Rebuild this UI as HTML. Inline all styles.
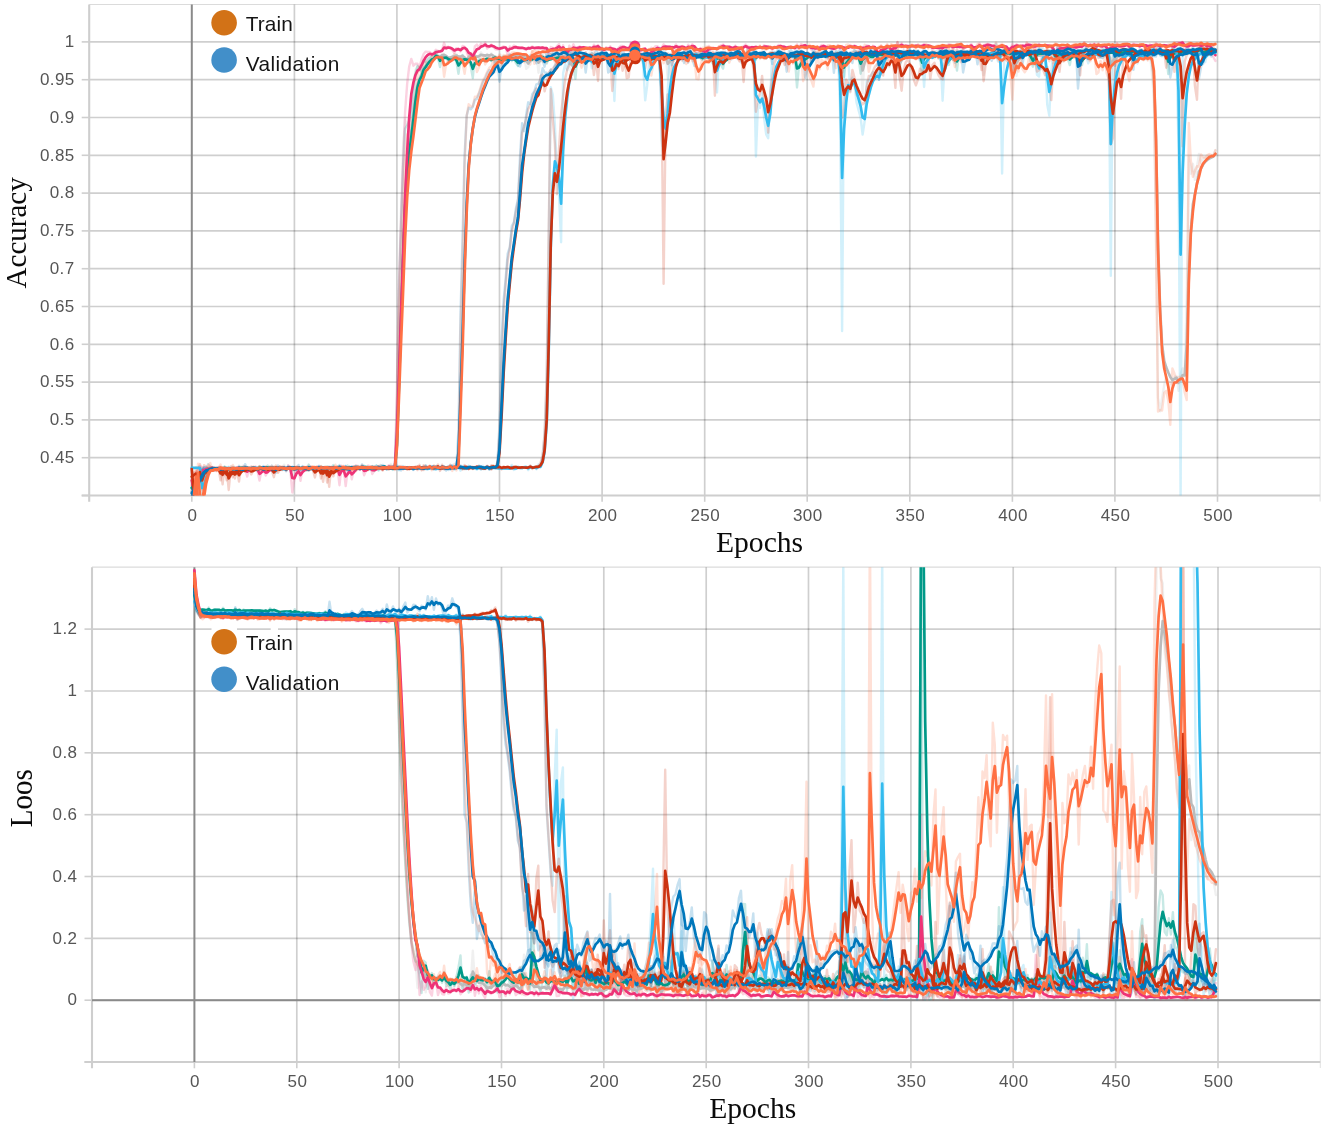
<!DOCTYPE html>
<html lang="en"><head><meta charset="utf-8"><title>Training curves</title>
<style>html,body{margin:0;padding:0;background:#fff}svg{display:block}.tk text{font-family:"Liberation Sans",sans-serif;font-size:17px;letter-spacing:.4px;fill:#555}.lg{font-family:"Liberation Sans","DejaVu Sans",sans-serif;font-size:20.8px;letter-spacing:.1px;fill:#141414}.ti{font-family:"Liberation Serif",serif;font-size:29.6px;fill:#0a0a0a}</style></head><body>
<svg width="1325" height="1130" viewBox="0 0 1325 1130">
<rect width="1325" height="1130" fill="#fff"/>
<defs><clipPath id="ct"><rect x="89.2" y="4.5" width="1230.8" height="491"/></clipPath>
<clipPath id="cb"><rect x="92" y="567.2" width="1228.3" height="494.8"/></clipPath></defs>
<line x1="89.2" x2="1320.1" y1="457.7" y2="457.7" stroke="#000" stroke-opacity="0.19" stroke-width="1.7"/>
<line x1="89.2" x2="1320.1" y1="419.9" y2="419.9" stroke="#000" stroke-opacity="0.19" stroke-width="1.7"/>
<line x1="89.2" x2="1320.1" y1="382.1" y2="382.1" stroke="#000" stroke-opacity="0.19" stroke-width="1.7"/>
<line x1="89.2" x2="1320.1" y1="344.3" y2="344.3" stroke="#000" stroke-opacity="0.19" stroke-width="1.7"/>
<line x1="89.2" x2="1320.1" y1="306.5" y2="306.5" stroke="#000" stroke-opacity="0.19" stroke-width="1.7"/>
<line x1="89.2" x2="1320.1" y1="268.7" y2="268.7" stroke="#000" stroke-opacity="0.19" stroke-width="1.7"/>
<line x1="89.2" x2="1320.1" y1="230.9" y2="230.9" stroke="#000" stroke-opacity="0.19" stroke-width="1.7"/>
<line x1="89.2" x2="1320.1" y1="193.1" y2="193.1" stroke="#000" stroke-opacity="0.19" stroke-width="1.7"/>
<line x1="89.2" x2="1320.1" y1="155.3" y2="155.3" stroke="#000" stroke-opacity="0.19" stroke-width="1.7"/>
<line x1="89.2" x2="1320.1" y1="117.5" y2="117.5" stroke="#000" stroke-opacity="0.19" stroke-width="1.7"/>
<line x1="89.2" x2="1320.1" y1="79.7" y2="79.7" stroke="#000" stroke-opacity="0.19" stroke-width="1.7"/>
<line x1="89.2" x2="1320.1" y1="41.9" y2="41.9" stroke="#000" stroke-opacity="0.19" stroke-width="1.7"/>
<line x1="89.2" x2="1320.1" y1="4.5" y2="4.5" stroke="#000" stroke-opacity="0.14" stroke-width="1.2"/>
<line x1="294.4" x2="294.4" y1="4.5" y2="495.5" stroke="#000" stroke-opacity="0.19" stroke-width="1.7"/>
<line x1="396.9" x2="396.9" y1="4.5" y2="495.5" stroke="#000" stroke-opacity="0.19" stroke-width="1.7"/>
<line x1="499.5" x2="499.5" y1="4.5" y2="495.5" stroke="#000" stroke-opacity="0.19" stroke-width="1.7"/>
<line x1="602.1" x2="602.1" y1="4.5" y2="495.5" stroke="#000" stroke-opacity="0.19" stroke-width="1.7"/>
<line x1="704.7" x2="704.7" y1="4.5" y2="495.5" stroke="#000" stroke-opacity="0.19" stroke-width="1.7"/>
<line x1="807.2" x2="807.2" y1="4.5" y2="495.5" stroke="#000" stroke-opacity="0.19" stroke-width="1.7"/>
<line x1="909.8" x2="909.8" y1="4.5" y2="495.5" stroke="#000" stroke-opacity="0.19" stroke-width="1.7"/>
<line x1="1012.4" x2="1012.4" y1="4.5" y2="495.5" stroke="#000" stroke-opacity="0.19" stroke-width="1.7"/>
<line x1="1114.9" x2="1114.9" y1="4.5" y2="495.5" stroke="#000" stroke-opacity="0.19" stroke-width="1.7"/>
<line x1="1217.5" x2="1217.5" y1="4.5" y2="495.5" stroke="#000" stroke-opacity="0.19" stroke-width="1.7"/>
<line x1="1320.1" x2="1320.1" y1="4.5" y2="501.5" stroke="#000" stroke-opacity="0.12" stroke-width="1"/>
<line x1="89.2" x2="89.2" y1="4.5" y2="501.8" stroke="#cecece" stroke-width="2.1"/>
<line x1="81.7" x2="1320.1" y1="495.5" y2="495.5" stroke="#cecece" stroke-width="2.1"/>
<line x1="81.7" x2="89.2" y1="495.5" y2="495.5" stroke="#cfcfcf" stroke-width="1.6"/>
<line x1="81.7" x2="89.2" y1="457.7" y2="457.7" stroke="#cfcfcf" stroke-width="1.6"/>
<line x1="81.7" x2="89.2" y1="419.9" y2="419.9" stroke="#cfcfcf" stroke-width="1.6"/>
<line x1="81.7" x2="89.2" y1="382.1" y2="382.1" stroke="#cfcfcf" stroke-width="1.6"/>
<line x1="81.7" x2="89.2" y1="344.3" y2="344.3" stroke="#cfcfcf" stroke-width="1.6"/>
<line x1="81.7" x2="89.2" y1="306.5" y2="306.5" stroke="#cfcfcf" stroke-width="1.6"/>
<line x1="81.7" x2="89.2" y1="268.7" y2="268.7" stroke="#cfcfcf" stroke-width="1.6"/>
<line x1="81.7" x2="89.2" y1="230.9" y2="230.9" stroke="#cfcfcf" stroke-width="1.6"/>
<line x1="81.7" x2="89.2" y1="193.1" y2="193.1" stroke="#cfcfcf" stroke-width="1.6"/>
<line x1="81.7" x2="89.2" y1="155.3" y2="155.3" stroke="#cfcfcf" stroke-width="1.6"/>
<line x1="81.7" x2="89.2" y1="117.5" y2="117.5" stroke="#cfcfcf" stroke-width="1.6"/>
<line x1="81.7" x2="89.2" y1="79.7" y2="79.7" stroke="#cfcfcf" stroke-width="1.6"/>
<line x1="81.7" x2="89.2" y1="41.9" y2="41.9" stroke="#cfcfcf" stroke-width="1.6"/>
<line x1="191.8" x2="191.8" y1="495.5" y2="501.8" stroke="#cfcfcf" stroke-width="1.6"/>
<line x1="294.4" x2="294.4" y1="495.5" y2="501.8" stroke="#cfcfcf" stroke-width="1.6"/>
<line x1="396.9" x2="396.9" y1="495.5" y2="501.8" stroke="#cfcfcf" stroke-width="1.6"/>
<line x1="499.5" x2="499.5" y1="495.5" y2="501.8" stroke="#cfcfcf" stroke-width="1.6"/>
<line x1="602.1" x2="602.1" y1="495.5" y2="501.8" stroke="#cfcfcf" stroke-width="1.6"/>
<line x1="704.7" x2="704.7" y1="495.5" y2="501.8" stroke="#cfcfcf" stroke-width="1.6"/>
<line x1="807.2" x2="807.2" y1="495.5" y2="501.8" stroke="#cfcfcf" stroke-width="1.6"/>
<line x1="909.8" x2="909.8" y1="495.5" y2="501.8" stroke="#cfcfcf" stroke-width="1.6"/>
<line x1="1012.4" x2="1012.4" y1="495.5" y2="501.8" stroke="#cfcfcf" stroke-width="1.6"/>
<line x1="1114.9" x2="1114.9" y1="495.5" y2="501.8" stroke="#cfcfcf" stroke-width="1.6"/>
<line x1="1217.5" x2="1217.5" y1="495.5" y2="501.8" stroke="#cfcfcf" stroke-width="1.6"/>
<line x1="191.8" x2="191.8" y1="4.5" y2="495.5" stroke="#8a8a8a" stroke-width="2"/>
<g class="tk" text-anchor="end">
<text x="74.6" y="462.9">0.45</text>
<text x="74.6" y="425.1">0.5</text>
<text x="74.6" y="387.3">0.55</text>
<text x="74.6" y="349.5">0.6</text>
<text x="74.6" y="311.7">0.65</text>
<text x="74.6" y="273.9">0.7</text>
<text x="74.6" y="236.1">0.75</text>
<text x="74.6" y="198.3">0.8</text>
<text x="74.6" y="160.5">0.85</text>
<text x="74.6" y="122.7">0.9</text>
<text x="74.6" y="84.9">0.95</text>
<text x="74.6" y="47.1">1</text>
</g>
<g class="tk" text-anchor="middle">
<text x="192.4" y="520.7">0</text>
<text x="295" y="520.7">50</text>
<text x="397.5" y="520.7">100</text>
<text x="500.1" y="520.7">150</text>
<text x="602.7" y="520.7">200</text>
<text x="705.3" y="520.7">250</text>
<text x="807.8" y="520.7">300</text>
<text x="910.4" y="520.7">350</text>
<text x="1013" y="520.7">400</text>
<text x="1115.5" y="520.7">450</text>
<text x="1218.1" y="520.7">500</text>
</g>
<g clip-path="url(#ct)" fill="none" stroke-linejoin="round" stroke-linecap="round">
<g stroke-width="2.4" stroke-opacity="0.22">
<polyline stroke="#bbbbbb" points="191.8,491.7 193.9,487.9 195.9,486.4 198,476.7 200,471.9 202.1,467.1 204.1,470.9 206.2,469.6 208.2,468.2 210.3,468.2 212.3,467.6 214.4,468 216.4,470.1 218.5,470 220.5,467.9 222.6,468.2 224.6,467.8 226.7,470.9 228.7,469.4 230.8,467 232.8,468.6 234.9,467.2 236.9,468.6 239,469.4 241,468.9 243.1,465.5 245.1,470.7 247.2,469.3 249.2,469.3 251.3,467.6 253.3,468.4 255.4,469 257.4,468.3 259.5,468.1 261.5,467.8 263.6,467.7 265.7,468.9 267.7,470.6 269.8,466.4 271.8,470.4 273.9,467.6 275.9,469.9 278,467.3 280,469.2 282.1,467.5 284.1,464.7 286.2,470.5 288.2,467.2 290.3,470.3 292.3,467.6 294.4,467.2 296.4,468.7 298.5,467.7 300.5,468.3 302.6,469.3 304.6,466.8 306.7,469.4 308.7,465.4 310.8,469.9 312.8,466.9 314.9,468.5 316.9,466.9 319,469.3 321,466.4 323.1,468.8 325.1,466.4 327.2,468.1 329.2,468.2 331.3,468.9 333.3,466.5 335.4,467.8 337.4,466.3 339.5,469.3 341.6,466.9 343.6,467.6 345.7,467.8 347.7,467.7 349.8,467.7 351.8,468.5 353.9,468.4 355.9,467.4 358,466.7 360,466.3 362.1,467.5 364.1,467.1 366.2,467.4 368.2,467.3 370.3,467.8 372.3,466.8 374.4,466 376.4,469.1 378.5,468 380.5,464.8 382.6,468.5 384.6,466.5 386.7,467.1 388.7,469.3 390.8,463.9 392.8,467 394.9,468.4 396.9,409 399,282.2 401,213.1 403.1,146.7 405.1,119.6 407.2,125.3 409.2,118.9 411.3,106.7 413.4,86.4 415.4,70.4 417.5,66.7 419.5,70.7 421.6,65.2 423.6,60.6 425.7,62.1 427.7,58.7 429.8,57.7 431.8,56.8 433.9,56.6 435.9,57 438,54.2 440,57 442.1,53.4 444.1,54.1 446.2,57.7 448.2,60.2 450.3,57.6 452.3,55.8 454.4,55.6 456.4,54.2 458.5,58.4 460.5,56.4 462.6,55.4 464.6,59.6 466.7,63 468.7,54.6 470.8,52.7 472.8,55.3 474.9,58.2 476.9,56.9 479,55.8 481,52.3 483.1,55.8 485.2,56.4 487.2,53.9 489.3,56.7 491.3,53.4 493.4,57.6 495.4,72 497.5,61.1 499.5,53.9 501.6,56 503.6,56.8 505.7,59 507.7,56.7 509.8,56.5 511.8,56.4 513.9,54.6 515.9,56.3 518,54.5 520,55.7 522.1,56.3 524.1,55.4 526.2,68.9 528.2,67.2 530.3,56.6 532.3,55.9 534.4,57.6 536.4,52.7 538.5,72.7 540.5,56.2 542.6,56.3 544.6,57.3 546.7,54.8 548.7,54.9 550.8,51.9 552.8,55.4 554.9,56.8 556.9,59.9 559,53.8 561.1,55 563.1,57.7 565.2,54.5 567.2,57.5 569.3,49.3 571.3,80.4 573.4,70.3 575.4,55.7 577.5,58.5 579.5,54.7 581.6,57.2 583.6,53.5 585.7,58.2 587.7,55.8 589.8,52.5 591.8,52.4 593.9,57.1 595.9,57 598,53 600,53.4 602.1,58.7 604.1,59.3 606.2,55.6 608.2,56.3 610.3,55.4 612.3,52.4 614.4,53.8 616.4,51.7 618.5,55.4 620.5,55.2 622.6,56.3 624.6,54.7 626.7,56.6 628.7,57.1 630.8,53 632.9,52.4 634.9,53.7 637,52.9 639,54.8 641.1,56.1 643.1,54.5 645.2,55.3 647.2,56.3 649.3,57 651.3,56.5 653.4,54.1 655.4,54.2 657.5,55.3 659.5,52.3 661.6,54.8 663.6,54.2 665.7,53 667.7,79 669.8,57.7 671.8,53 673.9,56.3 675.9,52.4 678,54.3 680,53.3 682.1,53.8 684.1,58.2 686.2,53.2 688.2,55.7 690.3,55.7 692.3,55.9 694.4,53.2 696.4,53.3 698.5,53.3 700.5,57.5 702.6,55.3 704.7,58.1 706.7,54.1 708.8,53.3 710.8,55.8 712.9,54 714.9,54.2 717,53.1 719,56.1 721.1,55.8 723.1,55.5 725.2,51.6 727.2,53.2 729.3,55.7 731.3,54.4 733.4,54.5 735.4,54.3 737.5,55 739.5,56.7 741.6,56.4 743.6,55.2 745.7,51.7 747.7,54 749.8,54.7 751.8,55 753.9,54.4 755.9,54 758,55.6 760,54.1 762.1,54.1 764.1,55.7 766.2,55.6 768.2,55.8 770.3,55.8 772.3,52.7 774.4,58.2 776.4,54.4 778.5,55.2 780.6,55.2 782.6,54.1 784.7,52.6 786.7,54.6 788.8,54.8 790.8,55.5 792.9,54.6 794.9,53 797,55.3 799,56.2 801.1,56.2 803.1,55.8 805.2,56.2 807.2,52.2 809.3,53.9 811.3,54.9 813.4,52.2 815.4,55.8 817.5,53.3 819.5,58.2 821.6,57.1 823.6,56.6 825.7,55.4 827.7,52.6 829.8,57.7 831.8,56.7 833.9,52.6 835.9,55.2 838,55 840,55.2 842.1,54.7 844.1,57.1 846.2,55.5 848.2,55.9 850.3,53.1 852.4,51 854.4,50.6 856.5,55.8 858.5,57.4 860.6,54.8 862.6,93.4 864.7,51 866.7,53.8 868.8,55.8 870.8,52.9 872.9,53.7 874.9,57.1 877,54.9 879,54.5 881.1,54.2 883.1,54.1 885.2,54.9 887.2,54 889.3,55.3 891.3,55.6 893.4,51.7 895.4,54 897.5,53.8 899.5,79.7 901.6,54.3 903.6,52.9 905.7,56.5 907.7,52.4 909.8,55.1 911.8,53.7 913.9,54.6 915.9,54 918,52.5 920,55.2 922.1,51.9 924.1,57 926.2,57.5 928.3,52.9 930.3,56 932.4,54.6 934.4,56.8 936.5,52.9 938.5,57.9 940.6,53.2 942.6,51.3 944.7,52.9 946.7,55.1 948.8,55.4 950.8,54.7 952.9,56 954.9,54.4 957,54.3 959,54.3 961.1,52.3 963.1,54.8 965.2,56.6 967.2,52.3 969.3,56 971.3,54.7 973.4,54.2 975.4,54.6 977.5,55.7 979.5,54.3 981.6,50.6 983.6,75.1 985.7,54.5 987.7,52.5 989.8,53.3 991.8,53.3 993.9,53.2 995.9,57.6 998,57.1 1000.1,56.7 1002.1,53.3 1004.2,52.2 1006.2,53.8 1008.3,54.8 1010.3,54.2 1012.4,54.5 1014.4,53.8 1016.5,75.8 1018.5,54.9 1020.6,55.4 1022.6,55.3 1024.7,52.2 1026.7,52.3 1028.8,53 1030.8,53.2 1032.9,64.6 1034.9,54.5 1037,53.3 1039,56 1041.1,54.3 1043.1,55.2 1045.2,52.8 1047.2,55.1 1049.3,54.2 1051.3,53.4 1053.4,52.1 1055.4,55.7 1057.5,55.5 1059.5,52.6 1061.6,55.9 1063.6,53.2 1065.7,55 1067.7,54.1 1069.8,56.9 1071.9,52.5 1073.9,54.8 1076,55.4 1078,50.6 1080.1,53.3 1082.1,51.4 1084.2,54.4 1086.2,55.2 1088.3,54.1 1090.3,51.7 1092.4,54.5 1094.4,53.5 1096.5,53.4 1098.5,55.7 1100.6,53.7 1102.6,57.9 1104.7,55.9 1106.7,52.3 1108.8,53.1 1110.8,80.6 1112.9,55.6 1114.9,57 1117,52.7 1119,54.1 1121.1,56.6 1123.1,53.7 1125.2,56.2 1127.2,53.6 1129.3,53.6 1131.3,53.4 1133.4,53.7 1135.4,53.8 1137.5,55.9 1139.5,54.4 1141.6,54.6 1143.6,54.2 1145.7,53.4 1147.8,53 1149.8,51.6 1151.9,73.6 1153.9,98.7 1156,227.3 1158,397.4 1160.1,411.4 1162.1,398.3 1164.2,385.1 1166.2,376.9 1168.3,380.4 1170.3,383.4 1172.4,384.9 1174.4,377.1 1176.5,375.9 1178.5,390.8 1180.6,374.1 1182.6,368.4 1184.7,376.3 1186.7,299.2 1188.8,157 1190.8,173.7 1192.9,163.8 1194.9,179.9 1197,166.7 1199,153.9 1201.1,163.3 1203.1,158.9 1205.2,157.4 1207.2,157.4 1209.3,156.7 1211.3,156.1 1213.4,154.8 1215.4,150"/>
<polyline stroke="#009988" points="191.8,487.9 193.9,484.2 195.9,482.6 198,476.1 200,472.6 202.1,469 204.1,470.9 206.2,469.6 208.2,468.2 210.3,468.5 212.3,467.6 214.4,469.3 216.4,469.2 218.5,467.4 220.5,469.4 222.6,469.1 224.6,466.5 226.7,470.5 228.7,469.8 230.8,469.4 232.8,468.3 234.9,467.6 236.9,468.1 239,467.9 241,467.3 243.1,467.9 245.1,469 247.2,467.5 249.2,468.7 251.3,469.6 253.3,467.2 255.4,469 257.4,468.7 259.5,466 261.5,468.9 263.6,469.5 265.7,468.1 267.7,465.6 269.8,470.2 271.8,467.3 273.9,468.1 275.9,468.1 278,468 280,469.2 282.1,468.5 284.1,468.1 286.2,468.5 288.2,467 290.3,467 292.3,470.3 294.4,466.9 296.4,469.6 298.5,468.2 300.5,467.9 302.6,467.8 304.6,468.6 306.7,470.7 308.7,464.6 310.8,469.3 312.8,468.5 314.9,466.8 316.9,469.1 319,469.2 321,466.4 323.1,467.8 325.1,469.1 327.2,466.3 329.2,468 331.3,469.4 333.3,465 335.4,468.7 337.4,469.3 339.5,466.5 341.6,467.9 343.6,466.7 345.7,470 347.7,465.6 349.8,467.3 351.8,467.5 353.9,467.4 355.9,466.6 358,467.7 360,468 362.1,468.6 364.1,465.7 366.2,467.2 368.2,467.9 370.3,467.6 372.3,466.8 374.4,470.9 376.4,465.4 378.5,470.6 380.5,465.4 382.6,466.4 384.6,466 386.7,469.2 388.7,466.6 390.8,467.7 392.8,469.9 394.9,465 396.9,412.8 399,293.4 401,228.4 403.1,165.9 405.1,128.6 407.2,125.4 409.2,121.4 411.3,112.8 413.4,93.6 415.4,74.4 417.5,65.8 419.5,69.3 421.6,71.2 423.6,60.2 425.7,62.5 427.7,59.5 429.8,57.5 431.8,56.6 433.9,57.6 435.9,51.2 438,58.1 440,67 442.1,55.1 444.1,56.7 446.2,57.4 448.2,61 450.3,61.6 452.3,58.8 454.4,57.1 456.4,61.8 458.5,73.7 460.5,59.4 462.6,55 464.6,58.9 466.7,60 468.7,60 470.8,66.7 472.8,78.1 474.9,55.1 476.9,62.1 479,59.1 481,59.2 483.1,59.9 485.2,58.9 487.2,57.5 489.3,60 491.3,61 493.4,56 495.4,56.4 497.5,60.2 499.5,58.2 501.6,63.1 503.6,56.2 505.7,60.8 507.7,59.2 509.8,54.6 511.8,61.1 513.9,58.3 515.9,63.1 518,66 520,59.8 522.1,57.4 524.1,60.4 526.2,59 528.2,56.8 530.3,58.6 532.3,60.5 534.4,55.4 536.4,58.3 538.5,56 540.5,60.4 542.6,55.3 544.6,60.8 546.7,63.5 548.7,58.3 550.8,58.4 552.8,57.4 554.9,59 556.9,56.8 559,57.1 561.1,59.5 563.1,60.3 565.2,58.3 567.2,56.3 569.3,56.6 571.3,58.7 573.4,59.6 575.4,78.8 577.5,56.1 579.5,59.2 581.6,55.5 583.6,57.7 585.7,58.1 587.7,58.9 589.8,55.3 591.8,57.9 593.9,60.3 595.9,56 598,58.4 600,55.7 602.1,57.5 604.1,58.8 606.2,57.2 608.2,58.3 610.3,58.8 612.3,57.2 614.4,55.9 616.4,57.5 618.5,57.6 620.5,58.3 622.6,56.3 624.6,57 626.7,55.8 628.7,57 630.8,53.9 632.9,60.5 634.9,57.2 637,56.3 639,55.8 641.1,60 643.1,58.9 645.2,56.8 647.2,55.1 649.3,55.4 651.3,60 653.4,56.6 655.4,55 657.5,57.2 659.5,58.8 661.6,58 663.6,58.9 665.7,54.4 667.7,57.4 669.8,57.6 671.8,58.2 673.9,56.8 675.9,58.2 678,58.1 680,56.5 682.1,56.9 684.1,55.8 686.2,56.5 688.2,54.7 690.3,57.1 692.3,56.3 694.4,56.4 696.4,58.1 698.5,54.4 700.5,58.3 702.6,60 704.7,54 706.7,55.5 708.8,57.6 710.8,60.1 712.9,63.6 714.9,55.6 717,58.7 719,55.9 721.1,65.1 723.1,68.6 725.2,57 727.2,57.4 729.3,55.1 731.3,57.5 733.4,54.9 735.4,56 737.5,57.2 739.5,55.7 741.6,54.9 743.6,54.3 745.7,56.9 747.7,53.2 749.8,55.5 751.8,57 753.9,58.7 755.9,59.7 758,53.6 760,56.5 762.1,55.1 764.1,54 766.2,58.6 768.2,54.9 770.3,52.6 772.3,54.9 774.4,56 776.4,55 778.5,56 780.6,54.5 782.6,53.7 784.7,56.5 786.7,54.8 788.8,55.3 790.8,54.5 792.9,54.4 794.9,57.7 797,87.5 799,65.9 801.1,58.1 803.1,55.8 805.2,57.8 807.2,55.5 809.3,54.6 811.3,57.3 813.4,56.4 815.4,56.5 817.5,56.1 819.5,56.3 821.6,56.7 823.6,53.9 825.7,55.5 827.7,56.5 829.8,53.3 831.8,56.3 833.9,53.6 835.9,57.4 838,52.6 840,62.3 842.1,66.7 844.1,76.8 846.2,57.3 848.2,56.5 850.3,54.2 852.4,55.7 854.4,55.1 856.5,56.6 858.5,57.6 860.6,73.7 862.6,53.8 864.7,55.1 866.7,53.1 868.8,53.6 870.8,59.5 872.9,57.4 874.9,51.6 877,55.7 879,54.4 881.1,55 883.1,54.2 885.2,51.1 887.2,56.5 889.3,54.6 891.3,54.7 893.4,56.5 895.4,55.8 897.5,54.7 899.5,54.4 901.6,53.8 903.6,57.9 905.7,56.7 907.7,51.1 909.8,54.9 911.8,53.1 913.9,55.4 915.9,55.6 918,50.7 920,56.9 922.1,74.7 924.1,52.9 926.2,54.3 928.3,57.1 930.3,55.6 932.4,56 934.4,56.9 936.5,54.8 938.5,52.6 940.6,51.1 942.6,58.6 944.7,55 946.7,59.6 948.8,65 950.8,55.3 952.9,54.6 954.9,52.9 957,70.6 959,52.3 961.1,52.7 963.1,52.8 965.2,51.7 967.2,55.4 969.3,54.1 971.3,52.3 973.4,52 975.4,52.7 977.5,55 979.5,54.7 981.6,55.9 983.6,54.2 985.7,55 987.7,54.2 989.8,54.1 991.8,52.1 993.9,52.9 995.9,54.8 998,55.7 1000.1,53.5 1002.1,52.8 1004.2,52.2 1006.2,53.5 1008.3,52.4 1010.3,54.9 1012.4,52.4 1014.4,52.4 1016.5,54.3 1018.5,54.8 1020.6,51.2 1022.6,55.3 1024.7,52.1 1026.7,54 1028.8,53.9 1030.8,61.5 1032.9,66.7 1034.9,53.2 1037,50.3 1039,51.3 1041.1,54 1043.1,52.7 1045.2,51.9 1047.2,54.2 1049.3,50.2 1051.3,53.6 1053.4,52.3 1055.4,61.7 1057.5,54.8 1059.5,54.4 1061.6,53.8 1063.6,51 1065.7,53.7 1067.7,58.4 1069.8,65.1 1071.9,54.6 1073.9,52.4 1076,57.5 1078,55.6 1080.1,61.2 1082.1,65 1084.2,53.4 1086.2,54.9 1088.3,53.8 1090.3,54.5 1092.4,52.8 1094.4,54.1 1096.5,52.6 1098.5,52.3 1100.6,50.5 1102.6,54.9 1104.7,55.9 1106.7,49.3 1108.8,52.1 1110.8,53.4 1112.9,51.8 1114.9,54.3 1117,53 1119,51.3 1121.1,53.1 1123.1,52.3 1125.2,51.8 1127.2,52.4 1129.3,52.9 1131.3,51.6 1133.4,50.3 1135.4,51.4 1137.5,55.5 1139.5,51.1 1141.6,55.7 1143.6,54.3 1145.7,51.1 1147.8,53.1 1149.8,50.1 1151.9,55.5 1153.9,50.2 1156,53.3 1158,52.9 1160.1,51.3 1162.1,49.9 1164.2,54.1 1166.2,54.9 1168.3,74.1 1170.3,51.9 1172.4,49.9 1174.4,51.6 1176.5,52.7 1178.5,52.9 1180.6,52.6 1182.6,50.2 1184.7,54.9 1186.7,52.7 1188.8,53 1190.8,49.7 1192.9,51.7 1194.9,53.1 1197,50.5 1199,48.7 1201.1,50.6 1203.1,54.4 1205.2,52 1207.2,49.8 1209.3,55 1211.3,53.4 1213.4,51.9 1215.4,50.5"/>
<polyline stroke="#ee3377" points="191.8,480.4 193.9,498.5 195.9,474.3 198,468.3 200,466 202.1,467.1 204.1,469.1 206.2,468.6 208.2,468.6 210.3,468.3 212.3,466.9 214.4,470.6 216.4,470.2 218.5,467.1 220.5,468.1 222.6,468.6 224.6,468.3 226.7,469 228.7,469.1 230.8,469 232.8,468.2 234.9,468.8 236.9,467.2 239,468.4 241,470.3 243.1,466.8 245.1,468.9 247.2,476.6 249.2,467.4 251.3,468.8 253.3,470.8 255.4,466.4 257.4,470.5 259.5,480.6 261.5,470.1 263.6,468 265.7,475.5 267.7,471.5 269.8,467 271.8,469.5 273.9,468.1 275.9,468.7 278,466.8 280,469 282.1,467.5 284.1,467.6 286.2,470.5 288.2,465.3 290.3,469.3 292.3,492.5 294.4,479 296.4,466.6 298.5,467.5 300.5,480.8 302.6,467.4 304.6,467.8 306.7,466.9 308.7,468.8 310.8,466.7 312.8,469.6 314.9,468.1 316.9,466.6 319,467.5 321,468.4 323.1,467.1 325.1,468 327.2,467.1 329.2,467 331.3,468 333.3,467.2 335.4,468.8 337.4,468.1 339.5,485.2 341.6,465.6 343.6,467.9 345.7,486 347.7,470.2 349.8,466.9 351.8,479.3 353.9,469.3 355.9,465.3 358,466.8 360,469.9 362.1,466.1 364.1,475.3 366.2,470.1 368.2,465.5 370.3,466.3 372.3,474 374.4,470.3 376.4,467.7 378.5,466.4 380.5,466.1 382.6,469.7 384.6,467.4 386.7,468.1 388.7,465.3 390.8,468.7 392.8,466.3 394.9,467 396.9,387 399,283.8 401,223.3 403.1,162.9 405.1,111.8 407.2,83.5 409.2,66.5 411.3,58.9 413.4,65.7 415.4,63.8 417.5,63.8 419.5,66.8 421.6,59.3 423.6,54.1 425.7,51.6 427.7,52 429.8,51.9 431.8,55.3 433.9,52.7 435.9,49.8 438,51 440,51.3 442.1,49.5 444.1,42.8 446.2,48.9 448.2,46.6 450.3,48.2 452.3,50.2 454.4,53.1 456.4,48.1 458.5,48.7 460.5,51.4 462.6,45.9 464.6,46.9 466.7,51.9 468.7,57.5 470.8,55.3 472.8,60.3 474.9,46.4 476.9,44.6 479,47.6 481,43.6 483.1,45.2 485.2,42.5 487.2,48.5 489.3,46.9 491.3,44.4 493.4,47 495.4,49.2 497.5,49.5 499.5,49.1 501.6,47.6 503.6,46.4 505.7,47.6 507.7,54.9 509.8,46.5 511.8,47.9 513.9,45.6 515.9,46.8 518,48.5 520,48.1 522.1,47.8 524.1,49 526.2,49.9 528.2,47.2 530.3,48.4 532.3,46.4 534.4,48.8 536.4,47.3 538.5,47.3 540.5,48.5 542.6,47.2 544.6,48.9 546.7,48.2 548.7,56 550.8,47 552.8,47.8 554.9,49.1 556.9,46.1 559,44.1 561.1,52.1 563.1,45.3 565.2,53.9 567.2,56.4 569.3,45.8 571.3,49.9 573.4,44.3 575.4,49 577.5,48 579.5,46.3 581.6,47.8 583.6,47 585.7,48.5 587.7,49.3 589.8,47.1 591.8,49.3 593.9,44.7 595.9,47.2 598,45 600,50.1 602.1,51.1 604.1,50.9 606.2,47.2 608.2,49.2 610.3,46.2 612.3,49.9 614.4,49.4 616.4,52.1 618.5,47.9 620.5,46 622.6,46 624.6,47 626.7,49.8 628.7,48.7 630.8,42.9 632.9,50.7 634.9,47 637,47.3 639,50.3 641.1,52.3 643.1,48.3 645.2,48.1 647.2,59.5 649.3,57.8 651.3,47.7 653.4,49.8 655.4,46.1 657.5,46.1 659.5,50.1 661.6,47.9 663.6,44.3 665.7,46.6 667.7,46.8 669.8,46.8 671.8,47.9 673.9,47.9 675.9,44.4 678,48 680,47.6 682.1,46.2 684.1,47.4 686.2,50.3 688.2,44.7 690.3,47.8 692.3,44.2 694.4,46.9 696.4,53.3 698.5,50.8 700.5,47.9 702.6,52.8 704.7,53.5 706.7,51 708.8,45.9 710.8,48.4 712.9,47.4 714.9,48.6 717,49.3 719,46.6 721.1,45.4 723.1,44.5 725.2,47.3 727.2,47.4 729.3,46.8 731.3,48.8 733.4,48 735.4,45.6 737.5,48.8 739.5,50.5 741.6,47.2 743.6,46.3 745.7,44.4 747.7,48.8 749.8,48.8 751.8,46.7 753.9,47.3 755.9,46.6 758,48.1 760,46.7 762.1,48.2 764.1,45.2 766.2,46.8 768.2,47.3 770.3,48.1 772.3,49.7 774.4,46.7 776.4,47 778.5,45 780.6,45.6 782.6,47.5 784.7,47.3 786.7,48.9 788.8,46.9 790.8,46.6 792.9,47.8 794.9,48.9 797,44.4 799,48.9 801.1,43.9 803.1,45.3 805.2,44.8 807.2,49.2 809.3,46 811.3,49.7 813.4,47.4 815.4,49.5 817.5,47.8 819.5,47.5 821.6,44.9 823.6,45.1 825.7,48 827.7,47.5 829.8,48.6 831.8,48.7 833.9,49.7 835.9,46.6 838,45.5 840,48.2 842.1,46 844.1,48.9 846.2,48.3 848.2,47.4 850.3,44.9 852.4,47.8 854.4,45.3 856.5,47.6 858.5,48.7 860.6,50.1 862.6,46.9 864.7,48 866.7,45.3 868.8,46 870.8,49.8 872.9,45.7 874.9,47.2 877,57.1 879,56 881.1,45.6 883.1,49.3 885.2,47.4 887.2,45.3 889.3,46.1 891.3,55.3 893.4,45.6 895.4,48.4 897.5,42.2 899.5,46.2 901.6,43.1 903.6,47.7 905.7,45.8 907.7,46.2 909.8,47 911.8,46 913.9,46.1 915.9,45.1 918,46.2 920,46.5 922.1,45.7 924.1,44 926.2,46.8 928.3,45.6 930.3,46.4 932.4,50 934.4,47.5 936.5,47.5 938.5,48.4 940.6,46.9 942.6,49 944.7,45.2 946.7,47 948.8,43.9 950.8,45.8 952.9,48.7 954.9,46.4 957,46 959,47.4 961.1,46.7 963.1,48 965.2,47.1 967.2,45.3 969.3,46.7 971.3,43.9 973.4,50.2 975.4,47.1 977.5,46.4 979.5,43.2 981.6,48.7 983.6,45.2 985.7,44.8 987.7,43.7 989.8,45.5 991.8,46.9 993.9,45.9 995.9,51.1 998,46.3 1000.1,45.2 1002.1,46.9 1004.2,45.7 1006.2,46.7 1008.3,52.3 1010.3,48.9 1012.4,44.2 1014.4,45.8 1016.5,44.4 1018.5,46.3 1020.6,46 1022.6,45.5 1024.7,46.6 1026.7,43.4 1028.8,44.4 1030.8,45.6 1032.9,48 1034.9,46.6 1037,45.3 1039,43.7 1041.1,46.2 1043.1,46 1045.2,44.9 1047.2,45.7 1049.3,46.1 1051.3,47.8 1053.4,52.1 1055.4,60.3 1057.5,46.7 1059.5,45.8 1061.6,48 1063.6,48.3 1065.7,48.2 1067.7,44.8 1069.8,48.7 1071.9,45 1073.9,47.6 1076,48.4 1078,46.1 1080.1,46.4 1082.1,46.4 1084.2,42.2 1086.2,45.5 1088.3,46.8 1090.3,44 1092.4,46.3 1094.4,43.4 1096.5,48.6 1098.5,43.3 1100.6,47.6 1102.6,46.6 1104.7,44.8 1106.7,49.9 1108.8,52.3 1110.8,45.6 1112.9,45.6 1114.9,48.1 1117,43.2 1119,46.9 1121.1,46.3 1123.1,45.5 1125.2,45.1 1127.2,43.4 1129.3,49.4 1131.3,44.9 1133.4,43.6 1135.4,45 1137.5,45.6 1139.5,47.3 1141.6,44.4 1143.6,46.1 1145.7,44.9 1147.8,47.1 1149.8,45.5 1151.9,45.3 1153.9,47.7 1156,42.9 1158,45.5 1160.1,47.5 1162.1,45.3 1164.2,44.7 1166.2,45.7 1168.3,46.8 1170.3,45.2 1172.4,47.3 1174.4,47.6 1176.5,42.4 1178.5,42.1 1180.6,42.2 1182.6,41.9 1184.7,49.9 1186.7,47.5 1188.8,46.1 1190.8,43 1192.9,46.1 1194.9,45.6 1197,44.9 1199,44.2 1201.1,47.5 1203.1,44.6 1205.2,43.9 1207.2,48.6 1209.3,44 1211.3,51.2 1213.4,57.2 1215.4,60.9"/>
<polyline stroke="#33bbee" points="191.8,467.9 193.9,467.9 195.9,467.9 198,467.9 200,467.9 202.1,497 204.1,480.4 206.2,468.3 208.2,464.1 210.3,467.4 212.3,467.2 214.4,470.8 216.4,469.5 218.5,467.5 220.5,467.8 222.6,469.4 224.6,470.3 226.7,468.3 228.7,466.7 230.8,471.2 232.8,466.6 234.9,468.8 236.9,468.5 239,468.1 241,469.8 243.1,468.4 245.1,466.5 247.2,470.3 249.2,468.9 251.3,469.9 253.3,468.2 255.4,467.5 257.4,467.7 259.5,468.7 261.5,468.3 263.6,468.4 265.7,468.6 267.7,467.7 269.8,469.4 271.8,467.3 273.9,469.4 275.9,470.3 278,468.9 280,467.9 282.1,468.9 284.1,469.6 286.2,468.6 288.2,467.8 290.3,468.2 292.3,467.8 294.4,470.1 296.4,467.5 298.5,467.6 300.5,468.8 302.6,466.8 304.6,470.2 306.7,468.2 308.7,468.3 310.8,469.1 312.8,468.3 314.9,468.2 316.9,468.7 319,469 321,468.6 323.1,468.2 325.1,470.1 327.2,467.2 329.2,469.8 331.3,468 333.3,469.5 335.4,467.6 337.4,468.9 339.5,468.4 341.6,469.1 343.6,467.8 345.7,466.7 347.7,471.5 349.8,466.6 351.8,468.5 353.9,469 355.9,469.5 358,465.8 360,469.2 362.1,467.4 364.1,469.4 366.2,468.9 368.2,466.6 370.3,468.2 372.3,469.2 374.4,468.4 376.4,467.5 378.5,469.6 380.5,468.7 382.6,467.8 384.6,467.1 386.7,468 388.7,468.6 390.8,466.9 392.8,469.3 394.9,468.7 396.9,465.3 399,470.4 401,467.3 403.1,468 405.1,468.5 407.2,468.1 409.2,467.6 411.3,468.1 413.4,469.2 415.4,467.8 417.5,466.7 419.5,468.3 421.6,469.2 423.6,467.8 425.7,469.3 427.7,468.9 429.8,467.9 431.8,466 433.9,469.9 435.9,469.9 438,467 440,468.8 442.1,466.9 444.1,467.3 446.2,469.3 448.2,467.8 450.3,469.2 452.3,466.2 454.4,469.7 456.4,467.6 458.5,465.5 460.5,470.7 462.6,467.3 464.6,468.3 466.7,467.5 468.7,467.9 470.8,466.7 472.8,468.5 474.9,467.7 476.9,469.8 479,466.8 481,469.8 483.1,465.8 485.2,468.9 487.2,466.9 489.3,469.2 491.3,467.4 493.4,468.1 495.4,467.4 497.5,468.5 499.5,468.6 501.6,468 503.6,468.5 505.7,468.6 507.7,468.7 509.8,468.8 511.8,464.9 513.9,470 515.9,468.7 518,466.1 520,468.3 522.1,468.3 524.1,466.6 526.2,466.6 528.2,470.1 530.3,465.8 532.3,468.2 534.4,467 536.4,469.3 538.5,464.4 540.5,467 542.6,455.4 544.6,435.8 546.7,381.7 548.7,244.1 550.8,87.3 552.8,94.8 554.9,125.1 556.9,174.6 559,195 561.1,242.2 563.1,73.3 565.2,64.1 567.2,70.2 569.3,57.2 571.3,61.4 573.4,60.1 575.4,58.2 577.5,56 579.5,57.4 581.6,58.6 583.6,54.1 585.7,56.2 587.7,61.6 589.8,56.4 591.8,68.3 593.9,54.6 595.9,58.7 598,55.7 600,57.6 602.1,50.6 604.1,56.8 606.2,53.3 608.2,56.8 610.3,56.5 612.3,54.7 614.4,101 616.4,51.5 618.5,57.2 620.5,53.1 622.6,62.5 624.6,63.3 626.7,54.5 628.7,58.9 630.8,51.7 632.9,55.4 634.9,56.2 637,52.6 639,57.7 641.1,57.7 643.1,64.1 645.2,100.4 647.2,85.4 649.3,59.8 651.3,62.9 653.4,53.8 655.4,55.3 657.5,59.5 659.5,57.3 661.6,139.6 663.6,157.2 665.7,145.8 667.7,91 669.8,55.9 671.8,55.5 673.9,54.5 675.9,58 678,57.7 680,53.9 682.1,54.9 684.1,55.1 686.2,56 688.2,54.4 690.3,55.2 692.3,57.4 694.4,52.3 696.4,54.1 698.5,56.9 700.5,56.2 702.6,57.3 704.7,58.5 706.7,57.4 708.8,58.2 710.8,56.5 712.9,54.6 714.9,55.8 717,92.5 719,55.7 721.1,56.8 723.1,57.7 725.2,53 727.2,58 729.3,53.6 731.3,59.4 733.4,54.7 735.4,57 737.5,53.5 739.5,55.1 741.6,57.5 743.6,54.2 745.7,53.2 747.7,53.4 749.8,53.3 751.8,57.1 753.9,51.5 755.9,156.6 758,104.3 760,108 762.1,92.9 764.1,117.5 766.2,134.5 768.2,138.3 770.3,95.6 772.3,54.2 774.4,52.7 776.4,53.8 778.5,55.9 780.6,54.9 782.6,55.4 784.7,59.6 786.7,57.5 788.8,55.8 790.8,53.2 792.9,58.5 794.9,54.8 797,56.6 799,53.7 801.1,54.1 803.1,57.9 805.2,57.6 807.2,52 809.3,53.5 811.3,61.5 813.4,53.9 815.4,55.6 817.5,54.6 819.5,56.4 821.6,54.2 823.6,52 825.7,52.9 827.7,53.4 829.8,55.7 831.8,53.6 833.9,56.6 835.9,55.9 838,54.9 840,107 842.1,331.1 844.1,55.1 846.2,62.7 848.2,58.9 850.3,90.7 852.4,77.8 854.4,83.5 856.5,102.4 858.5,109.9 860.6,117.5 862.6,134.5 864.7,121.3 866.7,81.2 868.8,81.2 870.8,75.9 872.9,72.1 874.9,73.7 877,72.5 879,79.7 881.1,64.2 883.1,54.8 885.2,50.7 887.2,53.8 889.3,54 891.3,57.4 893.4,54.4 895.4,52 897.5,54 899.5,53.2 901.6,55.6 903.6,53.4 905.7,56.2 907.7,55 909.8,52.4 911.8,51.5 913.9,56 915.9,55.3 918,55.1 920,54.9 922.1,54.5 924.1,87 926.2,54.1 928.3,54.8 930.3,53.7 932.4,58.4 934.4,54.4 936.5,50.8 938.5,58.1 940.6,55.6 942.6,100.7 944.7,63.8 946.7,55.3 948.8,56.6 950.8,50.9 952.9,59.6 954.9,55.7 957,58.9 959,58.7 961.1,50.6 963.1,50.3 965.2,58 967.2,54.9 969.3,54.5 971.3,52.8 973.4,55.1 975.4,53.5 977.5,54.1 979.5,54.7 981.6,54.1 983.6,51.3 985.7,54.2 987.7,53 989.8,54.5 991.8,52.7 993.9,51 995.9,54.5 998,61.5 1000.1,55.6 1002.1,173.6 1004.2,60.7 1006.2,52.9 1008.3,48.8 1010.3,54.3 1012.4,50.7 1014.4,54.7 1016.5,54.4 1018.5,52.8 1020.6,55.9 1022.6,58.7 1024.7,53.1 1026.7,55 1028.8,53 1030.8,50.1 1032.9,53.9 1034.9,57.4 1037,74.9 1039,76.6 1041.1,57.7 1043.1,48.3 1045.2,55.9 1047.2,104.3 1049.3,115.6 1051.3,71 1053.4,52.4 1055.4,54 1057.5,54 1059.5,51.7 1061.6,57.8 1063.6,61.1 1065.7,52.6 1067.7,54.7 1069.8,51.1 1071.9,53.7 1073.9,54 1076,54.4 1078,52.1 1080.1,51.4 1082.1,54.4 1084.2,58.1 1086.2,56.3 1088.3,63.3 1090.3,51.8 1092.4,56.2 1094.4,52.3 1096.5,53.9 1098.5,55.7 1100.6,57.1 1102.6,52.9 1104.7,52.7 1106.7,56.6 1108.8,57.8 1110.8,275.8 1112.9,48.2 1114.9,55.4 1117,53.7 1119,55.3 1121.1,55.4 1123.1,49.4 1125.2,56.8 1127.2,52.1 1129.3,54.5 1131.3,59.8 1133.4,63.3 1135.4,59 1137.5,63.4 1139.5,50.7 1141.6,54 1143.6,57 1145.7,49.5 1147.8,55.7 1149.8,54.8 1151.9,48.2 1153.9,51.6 1156,52.8 1158,49.7 1160.1,55.4 1162.1,56.3 1164.2,54.7 1166.2,52 1168.3,52.1 1170.3,54.2 1172.4,48 1174.4,51.6 1176.5,52.8 1178.5,149.7 1180.6,499.8 1182.6,52 1184.7,53.5 1186.7,46.4 1188.8,49.9 1190.8,52.1 1192.9,53.2 1194.9,56.5 1197,49.9 1199,54.1 1201.1,50.1 1203.1,56 1205.2,62.2 1207.2,52.1 1209.3,52.7 1211.3,52.8 1213.4,52.5 1215.4,52.1"/>
<polyline stroke="#cc3311" points="191.8,476.6 193.9,472.8 195.9,471.3 198,483.7 200,474.5 202.1,474.7 204.1,470.9 206.2,469.6 208.2,468.2 210.3,466.7 212.3,469 214.4,468.9 216.4,469.5 218.5,468.2 220.5,480.3 222.6,467.5 224.6,470.7 226.7,480.3 228.7,474.2 230.8,466.5 232.8,477.2 234.9,469.6 236.9,469.5 239,481.5 241,467.9 243.1,467.7 245.1,471.4 247.2,467.4 249.2,469.6 251.3,474.5 253.3,470 255.4,468.1 257.4,467.5 259.5,469.8 261.5,468.1 263.6,469.7 265.7,468.4 267.7,470.7 269.8,468.2 271.8,468.6 273.9,469 275.9,465.6 278,472.8 280,469.5 282.1,466.7 284.1,468 286.2,468.8 288.2,467.2 290.3,466.8 292.3,470.5 294.4,469.7 296.4,467.7 298.5,466.9 300.5,468.8 302.6,469 304.6,467.9 306.7,468.3 308.7,470.6 310.8,466.6 312.8,469.7 314.9,477.5 316.9,468.8 319,467.9 321,478.6 323.1,469.2 325.1,468 327.2,482.5 329.2,468.4 331.3,469.4 333.3,476.3 335.4,469.3 337.4,468.3 339.5,467.8 341.6,466.6 343.6,470.3 345.7,468 347.7,467.7 349.8,469.3 351.8,467.4 353.9,466.7 355.9,471.1 358,466.8 360,469 362.1,465.2 364.1,468.8 366.2,467.8 368.2,468.6 370.3,469.2 372.3,467.2 374.4,467.7 376.4,468.2 378.5,465.9 380.5,468.4 382.6,469.6 384.6,467.8 386.7,467.4 388.7,469.6 390.8,467.3 392.8,468.5 394.9,467.3 396.9,467.9 399,468.7 401,465.9 403.1,469.5 405.1,466.7 407.2,469.6 409.2,468.2 411.3,467.9 413.4,467.9 415.4,466.6 417.5,470.1 419.5,464.8 421.6,470.4 423.6,465.2 425.7,468.6 427.7,468.5 429.8,466.4 431.8,468.9 433.9,467.4 435.9,467.6 438,464.4 440,470.9 442.1,464.7 444.1,469.3 446.2,468.3 448.2,467.7 450.3,465.8 452.3,468.7 454.4,468.4 456.4,466.3 458.5,467.7 460.5,466.5 462.6,469.6 464.6,465 466.7,467.2 468.7,469.2 470.8,467.4 472.8,466.7 474.9,468.1 476.9,466.4 479,467.4 481,467.9 483.1,468.8 485.2,469 487.2,465.7 489.3,469.1 491.3,465.2 493.4,466.1 495.4,468.5 497.5,463.4 499.5,433.3 501.6,360.2 503.6,310.4 505.7,283.8 507.7,259.7 509.8,248.6 511.8,231.4 513.9,223.3 515.9,211.9 518,201.5 520,167.4 522.1,132.9 524.1,126.3 526.2,118.6 528.2,108.8 530.3,105.3 532.3,98.5 534.4,92.3 536.4,88.4 538.5,91.6 540.5,75.9 542.6,74.6 544.6,91.4 546.7,83.2 548.7,72.9 550.8,70 552.8,68.3 554.9,66.1 556.9,64.2 559,56.9 561.1,63.3 563.1,59.6 565.2,59.9 567.2,57.4 569.3,55.6 571.3,56.9 573.4,49.7 575.4,54.4 577.5,56.9 579.5,58.6 581.6,60.1 583.6,54.2 585.7,55.4 587.7,56.3 589.8,54.3 591.8,56.4 593.9,75.1 595.9,60.2 598,56.8 600,56 602.1,55.3 604.1,56.2 606.2,59.1 608.2,58.2 610.3,55.3 612.3,55.2 614.4,57.9 616.4,58.3 618.5,57 620.5,58.2 622.6,70.7 624.6,64.3 626.7,55.3 628.7,57.9 630.8,55.1 632.9,51.6 634.9,59.2 637,56 639,51.6 641.1,55.1 643.1,56.4 645.2,68 647.2,57 649.3,58.9 651.3,60.8 653.4,56.5 655.4,59.2 657.5,57.6 659.5,55.5 661.6,59.1 663.6,54.6 665.7,58.3 667.7,53.2 669.8,58 671.8,53.9 673.9,55.7 675.9,56.8 678,53.5 680,56.4 682.1,60.5 684.1,54.2 686.2,57.3 688.2,56.1 690.3,54.8 692.3,54 694.4,55.4 696.4,57.7 698.5,56.6 700.5,57.4 702.6,55.5 704.7,56.4 706.7,53.5 708.8,60.4 710.8,53.3 712.9,52 714.9,54.9 717,56 719,53 721.1,57.3 723.1,55.2 725.2,52.5 727.2,54.4 729.3,55.7 731.3,55.7 733.4,56 735.4,52 737.5,51.5 739.5,52.8 741.6,55.6 743.6,54.6 745.7,56.8 747.7,56.9 749.8,53.1 751.8,53.5 753.9,57.5 755.9,56.9 758,53.6 760,57.2 762.1,52.1 764.1,52.4 766.2,57.2 768.2,55.1 770.3,52.6 772.3,52.7 774.4,54.9 776.4,54.9 778.5,55 780.6,53.3 782.6,59.5 784.7,65 786.7,55.4 788.8,54.4 790.8,54.6 792.9,55 794.9,56.6 797,53.6 799,52.4 801.1,54.8 803.1,52.8 805.2,53.8 807.2,52.9 809.3,55.3 811.3,62.5 813.4,52.2 815.4,51.9 817.5,56.9 819.5,57.4 821.6,55.3 823.6,54 825.7,52.9 827.7,56.9 829.8,53.8 831.8,55.9 833.9,53 835.9,54.2 838,53.4 840,54.9 842.1,72.3 844.1,51.9 846.2,57.9 848.2,56.4 850.3,54.8 852.4,54.1 854.4,55 856.5,51 858.5,52 860.6,54.6 862.6,49.8 864.7,53.8 866.7,50.9 868.8,56.3 870.8,54.5 872.9,54.6 874.9,49.1 877,52.1 879,54.6 881.1,53 883.1,53.8 885.2,53.6 887.2,55.1 889.3,51.2 891.3,52.7 893.4,57 895.4,52.4 897.5,51.5 899.5,53 901.6,54 903.6,51.9 905.7,51.9 907.7,49.6 909.8,54.8 911.8,52.6 913.9,53.2 915.9,54.1 918,52.8 920,55.7 922.1,54.1 924.1,55.3 926.2,56 928.3,53.5 930.3,54.7 932.4,53.5 934.4,51.6 936.5,53.7 938.5,57.8 940.6,47.7 942.6,53.8 944.7,51.1 946.7,55.1 948.8,53.4 950.8,57.3 952.9,60.1 954.9,53.7 957,49.1 959,56.1 961.1,62.2 963.1,48.4 965.2,52.9 967.2,56.2 969.3,50.9 971.3,51.5 973.4,50.1 975.4,49.2 977.5,53 979.5,50.7 981.6,52.8 983.6,81.2 985.7,64.7 987.7,53.9 989.8,54.9 991.8,51.4 993.9,53.9 995.9,54.7 998,52 1000.1,54.5 1002.1,49.6 1004.2,48.6 1006.2,51.9 1008.3,52.8 1010.3,53 1012.4,51.1 1014.4,50.5 1016.5,50.5 1018.5,53.3 1020.6,51.6 1022.6,54.9 1024.7,51.2 1026.7,50 1028.8,50.1 1030.8,54.2 1032.9,54.7 1034.9,47.5 1037,52.2 1039,52.5 1041.1,51.2 1043.1,52.4 1045.2,50.7 1047.2,50.8 1049.3,53.4 1051.3,54.4 1053.4,52.3 1055.4,57.7 1057.5,60.6 1059.5,71.8 1061.6,53.4 1063.6,50.4 1065.7,50.3 1067.7,52.4 1069.8,53.3 1071.9,54.6 1073.9,57.3 1076,52.5 1078,54.2 1080.1,51.2 1082.1,50.5 1084.2,51.9 1086.2,47.2 1088.3,51.8 1090.3,50.6 1092.4,44.6 1094.4,49.3 1096.5,52.1 1098.5,51 1100.6,51.9 1102.6,50.9 1104.7,51.7 1106.7,54 1108.8,53.4 1110.8,49.2 1112.9,47.8 1114.9,51.2 1117,53.3 1119,53.3 1121.1,47.7 1123.1,47.7 1125.2,49.5 1127.2,51.8 1129.3,52.2 1131.3,48.9 1133.4,51.8 1135.4,53 1137.5,55.1 1139.5,51.3 1141.6,50.8 1143.6,52.3 1145.7,47.6 1147.8,52.8 1149.8,48.5 1151.9,55.9 1153.9,51.4 1156,49.2 1158,53.4 1160.1,47.8 1162.1,52 1164.2,51.5 1166.2,49.5 1168.3,50.3 1170.3,52.4 1172.4,48.7 1174.4,52.7 1176.5,50.3 1178.5,52 1180.6,51.9 1182.6,49.1 1184.7,51 1186.7,53.5 1188.8,50 1190.8,49.6 1192.9,52.2 1194.9,51.2 1197,51.2 1199,45.2 1201.1,50.6 1203.1,47.7 1205.2,49.6 1207.2,49.2 1209.3,50.4 1211.3,54.5 1213.4,50.1 1215.4,49.4"/>
<polyline stroke="#cc3311" points="191.8,469 193.9,503.1 195.9,472.8 198,470.6 200,464.1 202.1,489.5 204.1,465.3 206.2,466.8 208.2,468.9 210.3,468.8 212.3,467.1 214.4,469.9 216.4,467.5 218.5,470.5 220.5,467 222.6,484.4 224.6,467 226.7,468.7 228.7,490 230.8,469 232.8,467.9 234.9,478.5 236.9,469.6 239,467.3 241,471.8 243.1,467 245.1,466.2 247.2,469.4 249.2,470.5 251.3,466.4 253.3,469.1 255.4,469.3 257.4,468.8 259.5,468 261.5,467.7 263.6,469.2 265.7,466.5 267.7,470.4 269.8,467.1 271.8,470.8 273.9,477.2 275.9,467.3 278,468.1 280,466.5 282.1,470.1 284.1,467.9 286.2,470 288.2,467.6 290.3,467.8 292.3,469.2 294.4,466.9 296.4,467.5 298.5,468.6 300.5,468.8 302.6,468.5 304.6,467.5 306.7,469.9 308.7,466.5 310.8,469.6 312.8,467.6 314.9,469.7 316.9,468.6 319,468.5 321,467.1 323.1,481.8 325.1,468.2 327.2,467.2 329.2,486.9 331.3,466.6 333.3,469.5 335.4,468.8 337.4,468.2 339.5,466.6 341.6,467 343.6,469.9 345.7,469 347.7,469.2 349.8,467 351.8,467.7 353.9,468 355.9,468.1 358,466.7 360,469 362.1,467.7 364.1,468.7 366.2,469 368.2,469.9 370.3,466.5 372.3,468.8 374.4,468.2 376.4,468.4 378.5,467.6 380.5,467.9 382.6,470.6 384.6,466.9 386.7,467.3 388.7,467.9 390.8,468.5 392.8,467.6 394.9,469.9 396.9,466.5 399,468.5 401,467.7 403.1,467.2 405.1,468.2 407.2,469.3 409.2,469.4 411.3,467.1 413.4,467.6 415.4,467.6 417.5,466.9 419.5,468.1 421.6,467.8 423.6,470 425.7,465.8 427.7,468.2 429.8,465.6 431.8,468.4 433.9,469.2 435.9,467.2 438,467.1 440,469.3 442.1,469 444.1,466.2 446.2,468.6 448.2,467.6 450.3,467.5 452.3,468.1 454.4,466.6 456.4,467.9 458.5,467.6 460.5,466.9 462.6,468.3 464.6,469.1 466.7,466.8 468.7,469.2 470.8,466.5 472.8,469.1 474.9,466.9 476.9,466.2 479,467.7 481,469 483.1,468.7 485.2,467.1 487.2,466.1 489.3,467.6 491.3,469.7 493.4,465.6 495.4,467.8 497.5,466.9 499.5,466.5 501.6,469.4 503.6,466.3 505.7,467.7 507.7,466.4 509.8,468.5 511.8,468.9 513.9,466.3 515.9,466.5 518,468.4 520,467.5 522.1,467.1 524.1,467.7 526.2,467.8 528.2,467.6 530.3,465.5 532.3,468.9 534.4,466.9 536.4,466.2 538.5,466.9 540.5,462.8 542.6,455.8 544.6,433.1 546.7,374.5 548.7,230.9 550.8,89.2 552.8,119.4 554.9,144 556.9,194.2 559,149.6 561.1,114.1 563.1,96 565.2,78.9 567.2,69.4 569.3,64.8 571.3,62.3 573.4,60.2 575.4,60.6 577.5,55 579.5,56.5 581.6,59 583.6,54.9 585.7,52.1 587.7,58.5 589.8,59.6 591.8,56.7 593.9,60.9 595.9,55.3 598,81 600,53.1 602.1,58.1 604.1,58.4 606.2,56.9 608.2,55.4 610.3,56.9 612.3,91 614.4,66.8 616.4,56.7 618.5,69 620.5,54.8 622.6,56.9 624.6,55.6 626.7,78.1 628.7,77.4 630.8,55.7 632.9,56 634.9,56.2 637,54.5 639,54 641.1,56.1 643.1,60.1 645.2,58.9 647.2,53.9 649.3,53.1 651.3,54 653.4,57.8 655.4,55.8 657.5,57.4 659.5,61.6 661.6,102 663.6,283.8 665.7,115.6 667.7,94.4 669.8,98.2 671.8,67.6 673.9,53.2 675.9,49.8 678,49.8 680,57.3 682.1,56.3 684.1,58.7 686.2,49.4 688.2,55.2 690.3,58.6 692.3,53.8 694.4,61.3 696.4,53.1 698.5,56.1 700.5,55.8 702.6,54.4 704.7,56.1 706.7,55.2 708.8,58.4 710.8,55.1 712.9,56.8 714.9,95.8 717,57 719,55.3 721.1,61 723.1,64.7 725.2,57.3 727.2,53.8 729.3,56.8 731.3,55.9 733.4,56.9 735.4,54.2 737.5,58 739.5,61.5 741.6,56.7 743.6,82 745.7,53.2 747.7,58 749.8,58.3 751.8,56.7 753.9,73.9 755.9,111.8 758,98.6 760,93.3 762.1,75.9 764.1,100.1 766.2,109.9 768.2,132.6 770.3,91.4 772.3,77.4 774.4,63.1 776.4,58.5 778.5,58.9 780.6,52.9 782.6,60.1 784.7,55.5 786.7,57.7 788.8,57.4 790.8,53.3 792.9,53.1 794.9,58 797,55.4 799,56.3 801.1,54.8 803.1,57.9 805.2,54 807.2,57.2 809.3,55.5 811.3,57.6 813.4,53.8 815.4,57 817.5,54.9 819.5,56.4 821.6,54.4 823.6,55.4 825.7,51.5 827.7,59.1 829.8,54.4 831.8,57.4 833.9,55.7 835.9,59.6 838,52.9 840,68.6 842.1,117.5 844.1,111.8 846.2,79.7 848.2,83.1 850.3,92.2 852.4,69.9 854.4,77.4 856.5,94.8 858.5,97.1 860.6,101.6 862.6,104.3 864.7,102.4 866.7,86.9 868.8,75.9 870.8,75.9 872.9,71.4 874.9,66.8 877,64.2 879,64.2 881.1,73.3 883.1,75.5 885.2,62.7 887.2,55.9 889.3,66.4 891.3,54.8 893.4,64.8 895.4,87.9 897.5,41.9 899.5,76.3 901.6,90.7 903.6,70.3 905.7,62.3 907.7,59.8 909.8,63.4 911.8,70.2 913.9,80.1 915.9,85.4 918,79.3 920,68.7 922.1,72.5 924.1,69.9 926.2,70.3 928.3,55.9 930.3,78.8 932.4,65 934.4,62.7 936.5,69.9 938.5,75.2 940.6,78.2 942.6,79.3 944.7,60.8 946.7,47.2 948.8,47.6 950.8,55.6 952.9,47.6 954.9,55.5 957,57.8 959,54.2 961.1,57.7 963.1,56.4 965.2,55.8 967.2,57.4 969.3,54.1 971.3,55 973.4,55.3 975.4,53.1 977.5,52.9 979.5,55.8 981.6,70.1 983.6,52.6 985.7,56.5 987.7,53.1 989.8,57.5 991.8,57.2 993.9,54.3 995.9,52.5 998,50.2 1000.1,55.3 1002.1,52.4 1004.2,58 1006.2,60.2 1008.3,62.4 1010.3,56.1 1012.4,54.1 1014.4,73 1016.5,50.6 1018.5,57.4 1020.6,56.2 1022.6,52.4 1024.7,52.5 1026.7,53.7 1028.8,55.6 1030.8,53.9 1032.9,49.5 1034.9,55.4 1037,71.6 1039,70.2 1041.1,68.4 1043.1,69.9 1045.2,75.2 1047.2,66.8 1049.3,80.5 1051.3,100.1 1053.4,63.4 1055.4,60.8 1057.5,56.6 1059.5,53.8 1061.6,59.7 1063.6,51.3 1065.7,53.4 1067.7,54.1 1069.8,52.3 1071.9,57.4 1073.9,53.8 1076,57.3 1078,53.8 1080.1,75.3 1082.1,53.3 1084.2,56.2 1086.2,52.1 1088.3,54.9 1090.3,51.5 1092.4,55.7 1094.4,47.7 1096.5,52.5 1098.5,58 1100.6,56.3 1102.6,55.5 1104.7,53.1 1106.7,53.5 1108.8,84.1 1110.8,144.5 1112.9,138.1 1114.9,75.9 1117,58 1119,73.8 1121.1,98.8 1123.1,59.5 1125.2,58.9 1127.2,54 1129.3,55.6 1131.3,54.3 1133.4,52 1135.4,50.7 1137.5,53.3 1139.5,52 1141.6,49.3 1143.6,54.4 1145.7,52.3 1147.8,54.7 1149.8,50.4 1151.9,56 1153.9,51.6 1156,47.3 1158,53 1160.1,53.5 1162.1,51.8 1164.2,52 1166.2,67.7 1168.3,53.4 1170.3,51.8 1172.4,51.8 1174.4,71.8 1176.5,51.3 1178.5,53.4 1180.6,81.9 1182.6,146.4 1184.7,61.4 1186.7,55.1 1188.8,53.2 1190.8,49.5 1192.9,51 1194.9,85.7 1197,99.7 1199,48.3 1201.1,52.5 1203.1,52.1 1205.2,50.6 1207.2,53.2 1209.3,51.6 1211.3,51.5 1213.4,47 1215.4,51.6"/>
<polyline stroke="#0077bb" points="191.8,493.2 193.9,483.8 195.9,480 198,476.2 200,474.3 202.1,469.4 204.1,467.5 206.2,468.3 208.2,469.1 210.3,470.6 212.3,467.6 214.4,467.1 216.4,469.5 218.5,468.4 220.5,470.6 222.6,467.9 224.6,469 226.7,467.3 228.7,469.1 230.8,468.8 232.8,469.5 234.9,469.1 236.9,468 239,467 241,471.8 243.1,470.5 245.1,464.2 247.2,468 249.2,468.9 251.3,468.5 253.3,469.2 255.4,468.6 257.4,469.6 259.5,466.9 261.5,469.1 263.6,470.6 265.7,467.7 267.7,468.7 269.8,468.8 271.8,465.6 273.9,468.5 275.9,472.9 278,465.5 280,467.4 282.1,467.5 284.1,468.3 286.2,471.3 288.2,465.8 290.3,468.8 292.3,466.6 294.4,468.7 296.4,470.4 298.5,464.9 300.5,471 302.6,466 304.6,468.5 306.7,469.2 308.7,470.5 310.8,467.6 312.8,468.6 314.9,467.7 316.9,468.2 319,466 321,468.8 323.1,467 325.1,470.3 327.2,467.8 329.2,466.6 331.3,467.5 333.3,467.9 335.4,469.1 337.4,469 339.5,465.1 341.6,470.1 343.6,467.9 345.7,465.8 347.7,469 349.8,468.8 351.8,466.5 353.9,468.8 355.9,466.2 358,469 360,468.8 362.1,464.3 364.1,468.1 366.2,468.6 368.2,468.1 370.3,469.4 372.3,467.6 374.4,468.9 376.4,465.8 378.5,467 380.5,469 382.6,468.1 384.6,466.9 386.7,468 388.7,467.1 390.8,467.5 392.8,467.6 394.9,467.2 396.9,469.3 399,466.1 401,470.6 403.1,466.1 405.1,468.1 407.2,467 409.2,468.1 411.3,467.2 413.4,469.9 415.4,466.9 417.5,468.2 419.5,466.6 421.6,467.6 423.6,468.2 425.7,467.8 427.7,468 429.8,467.2 431.8,466.9 433.9,467 435.9,468.2 438,468.6 440,467.7 442.1,466 444.1,469.2 446.2,467.1 448.2,469.9 450.3,464.7 452.3,468 454.4,468.2 456.4,467.2 458.5,429.1 460.5,315.3 462.6,236.2 464.6,155.3 466.7,115.6 468.7,107.7 470.8,109.3 472.8,106.7 474.9,99.8 476.9,98.9 479,93.8 481,87.9 483.1,81.7 485.2,78.5 487.2,73.5 489.3,70.1 491.3,71.3 493.4,69 495.4,59.5 497.5,62.2 499.5,81.7 501.6,66.1 503.6,61.6 505.7,60.5 507.7,59.4 509.8,54.7 511.8,59 513.9,59.2 515.9,55.9 518,65.2 520,66.6 522.1,58.3 524.1,56.7 526.2,60 528.2,58 530.3,55.3 532.3,58.2 534.4,57.7 536.4,63.3 538.5,57.5 540.5,55 542.6,60.2 544.6,66.7 546.7,49.9 548.7,54.9 550.8,57.6 552.8,52.1 554.9,52.6 556.9,51.1 559,56.4 561.1,53.2 563.1,50.2 565.2,52.8 567.2,55.8 569.3,63.7 571.3,52.1 573.4,53.4 575.4,49.7 577.5,56.3 579.5,50.5 581.6,53.4 583.6,53.7 585.7,55.4 587.7,56.1 589.8,56.8 591.8,61.8 593.9,55.9 595.9,50.8 598,53.1 600,53.2 602.1,51.7 604.1,54.8 606.2,52.1 608.2,58.4 610.3,54.7 612.3,51.3 614.4,54.5 616.4,50.2 618.5,58.2 620.5,62.6 622.6,50.5 624.6,54 626.7,54.6 628.7,54.1 630.8,55.7 632.9,54.5 634.9,51.7 637,55.7 639,54.1 641.1,55.6 643.1,53.4 645.2,52.4 647.2,52.7 649.3,54.9 651.3,55.6 653.4,52.8 655.4,51.7 657.5,52.6 659.5,47.7 661.6,54.6 663.6,55.6 665.7,54.5 667.7,57.1 669.8,56.3 671.8,65.3 673.9,57.4 675.9,53.6 678,51.7 680,51.4 682.1,52.6 684.1,51.6 686.2,55.9 688.2,49.9 690.3,50 692.3,58.4 694.4,65.8 696.4,54.5 698.5,57 700.5,50.8 702.6,53.8 704.7,56.3 706.7,55.1 708.8,49.8 710.8,53.9 712.9,57.8 714.9,53.4 717,51.6 719,53.6 721.1,52.1 723.1,52.6 725.2,53.8 727.2,56.1 729.3,53.1 731.3,51.7 733.4,55.1 735.4,50.8 737.5,49.2 739.5,52.5 741.6,62.7 743.6,53.7 745.7,55.7 747.7,49.6 749.8,54.7 751.8,57.1 753.9,49 755.9,51.5 758,55.3 760,52.8 762.1,52.7 764.1,51.6 766.2,58.1 768.2,55.1 770.3,56.1 772.3,52.2 774.4,54.7 776.4,51.9 778.5,48.9 780.6,52.7 782.6,55.9 784.7,55 786.7,55 788.8,57.5 790.8,49.9 792.9,52.9 794.9,51.5 797,50.7 799,53.2 801.1,50.4 803.1,52.6 805.2,56.1 807.2,53 809.3,56.7 811.3,56.8 813.4,49.2 815.4,57.3 817.5,52.9 819.5,54.6 821.6,52.2 823.6,50.9 825.7,49.4 827.7,57.5 829.8,52.3 831.8,49.7 833.9,72.8 835.9,51.1 838,51.9 840,49.7 842.1,52.4 844.1,58.6 846.2,54.6 848.2,53.4 850.3,55.8 852.4,63 854.4,49.7 856.5,55.7 858.5,52 860.6,50.2 862.6,57.4 864.7,51.7 866.7,53 868.8,53.9 870.8,47.2 872.9,54.7 874.9,50.8 877,54.8 879,54.5 881.1,51.6 883.1,49.6 885.2,53 887.2,51 889.3,52.9 891.3,49.8 893.4,52.2 895.4,51.9 897.5,50.7 899.5,51.4 901.6,52.2 903.6,53.2 905.7,51.7 907.7,53 909.8,48.9 911.8,52.6 913.9,50.2 915.9,53.7 918,50.7 920,55.8 922.1,53 924.1,48.7 926.2,51.6 928.3,57 930.3,52.3 932.4,51.9 934.4,53.3 936.5,55 938.5,54.3 940.6,47.2 942.6,53.1 944.7,49.9 946.7,50.5 948.8,54 950.8,51.2 952.9,51.4 954.9,56.3 957,50.9 959,51.4 961.1,51 963.1,52.6 965.2,52.6 967.2,51.3 969.3,53.6 971.3,48.9 973.4,50.9 975.4,51.7 977.5,52.2 979.5,50.5 981.6,51.4 983.6,52.5 985.7,49.7 987.7,47.4 989.8,47.3 991.8,50.8 993.9,52.7 995.9,43.7 998,51.5 1000.1,51.1 1002.1,53.4 1004.2,50.6 1006.2,52.2 1008.3,52.3 1010.3,50.9 1012.4,50.4 1014.4,69.7 1016.5,58.4 1018.5,55.5 1020.6,49.1 1022.6,63.8 1024.7,51 1026.7,54.4 1028.8,49.2 1030.8,50 1032.9,51.6 1034.9,51.8 1037,52.1 1039,47.1 1041.1,52.7 1043.1,57.3 1045.2,52.1 1047.2,50.1 1049.3,51.3 1051.3,50.7 1053.4,49.9 1055.4,54.3 1057.5,46.7 1059.5,52.8 1061.6,51.4 1063.6,51.2 1065.7,48.2 1067.7,47.3 1069.8,49.1 1071.9,51.7 1073.9,50.2 1076,53 1078,50.4 1080.1,50.5 1082.1,52.2 1084.2,49.9 1086.2,47.6 1088.3,51.7 1090.3,49.7 1092.4,50.9 1094.4,54.9 1096.5,48 1098.5,53.2 1100.6,53.8 1102.6,48.7 1104.7,49.8 1106.7,49.2 1108.8,49.6 1110.8,47.7 1112.9,50 1114.9,48.1 1117,49.5 1119,53.5 1121.1,49.5 1123.1,49 1125.2,49.5 1127.2,50.2 1129.3,50.4 1131.3,46.5 1133.4,49.5 1135.4,52.4 1137.5,54.7 1139.5,49.5 1141.6,49.9 1143.6,58.2 1145.7,59.1 1147.8,55 1149.8,50.1 1151.9,46.4 1153.9,48.7 1156,56.5 1158,47.6 1160.1,46.4 1162.1,53.3 1164.2,51.4 1166.2,52.9 1168.3,51.6 1170.3,53.8 1172.4,51 1174.4,48.6 1176.5,49.1 1178.5,47.9 1180.6,47.8 1182.6,51.1 1184.7,54.7 1186.7,48.6 1188.8,49.3 1190.8,52 1192.9,46.9 1194.9,51.2 1197,48.3 1199,48.6 1201.1,48.5 1203.1,64 1205.2,52.6 1207.2,50 1209.3,46.7 1211.3,46.1 1213.4,50.9 1215.4,49.8"/>
<polyline stroke="#0077bb" points="191.8,497 193.9,485.7 195.9,481.1 198,478.5 200,474.7 202.1,470.9 204.1,467.1 206.2,467.1 208.2,469.1 210.3,467.9 212.3,467.5 214.4,469.5 216.4,467.8 218.5,470.4 220.5,467.8 222.6,470 224.6,467.8 226.7,468.8 228.7,467.7 230.8,469.5 232.8,469.4 234.9,469 236.9,469.8 239,465.7 241,471.7 243.1,467.3 245.1,467.8 247.2,469.2 249.2,469.9 251.3,467.1 253.3,467.2 255.4,468 257.4,471 259.5,467.4 261.5,467.7 263.6,466 265.7,470.2 267.7,468.2 269.8,466.9 271.8,471 273.9,467.9 275.9,470.3 278,467.5 280,469 282.1,468.5 284.1,467.1 286.2,468.1 288.2,468.3 290.3,469 292.3,468.8 294.4,469.4 296.4,467 298.5,467.9 300.5,469.2 302.6,469.1 304.6,468.7 306.7,466.9 308.7,467.3 310.8,468.1 312.8,470.1 314.9,468.3 316.9,468.9 319,465.8 321,468.6 323.1,469.9 325.1,466.9 327.2,468.2 329.2,468.1 331.3,467.9 333.3,469.2 335.4,468.8 337.4,466.7 339.5,466.2 341.6,470.9 343.6,468.7 345.7,466.5 347.7,470.1 349.8,470.4 351.8,466.7 353.9,466.6 355.9,467.5 358,467.8 360,469.5 362.1,467.2 364.1,468.8 366.2,468.4 368.2,467.1 370.3,469.6 372.3,466 374.4,467.9 376.4,467.5 378.5,467.9 380.5,469 382.6,464.9 384.6,466.8 386.7,469.7 388.7,467.8 390.8,468.4 392.8,467.8 394.9,466.7 396.9,466.8 399,469.5 401,468.4 403.1,468.7 405.1,467.1 407.2,468.2 409.2,467.3 411.3,467.6 413.4,469.8 415.4,467.6 417.5,466.6 419.5,469 421.6,467.9 423.6,469.2 425.7,465.3 427.7,467.9 429.8,468.4 431.8,466.5 433.9,466.5 435.9,466.9 438,469.2 440,467.5 442.1,467.2 444.1,466.6 446.2,470.6 448.2,466.1 450.3,469.5 452.3,465.1 454.4,468.6 456.4,466.6 458.5,468.4 460.5,465.4 462.6,467.7 464.6,468.8 466.7,469 468.7,465.7 470.8,467.2 472.8,468.2 474.9,467.5 476.9,468.1 479,465.6 481,466.6 483.1,469.1 485.2,467.9 487.2,466.1 489.3,469.7 491.3,466.4 493.4,467.1 495.4,467.5 497.5,462.1 499.5,423.7 501.6,339 503.6,300.8 505.7,278.1 507.7,253.6 509.8,247 511.8,226.2 513.9,222.4 515.9,208.4 518,199.1 520,156.8 522.1,123.3 524.1,131.2 526.2,114.8 528.2,102.3 530.3,104.1 532.3,94.2 534.4,91.2 536.4,84.3 538.5,83.6 540.5,79.3 542.6,68.3 544.6,72.6 546.7,72.8 548.7,74.7 550.8,69.6 552.8,74 554.9,65.1 556.9,62.8 559,61.4 561.1,62.4 563.1,54.3 565.2,62.3 567.2,53.8 569.3,51.5 571.3,54.8 573.4,65.9 575.4,60.6 577.5,57.5 579.5,61.6 581.6,56.9 583.6,55.6 585.7,72.5 587.7,57.2 589.8,58.5 591.8,52.9 593.9,56.5 595.9,55.5 598,57.6 600,56.3 602.1,56.7 604.1,59.7 606.2,53.9 608.2,72.5 610.3,70.8 612.3,56.9 614.4,54.5 616.4,64 618.5,54.3 620.5,55.8 622.6,56.7 624.6,57.1 626.7,58.8 628.7,53.6 630.8,56.2 632.9,54 634.9,57.9 637,56.4 639,55 641.1,58.1 643.1,56 645.2,56.2 647.2,55.3 649.3,59.4 651.3,58.2 653.4,58.6 655.4,55.4 657.5,58.1 659.5,49.5 661.6,58 663.6,51.2 665.7,53.4 667.7,59.2 669.8,54.3 671.8,58.5 673.9,55.4 675.9,54.4 678,50 680,57.4 682.1,56 684.1,63 686.2,55.4 688.2,62.6 690.3,52.4 692.3,55.3 694.4,55.8 696.4,54.7 698.5,56.7 700.5,57.9 702.6,54.1 704.7,51.7 706.7,56.8 708.8,54 710.8,56.2 712.9,54 714.9,54.5 717,57.4 719,52.1 721.1,57.2 723.1,60 725.2,55.8 727.2,55.2 729.3,54.6 731.3,55.7 733.4,55.9 735.4,49.6 737.5,58.7 739.5,55.9 741.6,54.4 743.6,53.5 745.7,55.9 747.7,52.7 749.8,56.1 751.8,51.7 753.9,58.8 755.9,53.7 758,53.5 760,56.8 762.1,54.3 764.1,53.7 766.2,55.9 768.2,54.9 770.3,53.6 772.3,64.1 774.4,52 776.4,54.8 778.5,52.5 780.6,52.6 782.6,52.7 784.7,54.5 786.7,71.7 788.8,51.1 790.8,53.9 792.9,55.4 794.9,57 797,55.3 799,56.4 801.1,58.2 803.1,56.3 805.2,77.7 807.2,67.7 809.3,67.1 811.3,58.3 813.4,55.2 815.4,52.5 817.5,58.2 819.5,55.3 821.6,56.6 823.6,54.8 825.7,57.8 827.7,53.3 829.8,52.9 831.8,56.9 833.9,54 835.9,52.6 838,54.3 840,53.5 842.1,56 844.1,52.3 846.2,51.1 848.2,56.4 850.3,52.2 852.4,56.1 854.4,53.3 856.5,51.7 858.5,57.2 860.6,61.1 862.6,52.7 864.7,50 866.7,52.5 868.8,55.3 870.8,55.5 872.9,55.2 874.9,56 877,54.8 879,79.8 881.1,58.9 883.1,51.5 885.2,58.1 887.2,49.4 889.3,52.5 891.3,56.1 893.4,59.4 895.4,51.2 897.5,55.6 899.5,64.2 901.6,55.3 903.6,50.4 905.7,55.1 907.7,53 909.8,56.8 911.8,55.2 913.9,54.3 915.9,52.8 918,56.6 920,60.4 922.1,51.6 924.1,57.5 926.2,56.6 928.3,52.8 930.3,56.1 932.4,54.7 934.4,56 936.5,54.7 938.5,51.7 940.6,55 942.6,54.3 944.7,52.6 946.7,52 948.8,54.3 950.8,55.2 952.9,53.2 954.9,62.7 957,54.2 959,57.2 961.1,51 963.1,72.5 965.2,61.1 967.2,58.7 969.3,58.4 971.3,47.6 973.4,53.5 975.4,50.4 977.5,64.3 979.5,53.2 981.6,55.3 983.6,52.2 985.7,53.1 987.7,55 989.8,57.2 991.8,60.8 993.9,50.5 995.9,52.1 998,50.9 1000.1,55.3 1002.1,50.7 1004.2,49.4 1006.2,54.2 1008.3,53.8 1010.3,51.8 1012.4,51.8 1014.4,56.5 1016.5,53.5 1018.5,51.3 1020.6,56 1022.6,50.6 1024.7,53.9 1026.7,54.9 1028.8,50 1030.8,51.4 1032.9,54.9 1034.9,50.9 1037,52.7 1039,51.9 1041.1,48.6 1043.1,55 1045.2,54 1047.2,58.9 1049.3,53.6 1051.3,50.6 1053.4,51.8 1055.4,53.3 1057.5,52.2 1059.5,53.2 1061.6,56.7 1063.6,53.2 1065.7,53.2 1067.7,49.6 1069.8,59.9 1071.9,49.2 1073.9,50.5 1076,52 1078,88.6 1080.1,63.5 1082.1,47.2 1084.2,56 1086.2,51.8 1088.3,51 1090.3,54.4 1092.4,52.8 1094.4,51.6 1096.5,52.4 1098.5,49.5 1100.6,57.4 1102.6,58.1 1104.7,52.6 1106.7,49 1108.8,54.2 1110.8,49.9 1112.9,47.6 1114.9,65.9 1117,52.3 1119,56.7 1121.1,53.7 1123.1,54 1125.2,50.8 1127.2,55 1129.3,53.4 1131.3,54 1133.4,69.8 1135.4,49.6 1137.5,53.7 1139.5,52.4 1141.6,53.9 1143.6,50.7 1145.7,52.9 1147.8,52.1 1149.8,53.9 1151.9,55.6 1153.9,56.4 1156,52.6 1158,50.2 1160.1,55 1162.1,55.5 1164.2,53.8 1166.2,53.9 1168.3,54.7 1170.3,77.6 1172.4,66.4 1174.4,53.2 1176.5,51.9 1178.5,55 1180.6,51.2 1182.6,55.9 1184.7,51.7 1186.7,53.8 1188.8,50.9 1190.8,53.9 1192.9,56.5 1194.9,56.2 1197,50 1199,78.6 1201.1,66.9 1203.1,55.6 1205.2,48.1 1207.2,50.6 1209.3,51.3 1211.3,56.6 1213.4,49.4 1215.4,51.4"/>
<polyline stroke="#ff7043" points="191.8,506.8 193.9,486.4 195.9,467.5 198,508.4 200,515.9 202.1,491.7 204.1,480.4 206.2,470.6 208.2,464.5 210.3,466.9 212.3,470.4 214.4,468.8 216.4,467.9 218.5,471.1 220.5,464.5 222.6,470.3 224.6,467.9 226.7,469.1 228.7,467.7 230.8,469.6 232.8,467.6 234.9,468.3 236.9,468.4 239,469.5 241,466.8 243.1,469.2 245.1,468.2 247.2,468.3 249.2,467.4 251.3,470.7 253.3,466.4 255.4,468.8 257.4,469.8 259.5,466.2 261.5,468.2 263.6,469 265.7,469.5 267.7,468.2 269.8,468.8 271.8,466 273.9,470.5 275.9,466.9 278,471.4 280,466.5 282.1,466.9 284.1,469.3 286.2,470.1 288.2,467.4 290.3,467.5 292.3,468.8 294.4,468.3 296.4,467.9 298.5,468.2 300.5,469.2 302.6,467 304.6,467.3 306.7,467.7 308.7,469.6 310.8,467.3 312.8,466.2 314.9,470.4 316.9,466.5 319,468.9 321,466.5 323.1,468.4 325.1,466.7 327.2,467.5 329.2,468.6 331.3,467.2 333.3,468.4 335.4,466.5 337.4,468.6 339.5,469 341.6,467.6 343.6,465.8 345.7,468 347.7,467.9 349.8,468.6 351.8,469 353.9,466.3 355.9,467.6 358,469.4 360,466.7 362.1,466.4 364.1,468.2 366.2,467.7 368.2,467 370.3,467.4 372.3,467 374.4,468.5 376.4,467.1 378.5,469.2 380.5,468 382.6,466.7 384.6,467.7 386.7,468.1 388.7,468.1 390.8,465.5 392.8,468 394.9,469 396.9,419.5 399,320.1 401,264.9 403.1,212 405.1,159.1 407.2,134.5 409.2,130.7 411.3,123.2 413.4,113.7 415.4,94.8 417.5,76.3 419.5,66.5 421.6,74.1 423.6,69.2 425.7,61.9 427.7,66.4 429.8,62.7 431.8,56 433.9,55.9 435.9,54.3 438,56.1 440,58.2 442.1,57.4 444.1,76.7 446.2,63.6 448.2,60.8 450.3,58.6 452.3,58.3 454.4,54.1 456.4,57.7 458.5,61.4 460.5,58.9 462.6,63.5 464.6,73.8 466.7,59.3 468.7,57 470.8,53.8 472.8,59.9 474.9,55.7 476.9,72.1 479,67.4 481,56.2 483.1,55.4 485.2,64.5 487.2,61 489.3,56 491.3,58.9 493.4,59.5 495.4,56.4 497.5,58.2 499.5,54.9 501.6,62 503.6,55.1 505.7,56.2 507.7,57.7 509.8,58.9 511.8,59.8 513.9,57.5 515.9,56.7 518,58.7 520,55.5 522.1,59.8 524.1,62.2 526.2,59.1 528.2,55.8 530.3,58.7 532.3,50.6 534.4,63.7 536.4,52.9 538.5,56.1 540.5,54.8 542.6,61.9 544.6,58.6 546.7,62.3 548.7,57.1 550.8,57.7 552.8,57.6 554.9,62.2 556.9,65.9 559,56.9 561.1,53.3 563.1,57.1 565.2,59.7 567.2,56.3 569.3,56.1 571.3,63.6 573.4,64.3 575.4,54.9 577.5,56.7 579.5,61.1 581.6,67.7 583.6,60.1 585.7,53.7 587.7,58.9 589.8,59.5 591.8,60.7 593.9,52.5 595.9,57.7 598,55.3 600,59.4 602.1,54.7 604.1,57.9 606.2,60.3 608.2,59 610.3,56.9 612.3,55.8 614.4,56 616.4,64.3 618.5,56.7 620.5,60.4 622.6,56.3 624.6,57.3 626.7,57.7 628.7,58.6 630.8,56 632.9,57.4 634.9,60.5 637,55.5 639,55.6 641.1,57.3 643.1,56.8 645.2,58.9 647.2,58.5 649.3,57.6 651.3,75.6 653.4,63.4 655.4,56.6 657.5,54.2 659.5,59.5 661.6,54.8 663.6,63.3 665.7,57.7 667.7,54.6 669.8,58.2 671.8,60.4 673.9,54.9 675.9,58.6 678,56.7 680,57.8 682.1,58.3 684.1,57.5 686.2,64 688.2,62 690.3,49.9 692.3,61.2 694.4,57.5 696.4,78.8 698.5,79.2 700.5,65.6 702.6,57.6 704.7,58.1 706.7,61 708.8,62.7 710.8,57.7 712.9,57.4 714.9,53 717,57.3 719,59 721.1,59.8 723.1,55.5 725.2,58.1 727.2,53.9 729.3,62.6 731.3,56.6 733.4,57.8 735.4,56.7 737.5,55 739.5,60.4 741.6,57.7 743.6,58.6 745.7,58.5 747.7,53.3 749.8,58.8 751.8,57.1 753.9,54.7 755.9,58.8 758,54.7 760,59 762.1,56.4 764.1,59 766.2,57.7 768.2,53.4 770.3,58.6 772.3,57.6 774.4,54.6 776.4,57.7 778.5,56.8 780.6,61.1 782.6,54.8 784.7,52.7 786.7,64.2 788.8,71.5 790.8,56.6 792.9,63.6 794.9,56.7 797,60.2 799,55.7 801.1,54.7 803.1,81.2 805.2,74 807.2,56.4 809.3,76.5 811.3,80.4 813.4,86.6 815.4,69.6 817.5,50.9 819.5,69.3 821.6,59.9 823.6,62 825.7,60.6 827.7,69.2 829.8,54.7 831.8,51.8 833.9,57.8 835.9,68.1 838,59.7 840,70.7 842.1,72.8 844.1,61.1 846.2,65.5 848.2,59.5 850.3,57.2 852.4,52 854.4,59 856.5,59.3 858.5,56.2 860.6,62.8 862.6,59 864.7,54.5 866.7,56.2 868.8,71.8 870.8,63.2 872.9,62.9 874.9,55.5 877,57.8 879,57.9 881.1,59.4 883.1,55.6 885.2,52 887.2,57.1 889.3,57 891.3,58.3 893.4,56 895.4,71.4 897.5,54.6 899.5,62.8 901.6,56.8 903.6,58 905.7,56.5 907.7,57.4 909.8,57 911.8,57.7 913.9,58 915.9,59.4 918,56.2 920,55.5 922.1,57.5 924.1,57.3 926.2,54.6 928.3,59.6 930.3,56.9 932.4,51 934.4,58.3 936.5,53.6 938.5,58.7 940.6,56 942.6,60 944.7,55.9 946.7,55.2 948.8,55.3 950.8,53.1 952.9,57.7 954.9,67 957,56.9 959,55.7 961.1,59 963.1,56.7 965.2,58.8 967.2,55.9 969.3,58.7 971.3,54.6 973.4,56.4 975.4,57.8 977.5,56.7 979.5,59.8 981.6,55.6 983.6,57.7 985.7,57.4 987.7,62.2 989.8,55.1 991.8,57.5 993.9,58.2 995.9,54.6 998,59.4 1000.1,63 1002.1,61.2 1004.2,56.2 1006.2,53.3 1008.3,58.7 1010.3,71.7 1012.4,99.6 1014.4,64.8 1016.5,55.8 1018.5,71.5 1020.6,55.9 1022.6,69.2 1024.7,72.3 1026.7,69.1 1028.8,58.8 1030.8,62.5 1032.9,62.4 1034.9,64.5 1037,58.2 1039,66.4 1041.1,60 1043.1,57.4 1045.2,53.4 1047.2,55.7 1049.3,61.3 1051.3,56.1 1053.4,63.1 1055.4,57.9 1057.5,58.1 1059.5,56.3 1061.6,61.2 1063.6,61.6 1065.7,58.8 1067.7,56.8 1069.8,54.5 1071.9,53.6 1073.9,58.1 1076,54.5 1078,57.4 1080.1,59.2 1082.1,52.6 1084.2,56.3 1086.2,57.8 1088.3,59.4 1090.3,61.3 1092.4,54.4 1094.4,55.4 1096.5,74.1 1098.5,72.3 1100.6,60.9 1102.6,70.2 1104.7,57.4 1106.7,73.5 1108.8,79.4 1110.8,58 1112.9,61.7 1114.9,58.9 1117,59.9 1119,59.9 1121.1,56.4 1123.1,60 1125.2,58.9 1127.2,71.9 1129.3,81 1131.3,65 1133.4,56.2 1135.4,59.8 1137.5,60.6 1139.5,53.3 1141.6,59.1 1143.6,60.2 1145.7,55.2 1147.8,60.5 1149.8,56.2 1151.9,60.1 1153.9,88.6 1156,243.1 1158,411.5 1160.1,409.9 1162.1,410.5 1164.2,392.8 1166.2,390.9 1168.3,400.7 1170.3,424.9 1172.4,368.4 1174.4,373.5 1176.5,381.9 1178.5,376.9 1180.6,376.9 1182.6,378.4 1184.7,392.5 1186.7,400 1188.8,122.9 1190.8,160.2 1192.9,176.9 1194.9,170.6 1197,166.2 1199,166.5 1201.1,154.4 1203.1,157.4 1205.2,157.6 1207.2,155.3 1209.3,154 1211.3,155.1 1213.4,156.1 1215.4,150.3"/>
<polyline stroke="#ff7043" points="191.8,510.6 193.9,494 195.9,493.6 198,463.7 200,504.6 202.1,513.6 204.1,487.9 206.2,474.3 208.2,466.8 210.3,463.1 212.3,470.8 214.4,467.2 216.4,471.2 218.5,466.9 220.5,467 222.6,467.8 224.6,471.1 226.7,468.5 228.7,468.6 230.8,471.5 232.8,464.9 234.9,469 236.9,468.5 239,467.8 241,469.7 243.1,468.1 245.1,467.8 247.2,468.3 249.2,469.6 251.3,469.6 253.3,467 255.4,468.5 257.4,470 259.5,466.5 261.5,468.5 263.6,468.4 265.7,468.6 267.7,467.9 269.8,467.2 271.8,469.8 273.9,466.5 275.9,469.1 278,468.1 280,466.9 282.1,469.1 284.1,468 286.2,469.3 288.2,467.9 290.3,468.1 292.3,469 294.4,468.7 296.4,466.8 298.5,467.7 300.5,470 302.6,468.4 304.6,466.9 306.7,467.4 308.7,470.1 310.8,467.9 312.8,466.6 314.9,466.7 316.9,468.4 319,470.1 321,465.9 323.1,469.1 325.1,468.4 327.2,467.4 329.2,469.4 331.3,468.3 333.3,470.8 335.4,464.7 337.4,468.6 339.5,468.7 341.6,467.7 343.6,468.1 345.7,468.5 347.7,468.4 349.8,467.8 351.8,470.5 353.9,468.2 355.9,467.2 358,466.1 360,468.3 362.1,467.3 364.1,467.6 366.2,468.6 368.2,467.3 370.3,468.1 372.3,468.3 374.4,467.5 376.4,467.3 378.5,468.6 380.5,468.3 382.6,467 384.6,467.9 386.7,467.5 388.7,466.6 390.8,468.3 392.8,467.9 394.9,468.4 396.9,468.5 399,466.3 401,467.3 403.1,467.5 405.1,467.4 407.2,468.6 409.2,466.8 411.3,467.7 413.4,467 415.4,468.5 417.5,465.9 419.5,467.2 421.6,469.4 423.6,467 425.7,467.5 427.7,466.9 429.8,466.4 431.8,470.2 433.9,465.2 435.9,467.4 438,468.5 440,467.8 442.1,466.3 444.1,468.1 446.2,467.7 448.2,467.5 450.3,464.9 452.3,470.9 454.4,464 456.4,470.4 458.5,461.1 460.5,333 462.6,257.4 464.6,165.1 466.7,115.6 468.7,104.3 470.8,106.5 472.8,106.2 474.9,96.7 476.9,97.1 479,92.4 481,85.9 483.1,80 485.2,76.5 487.2,71.8 489.3,67.8 491.3,66.2 493.4,60.7 495.4,61.2 497.5,59.7 499.5,59 501.6,65.3 503.6,57.2 505.7,55.5 507.7,55.2 509.8,56 511.8,52.8 513.9,52.4 515.9,53.2 518,53 520,54.2 522.1,55.2 524.1,54.5 526.2,54.6 528.2,60.7 530.3,64.4 532.3,51.6 534.4,50.6 536.4,51.8 538.5,51.2 540.5,52.7 542.6,50.5 544.6,52.2 546.7,51.3 548.7,49.1 550.8,50.2 552.8,50.5 554.9,49.1 556.9,50.5 559,49.1 561.1,50.1 563.1,48.1 565.2,49.6 567.2,49.3 569.3,49 571.3,49 573.4,49 575.4,50.5 577.5,51.6 579.5,48.5 581.6,48.7 583.6,48 585.7,47.8 587.7,47.6 589.8,49.5 591.8,49.7 593.9,48.5 595.9,49 598,49.4 600,49.3 602.1,47.9 604.1,50.4 606.2,47.9 608.2,49.4 610.3,49.9 612.3,55.9 614.4,49.8 616.4,53.2 618.5,53.2 620.5,47.7 622.6,48.3 624.6,50.2 626.7,49.5 628.7,50.1 630.8,50.6 632.9,49.5 634.9,48.2 637,45.3 639,51.2 641.1,49.6 643.1,49.5 645.2,53.4 647.2,49.7 649.3,48.8 651.3,49.6 653.4,48.1 655.4,50.4 657.5,49 659.5,49.3 661.6,48.6 663.6,47.5 665.7,49.4 667.7,48.2 669.8,49 671.8,48 673.9,61 675.9,48.6 678,47 680,49.4 682.1,45.9 684.1,50.3 686.2,48.3 688.2,47.2 690.3,46.4 692.3,48.4 694.4,53.9 696.4,47.7 698.5,50.4 700.5,52.7 702.6,47.8 704.7,47.9 706.7,46.6 708.8,47.7 710.8,48.4 712.9,49.3 714.9,48.5 717,49.2 719,46.2 721.1,46.4 723.1,49.3 725.2,47.7 727.2,46.4 729.3,53.9 731.3,48.6 733.4,49.6 735.4,48.1 737.5,47.3 739.5,47.2 741.6,47.3 743.6,58.1 745.7,64.1 747.7,45.9 749.8,47.1 751.8,47.7 753.9,49.5 755.9,46.7 758,47 760,45.6 762.1,49.4 764.1,47.8 766.2,49.9 768.2,46.8 770.3,46.3 772.3,48.8 774.4,46.7 776.4,48 778.5,46.6 780.6,47.1 782.6,50.8 784.7,49.3 786.7,48 788.8,46.3 790.8,46.3 792.9,48.1 794.9,46.5 797,45.1 799,48.9 801.1,46.9 803.1,46.9 805.2,48.5 807.2,47.8 809.3,44.5 811.3,46.8 813.4,46.2 815.4,48.5 817.5,46.4 819.5,54.3 821.6,46.2 823.6,48.9 825.7,49.6 827.7,45.5 829.8,45.1 831.8,46.7 833.9,46 835.9,49.2 838,45.1 840,46 842.1,48.8 844.1,54.6 846.2,45 848.2,44.4 850.3,46.7 852.4,47.3 854.4,48.4 856.5,47.1 858.5,47.7 860.6,46.2 862.6,57 864.7,44.7 866.7,48.4 868.8,46.7 870.8,47.7 872.9,46.6 874.9,50.5 877,48.1 879,46.6 881.1,45.5 883.1,48.5 885.2,46.8 887.2,44.1 889.3,48.5 891.3,44.1 893.4,45.9 895.4,45.2 897.5,46.7 899.5,46.6 901.6,47.3 903.6,46.3 905.7,45.9 907.7,48.7 909.8,45.3 911.8,44.3 913.9,46.7 915.9,48.8 918,44.2 920,47.8 922.1,47.7 924.1,48.3 926.2,43.8 928.3,48.4 930.3,45.7 932.4,47.5 934.4,48 936.5,46 938.5,45.4 940.6,45.5 942.6,44.7 944.7,46.2 946.7,46.1 948.8,47.3 950.8,44.5 952.9,45.8 954.9,45.3 957,43.8 959,44.1 961.1,43.5 963.1,48.7 965.2,46.8 967.2,46.8 969.3,46 971.3,49.6 973.4,53.7 975.4,47.6 977.5,44 979.5,44.2 981.6,46.1 983.6,58 985.7,44.7 987.7,45.2 989.8,52.3 991.8,51.5 993.9,50.2 995.9,42.4 998,46.7 1000.1,45.4 1002.1,43.8 1004.2,47.3 1006.2,54.6 1008.3,58.5 1010.3,50.2 1012.4,46 1014.4,48.1 1016.5,44.7 1018.5,45.3 1020.6,45.4 1022.6,52.7 1024.7,56.1 1026.7,42.2 1028.8,47.1 1030.8,47.2 1032.9,43.7 1034.9,43.7 1037,45.5 1039,46.7 1041.1,45 1043.1,45.8 1045.2,44 1047.2,51 1049.3,45 1051.3,45.1 1053.4,45.4 1055.4,43 1057.5,45.4 1059.5,46.7 1061.6,44.6 1063.6,44.9 1065.7,45.6 1067.7,44.2 1069.8,47.8 1071.9,46.7 1073.9,44 1076,43.9 1078,45.3 1080.1,43.4 1082.1,45.3 1084.2,42.5 1086.2,46.1 1088.3,47.5 1090.3,45.2 1092.4,44.9 1094.4,45.1 1096.5,45.2 1098.5,44.4 1100.6,46.1 1102.6,44.4 1104.7,44.8 1106.7,45 1108.8,43.8 1110.8,46 1112.9,44.2 1114.9,46.7 1117,44.1 1119,45.5 1121.1,44.7 1123.1,43.6 1125.2,43.6 1127.2,44.4 1129.3,44.6 1131.3,48.4 1133.4,44.3 1135.4,45.6 1137.5,45.9 1139.5,44 1141.6,44.2 1143.6,44.5 1145.7,53.6 1147.8,51.2 1149.8,44.3 1151.9,45.8 1153.9,43.9 1156,43.7 1158,45.3 1160.1,44.4 1162.1,47.1 1164.2,46.5 1166.2,49.4 1168.3,44.5 1170.3,44.1 1172.4,43.8 1174.4,41.9 1176.5,46.1 1178.5,43.2 1180.6,46 1182.6,46.2 1184.7,45.2 1186.7,44.2 1188.8,42.4 1190.8,42.6 1192.9,45.1 1194.9,44.5 1197,43.2 1199,44.5 1201.1,41.9 1203.1,45.9 1205.2,44.9 1207.2,42.5 1209.3,45.6 1211.3,44 1213.4,45 1215.4,43.5"/>
</g>
<g stroke-width="2.7">
<polyline stroke="#bbbbbb" points="191.8,491.7 193.9,490.2 195.9,488.7 198,483.9 200,479.1 202.1,474.3 204.1,473 206.2,471.6 208.2,470.2 210.3,469.4 212.3,468.7 214.4,468.4 216.4,469.1 218.5,469.4 220.5,468.8 222.6,468.6 224.6,468.3 226.7,469.3 228.7,469.3 230.8,468.4 232.8,468.5 234.9,468 236.9,468.2 239,468.7 241,468.8 243.1,467.5 245.1,468.7 247.2,468.9 249.2,469.1 251.3,468.5 253.3,468.5 255.4,468.7 257.4,468.5 259.5,468.4 261.5,468.2 263.6,468 265.7,468.3 267.7,469.2 269.8,468.1 271.8,469 273.9,468.4 275.9,469 278,468.3 280,468.7 282.1,468.2 284.1,466.8 286.2,468.3 288.2,467.9 290.3,468.8 292.3,468.3 294.4,467.9 296.4,468.2 298.5,468 300.5,468.1 302.6,468.6 304.6,467.9 306.7,468.5 308.7,467.2 310.8,468.3 312.8,467.7 314.9,468 316.9,467.6 319,468.3 321,467.5 323.1,468 325.1,467.4 327.2,467.6 329.2,467.9 331.3,468.3 333.3,467.5 335.4,467.7 337.4,467.1 339.5,468 341.6,467.6 343.6,467.6 345.7,467.7 347.7,467.7 349.8,467.7 351.8,468 353.9,468.2 355.9,467.9 358,467.4 360,467 362.1,467.2 364.1,467.2 366.2,467.3 368.2,467.3 370.3,467.5 372.3,467.2 374.4,466.7 376.4,467.7 378.5,467.8 380.5,466.6 382.6,467.4 384.6,467 386.7,467 388.7,467.9 390.8,466.3 392.8,466.6 394.9,467.3 396.9,444 399,379.2 401,312.8 403.1,246.3 405.1,195.7 407.2,167.5 409.2,148.1 411.3,131.5 413.4,113.5 415.4,96.2 417.5,84.4 419.5,79 421.6,73.5 423.6,68.3 425.7,65.8 427.7,63 429.8,60.9 431.8,59.2 433.9,58.2 435.9,57.7 438,56.3 440,56.6 442.1,55.3 444.1,54.9 446.2,56 448.2,57.7 450.3,57.6 452.3,56.9 454.4,56.4 456.4,55.5 458.5,56.7 460.5,56.6 462.6,56.1 464.6,57.5 466.7,59.7 468.7,57.6 470.8,55.6 472.8,55.5 474.9,56.6 476.9,56.7 479,56.3 481,54.7 483.1,55.2 485.2,55.6 487.2,55 489.3,55.6 491.3,54.7 493.4,55.9 495.4,62.3 497.5,61.8 499.5,58.7 501.6,57.6 503.6,57.3 505.7,58 507.7,57.4 509.8,57.1 511.8,56.8 513.9,55.9 515.9,56.1 518,55.4 520,55.6 522.1,55.8 524.1,55.7 526.2,61 528.2,63.5 530.3,60.7 532.3,58.8 534.4,58.3 536.4,56.1 538.5,62.7 540.5,60.1 542.6,58.6 544.6,58.1 546.7,56.8 548.7,56 550.8,54.4 552.8,54.8 554.9,55.6 556.9,57.3 559,55.9 561.1,55.5 563.1,56.4 565.2,55.7 567.2,56.4 569.3,53.6 571.3,64.3 573.4,66.7 575.4,62.3 577.5,60.8 579.5,58.4 581.6,57.9 583.6,56.1 585.7,57 587.7,56.5 589.8,54.9 591.8,53.9 593.9,55.2 595.9,55.9 598,54.7 600,54.2 602.1,56 604.1,57.3 606.2,56.6 608.2,56.5 610.3,56.1 612.3,54.6 614.4,54.3 616.4,53.3 618.5,54.1 620.5,54.6 622.6,55.3 624.6,55 626.7,55.7 628.7,56.3 630.8,55 632.9,53.9 634.9,53.8 637,53.5 639,54 641.1,54.8 643.1,54.7 645.2,54.9 647.2,55.5 649.3,56.1 651.3,56.2 653.4,55.4 655.4,54.9 657.5,55.1 659.5,54 661.6,54.3 663.6,54.3 665.7,53.8 667.7,63.8 669.8,61.4 671.8,58 673.9,57.3 675.9,55.4 678,55 680,54.3 682.1,54.1 684.1,55.7 686.2,54.7 688.2,55.1 690.3,55.3 692.3,55.6 694.4,54.6 696.4,54.1 698.5,53.8 700.5,55.3 702.6,55.3 704.7,56.4 706.7,55.5 708.8,54.6 710.8,55.1 712.9,54.7 714.9,54.5 717,53.9 719,54.8 721.1,55.2 723.1,55.3 725.2,53.8 727.2,53.6 729.3,54.4 731.3,54.4 733.4,54.4 735.4,54.4 737.5,54.6 739.5,55.4 741.6,55.8 743.6,55.6 745.7,54 747.7,54 749.8,54.3 751.8,54.6 753.9,54.5 755.9,54.3 758,54.8 760,54.5 762.1,54.4 764.1,54.9 766.2,55.2 768.2,55.4 770.3,55.6 772.3,54.4 774.4,56 776.4,55.3 778.5,55.3 780.6,55.2 782.6,54.8 784.7,53.9 786.7,54.2 788.8,54.4 790.8,54.8 792.9,54.7 794.9,54 797,54.5 799,55.2 801.1,55.6 803.1,55.7 805.2,55.9 807.2,54.4 809.3,54.2 811.3,54.5 813.4,53.6 815.4,54.5 817.5,54 819.5,55.7 821.6,56.2 823.6,56.4 825.7,56 827.7,54.6 829.8,55.9 831.8,56.2 833.9,54.8 835.9,54.9 838,55 840,55.1 842.1,54.9 844.1,55.8 846.2,55.7 848.2,55.8 850.3,54.7 852.4,53.2 854.4,52.2 856.5,53.6 858.5,55.1 860.6,55 862.6,70.4 864.7,62.6 866.7,59.1 868.8,57.8 870.8,55.8 872.9,55 874.9,55.8 877,55.5 879,55.1 881.1,54.7 883.1,54.5 885.2,54.6 887.2,54.4 889.3,54.7 891.3,55.1 893.4,53.7 895.4,53.8 897.5,53.8 899.5,64.2 901.6,60.2 903.6,57.3 905.7,57 907.7,55.1 909.8,55.1 911.8,54.5 913.9,54.6 915.9,54.3 918,53.6 920,54.3 922.1,53.3 924.1,54.8 926.2,55.9 928.3,54.7 930.3,55.2 932.4,55 934.4,55.7 936.5,54.6 938.5,55.9 940.6,54.8 942.6,53.4 944.7,53.2 946.7,54 948.8,54.5 950.8,54.6 952.9,55.1 954.9,54.8 957,54.6 959,54.5 961.1,53.6 963.1,54.1 965.2,55.1 967.2,54 969.3,54.8 971.3,54.8 973.4,54.6 975.4,54.6 977.5,55 979.5,54.7 981.6,53.1 983.6,61.9 985.7,58.9 987.7,56.3 989.8,55.1 991.8,54.4 993.9,53.9 995.9,55.4 998,56.1 1000.1,56.4 1002.1,55.1 1004.2,54 1006.2,53.9 1008.3,54.2 1010.3,54.2 1012.4,54.4 1014.4,54.1 1016.5,62.8 1018.5,59.6 1020.6,58 1022.6,56.9 1024.7,55 1026.7,53.9 1028.8,53.5 1030.8,53.4 1032.9,57.9 1034.9,56.5 1037,55.2 1039,55.5 1041.1,55.1 1043.1,55.1 1045.2,54.2 1047.2,54.5 1049.3,54.4 1051.3,54 1053.4,53.2 1055.4,54.2 1057.5,54.7 1059.5,53.9 1061.6,54.7 1063.6,54.1 1065.7,54.5 1067.7,54.3 1069.8,55.3 1071.9,54.2 1073.9,54.5 1076,54.8 1078,53.1 1080.1,53.2 1082.1,52.5 1084.2,53.2 1086.2,54 1088.3,54 1090.3,53.1 1092.4,53.7 1094.4,53.6 1096.5,53.5 1098.5,54.4 1100.6,54.1 1102.6,55.7 1104.7,55.7 1106.7,54.4 1108.8,53.9 1110.8,64.5 1112.9,60.9 1114.9,59.4 1117,56.7 1119,55.7 1121.1,56 1123.1,55.1 1125.2,55.5 1127.2,54.8 1129.3,54.3 1131.3,53.9 1133.4,53.9 1135.4,53.8 1137.5,54.6 1139.5,54.5 1141.6,54.6 1143.6,54.4 1145.7,54 1147.8,53.6 1149.8,52.8 1151.9,61.1 1153.9,76.1 1156,136.6 1158,240.9 1160.1,309.1 1162.1,344.8 1164.2,360.9 1166.2,367.3 1168.3,372.5 1170.3,376.9 1172.4,380.1 1174.4,378.9 1176.5,377.7 1178.5,382.9 1180.6,379.4 1182.6,375 1184.7,375.5 1186.7,345 1188.8,269.8 1190.8,231.3 1192.9,204.3 1194.9,194.5 1197,183.4 1199,171.6 1201.1,168.3 1203.1,164.5 1205.2,161.7 1207.2,159.9 1209.3,158.6 1211.3,157.6 1213.4,156.5 1215.4,153.9"/>
<polyline stroke="#009988" points="191.8,487.9 193.9,486.4 195.9,484.9 198,481.4 200,477.9 202.1,474.3 204.1,473 206.2,471.6 208.2,470.2 210.3,469.5 212.3,468.8 214.4,469 216.4,469.1 218.5,468.4 220.5,468.8 222.6,468.9 224.6,468 226.7,469 228.7,469.3 230.8,469.3 232.8,468.9 234.9,468.4 236.9,468.3 239,468.1 241,467.8 243.1,467.8 245.1,468.3 247.2,468 249.2,468.3 251.3,468.8 253.3,468.1 255.4,468.5 257.4,468.6 259.5,467.6 261.5,468.1 263.6,468.6 265.7,468.4 267.7,467.3 269.8,468.5 271.8,468 273.9,468.1 275.9,468.1 278,468 280,468.5 282.1,468.5 284.1,468.3 286.2,468.4 288.2,467.9 290.3,467.5 292.3,468.6 294.4,467.9 296.4,468.6 298.5,468.5 300.5,468.2 302.6,468.1 304.6,468.3 306.7,469.3 308.7,467.4 310.8,468.2 312.8,468.3 314.9,467.7 316.9,468.3 319,468.6 321,467.7 323.1,467.7 325.1,468.3 327.2,467.5 329.2,467.7 331.3,468.4 333.3,467.1 335.4,467.7 337.4,468.3 339.5,467.6 341.6,467.7 343.6,467.3 345.7,468.4 347.7,467.3 349.8,467.3 351.8,467.4 353.9,467.4 355.9,467.1 358,467.3 360,467.6 362.1,468 364.1,467.1 366.2,467.1 368.2,467.4 370.3,467.5 372.3,467.2 374.4,468.7 376.4,467.4 378.5,468.6 380.5,467.4 382.6,467 384.6,466.6 386.7,467.6 388.7,467.2 390.8,467.4 392.8,468.4 394.9,467 396.9,445.3 399,384.5 401,322.1 403.1,259.6 405.1,207.2 407.2,174.5 409.2,153.3 411.3,137.1 413.4,119.7 415.4,101.6 417.5,87.3 419.5,80.1 421.6,76.5 423.6,70 425.7,67 427.7,64 429.8,61.4 431.8,59.5 433.9,58.7 435.9,55.7 438,56.7 440,60.8 442.1,58.5 444.1,57.8 446.2,57.6 448.2,59 450.3,60 452.3,59.5 454.4,58.6 456.4,59.9 458.5,65.4 460.5,63 462.6,59.8 464.6,59.4 466.7,59.7 468.7,59.8 470.8,62.6 472.8,68.8 474.9,63.3 476.9,62.8 479,61.3 481,60.5 483.1,60.2 485.2,59.7 487.2,58.8 489.3,59.3 491.3,60 493.4,58.4 495.4,57.6 497.5,58.6 499.5,58.5 501.6,60.3 503.6,58.7 505.7,59.5 507.7,59.4 509.8,57.5 511.8,58.9 513.9,58.7 515.9,60.5 518,62.7 520,61.5 522.1,59.9 524.1,60.1 526.2,59.6 528.2,58.5 530.3,58.6 532.3,59.3 534.4,57.8 536.4,58 538.5,57.2 540.5,58.5 542.6,57.2 544.6,58.7 546.7,60.6 548.7,59.7 550.8,59.2 552.8,58.5 554.9,58.7 556.9,57.9 559,57.6 561.1,58.4 563.1,59.1 565.2,58.8 567.2,57.8 569.3,57.3 571.3,57.9 573.4,58.6 575.4,66.7 577.5,62.4 579.5,61.2 581.6,58.9 583.6,58.4 585.7,58.3 587.7,58.6 589.8,57.3 591.8,57.5 593.9,58.6 595.9,57.6 598,57.9 600,57 602.1,57.2 604.1,57.8 606.2,57.6 608.2,57.9 610.3,58.2 612.3,57.8 614.4,57.1 616.4,57.2 618.5,57.4 620.5,57.8 622.6,57.2 624.6,57.1 626.7,56.6 628.7,56.7 630.8,55.6 632.9,57.6 634.9,57.4 637,57 639,56.5 641.1,57.9 643.1,58.3 645.2,57.7 647.2,56.7 649.3,56.2 651.3,57.7 653.4,57.3 655.4,56.3 657.5,56.7 659.5,57.6 661.6,57.7 663.6,58.2 665.7,56.7 667.7,57 669.8,57.2 671.8,57.6 673.9,57.3 675.9,57.6 678,57.8 680,57.3 682.1,57.1 684.1,56.6 686.2,56.6 688.2,55.8 690.3,56.3 692.3,56.3 694.4,56.3 696.4,57 698.5,56 700.5,56.9 702.6,58.1 704.7,56.5 706.7,56.1 708.8,56.7 710.8,58.1 712.9,60.3 714.9,58.4 717,58.5 719,57.5 721.1,60.5 723.1,63.7 725.2,61 727.2,59.6 729.3,57.8 731.3,57.7 733.4,56.6 735.4,56.3 737.5,56.7 739.5,56.3 741.6,55.8 743.6,55.2 745.7,55.9 747.7,54.8 749.8,55.1 751.8,55.8 753.9,57 755.9,58.1 758,56.3 760,56.3 762.1,55.9 764.1,55.1 766.2,56.5 768.2,55.9 770.3,54.6 772.3,54.7 774.4,55.2 776.4,55.2 778.5,55.5 780.6,55.1 782.6,54.5 784.7,55.3 786.7,55.1 788.8,55.2 790.8,54.9 792.9,54.7 794.9,55.9 797,68.5 799,67.5 801.1,63.7 803.1,60.6 805.2,59.4 807.2,57.9 809.3,56.6 811.3,56.9 813.4,56.7 815.4,56.6 817.5,56.4 819.5,56.4 821.6,56.5 823.6,55.5 825.7,55.5 827.7,55.9 829.8,54.9 831.8,55.4 833.9,54.7 835.9,55.8 838,54.5 840,57.6 842.1,61.2 844.1,67.5 846.2,63.4 848.2,60.7 850.3,58.1 852.4,57.1 854.4,56.3 856.5,56.4 858.5,56.9 860.6,63.6 862.6,59.7 864.7,57.9 866.7,56 868.8,55 870.8,56.8 872.9,57 874.9,54.9 877,55.2 879,54.9 881.1,54.9 883.1,54.6 885.2,53.2 887.2,54.5 889.3,54.6 891.3,54.6 893.4,55.4 895.4,55.5 897.5,55.2 899.5,54.9 901.6,54.5 903.6,55.8 905.7,56.2 907.7,54.2 909.8,54.5 911.8,53.9 913.9,54.5 915.9,54.9 918,53.2 920,54.7 922.1,62.7 924.1,58.8 926.2,57 928.3,57 930.3,56.5 932.4,56.3 934.4,56.5 936.5,55.9 938.5,54.6 940.6,53.2 942.6,55.3 944.7,55.2 946.7,57 948.8,60.2 950.8,58.2 952.9,56.8 954.9,55.2 957,61.4 959,57.8 961.1,55.7 963.1,54.6 965.2,53.4 967.2,54.2 969.3,54.2 971.3,53.4 973.4,52.9 975.4,52.8 977.5,53.7 979.5,54.1 981.6,54.8 983.6,54.6 985.7,54.7 987.7,54.5 989.8,54.4 991.8,53.5 993.9,53.2 995.9,53.9 998,54.6 1000.1,54.2 1002.1,53.6 1004.2,53.1 1006.2,53.2 1008.3,52.9 1010.3,53.7 1012.4,53.2 1014.4,52.9 1016.5,53.5 1018.5,54 1020.6,52.9 1022.6,53.9 1024.7,53.2 1026.7,53.5 1028.8,53.7 1030.8,56.8 1032.9,60.7 1034.9,57.7 1037,54.7 1039,53.4 1041.1,53.6 1043.1,53.3 1045.2,52.7 1047.2,53.3 1049.3,52.1 1051.3,52.7 1053.4,52.5 1055.4,56.2 1057.5,55.7 1059.5,55.2 1061.6,54.6 1063.6,53.2 1065.7,53.4 1067.7,55.4 1069.8,59.3 1071.9,57.4 1073.9,55.4 1076,56.2 1078,56 1080.1,58 1082.1,60.8 1084.2,57.9 1086.2,56.7 1088.3,55.5 1090.3,55.1 1092.4,54.2 1094.4,54.1 1096.5,53.5 1098.5,53 1100.6,52 1102.6,53.2 1104.7,54.3 1106.7,52.3 1108.8,52.2 1110.8,52.7 1112.9,52.3 1114.9,53.1 1117,53 1119,52.3 1121.1,52.7 1123.1,52.5 1125.2,52.2 1127.2,52.3 1129.3,52.5 1131.3,52.1 1133.4,51.4 1135.4,51.4 1137.5,53.1 1139.5,52.3 1141.6,53.6 1143.6,53.9 1145.7,52.8 1147.8,52.9 1149.8,51.8 1151.9,53.3 1153.9,52 1156,52.5 1158,52.7 1160.1,52.1 1162.1,51.2 1164.2,52.4 1166.2,53.4 1168.3,61.7 1170.3,57.8 1172.4,54.6 1174.4,53.4 1176.5,53.1 1178.5,53 1180.6,52.9 1182.6,51.8 1184.7,53 1186.7,52.9 1188.8,53 1190.8,51.6 1192.9,51.7 1194.9,52.2 1197,51.5 1199,50.4 1201.1,50.5 1203.1,52.1 1205.2,52 1207.2,51.1 1209.3,52.7 1211.3,53 1213.4,52.5 1215.4,51.7"/>
<polyline stroke="#ee3377" points="191.8,480.4 193.9,489.5 195.9,483.4 198,477.4 200,472.8 202.1,470.6 204.1,470 206.2,469.4 208.2,469.1 210.3,468.8 212.3,468 214.4,469.1 216.4,469.5 218.5,468.5 220.5,468.4 222.6,468.5 224.6,468.4 226.7,468.6 228.7,468.8 230.8,468.9 232.8,468.6 234.9,468.7 236.9,468.1 239,468.2 241,469 243.1,468.1 245.1,468.4 247.2,471.7 249.2,470 251.3,469.5 253.3,470 255.4,468.5 257.4,469.3 259.5,473.8 261.5,472.3 263.6,470.6 265.7,472.6 267.7,472.1 269.8,470.1 271.8,469.8 273.9,469.1 275.9,469 278,468.1 280,468.5 282.1,468.1 284.1,467.9 286.2,468.9 288.2,467.5 290.3,468.2 292.3,477.9 294.4,478.3 296.4,473.6 298.5,471.2 300.5,475 302.6,472 304.6,470.3 306.7,468.9 308.7,468.9 310.8,468 312.8,468.7 314.9,468.4 316.9,467.7 319,467.6 321,467.9 323.1,467.6 325.1,467.8 327.2,467.5 329.2,467.3 331.3,467.6 333.3,467.4 335.4,467.9 337.4,468 339.5,474.9 341.6,471.2 343.6,469.9 345.7,476.3 347.7,473.9 349.8,471.1 351.8,474.4 353.9,472.3 355.9,469.5 358,468.4 360,469 362.1,467.9 364.1,470.8 366.2,470.5 368.2,468.5 370.3,467.6 372.3,470.2 374.4,470.2 376.4,469.2 378.5,468.1 380.5,467.3 382.6,468.3 384.6,467.9 386.7,468 388.7,466.9 390.8,467.6 392.8,467.1 394.9,467 396.9,435 399,374.5 401,314.1 403.1,253.6 405.1,196.9 407.2,151.5 409.2,117.5 411.3,94.1 413.4,82.7 415.4,75.2 417.5,70.6 419.5,69.1 421.6,65.2 423.6,60.8 425.7,57.1 427.7,55 429.8,53.8 431.8,54.4 433.9,53.7 435.9,52.2 438,51.7 440,51.5 442.1,50.7 444.1,47.5 446.2,48.1 448.2,47.5 450.3,47.8 452.3,48.7 454.4,50.5 456.4,49.5 458.5,49.2 460.5,50.1 462.6,48.4 464.6,47.8 466.7,49.4 468.7,52.7 470.8,53.7 472.8,56.3 474.9,52.4 476.9,49.3 479,48.6 481,46.6 483.1,46 485.2,44.6 487.2,46.2 489.3,46.5 491.3,45.6 493.4,46.2 495.4,47.4 497.5,48.2 499.5,48.6 501.6,48.2 503.6,47.5 505.7,47.5 507.7,50.5 509.8,48.9 511.8,48.5 513.9,47.3 515.9,47.1 518,47.7 520,47.8 522.1,47.8 524.1,48.3 526.2,49 528.2,48.2 530.3,48.3 532.3,47.5 534.4,48 536.4,47.8 538.5,47.6 540.5,47.9 542.6,47.6 544.6,48.2 546.7,48.2 548.7,51.3 550.8,49.6 552.8,48.9 554.9,49 556.9,47.8 559,46.3 561.1,48.6 563.1,47.3 565.2,49.9 567.2,52.5 569.3,49.8 571.3,49.8 573.4,47.6 575.4,48.2 577.5,48.1 579.5,47.4 581.6,47.6 583.6,47.3 585.7,47.8 587.7,48.4 589.8,47.9 591.8,48.4 593.9,46.9 595.9,47 598,46.2 600,47.8 602.1,49.1 604.1,49.8 606.2,48.8 608.2,49 610.3,47.9 612.3,48.7 614.4,49 616.4,50.2 618.5,49.3 620.5,48 622.6,47.2 624.6,47.1 626.7,48.2 628.7,48.4 630.8,46.2 632.9,48 634.9,47.6 637,47.5 639,48.6 641.1,50.1 643.1,49.4 645.2,48.9 647.2,53.1 649.3,55 651.3,52.1 653.4,51.1 655.4,49.1 657.5,47.9 659.5,48.8 661.6,48.5 663.6,46.8 665.7,46.7 667.7,46.8 669.8,46.8 671.8,47.2 673.9,47.5 675.9,46.3 678,47 680,47.2 682.1,46.8 684.1,47 686.2,48.4 688.2,46.9 690.3,47.3 692.3,46 694.4,46.4 696.4,49.1 698.5,49.8 700.5,49.1 702.6,50.6 704.7,51.7 706.7,51.5 708.8,49.2 710.8,48.9 712.9,48.3 714.9,48.4 717,48.8 719,47.9 721.1,46.9 723.1,45.9 725.2,46.5 727.2,46.8 729.3,46.8 731.3,47.6 733.4,47.8 735.4,46.9 737.5,47.7 739.5,48.8 741.6,48.2 743.6,47.4 745.7,46.2 747.7,47.3 749.8,47.9 751.8,47.4 753.9,47.4 755.9,47.1 758,47.5 760,47.2 762.1,47.6 764.1,46.6 766.2,46.7 768.2,46.9 770.3,47.4 772.3,48.3 774.4,47.7 776.4,47.4 778.5,46.5 780.6,46.1 782.6,46.7 784.7,46.9 786.7,47.7 788.8,47.4 790.8,47.1 792.9,47.4 794.9,48 797,46.6 799,47.5 801.1,46.1 803.1,45.8 805.2,45.4 807.2,46.9 809.3,46.5 811.3,47.8 813.4,47.6 815.4,48.4 817.5,48.2 819.5,47.9 821.6,46.7 823.6,46.1 825.7,46.8 827.7,47.1 829.8,47.7 831.8,48.1 833.9,48.7 835.9,47.9 838,46.9 840,47.4 842.1,46.9 844.1,47.7 846.2,48 848.2,47.7 850.3,46.6 852.4,47.1 854.4,46.4 856.5,46.9 858.5,47.6 860.6,48.6 862.6,47.9 864.7,48 866.7,46.9 868.8,46.5 870.8,47.8 872.9,47 874.9,47.1 877,51.1 879,53.1 881.1,50.1 883.1,49.8 885.2,48.8 887.2,47.4 889.3,46.9 891.3,50.2 893.4,48.4 895.4,48.4 897.5,45.9 899.5,46 901.6,44.9 903.6,46 905.7,45.9 907.7,46 909.8,46.4 911.8,46.2 913.9,46.2 915.9,45.8 918,45.9 920,46.2 922.1,46 924.1,45.2 926.2,45.8 928.3,45.7 930.3,46 932.4,47.6 934.4,47.6 936.5,47.6 938.5,47.9 940.6,47.5 942.6,48.1 944.7,46.9 946.7,47 948.8,45.7 950.8,45.8 952.9,47 954.9,46.7 957,46.4 959,46.8 961.1,46.8 963.1,47.2 965.2,47.2 967.2,46.4 969.3,46.5 971.3,45.5 973.4,47.4 975.4,47.3 977.5,46.9 979.5,45.4 981.6,46.8 983.6,46.1 985.7,45.6 987.7,44.8 989.8,45.1 991.8,45.8 993.9,45.8 995.9,47.9 998,47.3 1000.1,46.5 1002.1,46.7 1004.2,46.3 1006.2,46.5 1008.3,48.8 1010.3,48.8 1012.4,47 1014.4,46.5 1016.5,45.7 1018.5,45.9 1020.6,46 1022.6,45.8 1024.7,46.1 1026.7,45 1028.8,44.8 1030.8,45.1 1032.9,46.3 1034.9,46.4 1037,45.9 1039,45.1 1041.1,45.5 1043.1,45.7 1045.2,45.4 1047.2,45.5 1049.3,45.8 1051.3,46.6 1053.4,48.8 1055.4,53.4 1057.5,50.7 1059.5,48.7 1061.6,48.4 1063.6,48.4 1065.7,48.3 1067.7,46.9 1069.8,47.6 1071.9,46.6 1073.9,47 1076,47.5 1078,47 1080.1,46.7 1082.1,46.6 1084.2,44.8 1086.2,45.1 1088.3,45.8 1090.3,45.1 1092.4,45.6 1094.4,44.7 1096.5,46.3 1098.5,45.1 1100.6,46.1 1102.6,46.3 1104.7,45.7 1106.7,47.4 1108.8,49.4 1110.8,47.9 1112.9,47 1114.9,47.4 1117,45.7 1119,46.2 1121.1,46.2 1123.1,45.9 1125.2,45.6 1127.2,44.7 1129.3,46.6 1131.3,45.9 1133.4,45 1135.4,45 1137.5,45.2 1139.5,46.1 1141.6,45.4 1143.6,45.7 1145.7,45.4 1147.8,46.1 1149.8,45.8 1151.9,45.6 1153.9,46.4 1156,45 1158,45.2 1160.1,46.1 1162.1,45.8 1164.2,45.4 1166.2,45.5 1168.3,46 1170.3,45.7 1172.4,46.3 1174.4,46.8 1176.5,45.1 1178.5,43.9 1180.6,43.2 1182.6,42.6 1184.7,45.5 1186.7,46.3 1188.8,46.2 1190.8,44.9 1192.9,45.4 1194.9,45.5 1197,45.2 1199,44.8 1201.1,45.9 1203.1,45.3 1205.2,44.8 1207.2,46.3 1209.3,45.4 1211.3,47.7 1213.4,51.5 1215.4,55.2"/>
<polyline stroke="#33bbee" points="191.8,467.9 193.9,467.9 195.9,467.9 198,467.9 200,467.9 202.1,487.9 204.1,484.9 206.2,477.4 208.2,472.1 210.3,470.2 212.3,469 214.4,469.7 216.4,469.6 218.5,468.8 220.5,468.4 222.6,468.8 224.6,469.4 226.7,468.9 228.7,468.1 230.8,469.3 232.8,468.2 234.9,468.5 236.9,468.5 239,468.3 241,468.9 243.1,468.7 245.1,467.8 247.2,468.8 249.2,468.8 251.3,469.3 253.3,468.9 255.4,468.3 257.4,468.1 259.5,468.3 261.5,468.3 263.6,468.3 265.7,468.5 267.7,468.1 269.8,468.7 271.8,468.1 273.9,468.6 275.9,469.3 278,469.2 280,468.7 282.1,468.8 284.1,469.1 286.2,468.9 288.2,468.5 290.3,468.4 292.3,468.2 294.4,468.9 296.4,468.4 298.5,468.1 300.5,468.4 302.6,467.7 304.6,468.7 306.7,468.5 308.7,468.4 310.8,468.7 312.8,468.5 314.9,468.4 316.9,468.5 319,468.7 321,468.7 323.1,468.5 325.1,469.1 327.2,468.4 329.2,468.9 331.3,468.5 333.3,468.9 335.4,468.4 337.4,468.6 339.5,468.5 341.6,468.7 343.6,468.4 345.7,467.7 347.7,469.2 349.8,468.2 351.8,468.3 353.9,468.6 355.9,468.9 358,467.7 360,468.3 362.1,467.9 364.1,468.5 366.2,468.7 368.2,467.9 370.3,468 372.3,468.5 374.4,468.4 376.4,468 378.5,468.7 380.5,468.7 382.6,468.3 384.6,467.9 386.7,467.9 388.7,468.2 390.8,467.7 392.8,468.3 394.9,468.5 396.9,467.2 399,468.5 401,468 403.1,468 405.1,468.2 407.2,468.1 409.2,467.9 411.3,468 413.4,468.5 415.4,468.2 417.5,467.6 419.5,467.9 421.6,468.4 423.6,468.2 425.7,468.6 427.7,468.8 429.8,468.4 431.8,467.5 433.9,468.4 435.9,469 438,468.2 440,468.5 442.1,467.8 444.1,467.6 446.2,468.3 448.2,468.1 450.3,468.5 452.3,467.6 454.4,468.4 456.4,468.1 458.5,467.1 460.5,468.5 462.6,468 464.6,468.1 466.7,467.9 468.7,467.9 470.8,467.4 472.8,467.9 474.9,467.8 476.9,468.6 479,467.9 481,468.6 483.1,467.5 485.2,468.1 487.2,467.6 489.3,468.2 491.3,467.9 493.4,468 495.4,467.8 497.5,468.1 499.5,468.3 501.6,468.2 503.6,468.3 505.7,468.4 507.7,468.5 509.8,468.6 511.8,467.1 513.9,468.3 515.9,468.4 518,467.5 520,467.8 522.1,468 524.1,467.4 526.2,467.1 528.2,468.3 530.3,467.3 532.3,467.7 534.4,467.4 536.4,468.1 538.5,466.6 540.5,466.8 542.6,462.2 544.6,451.7 546.7,423.7 548.7,351.9 550.8,246 552.8,185.5 554.9,161.3 556.9,166.6 559,178 561.1,203.7 563.1,151.5 565.2,116.5 567.2,98 569.3,81.7 571.3,73.6 573.4,68.2 575.4,64.2 577.5,60.9 579.5,59.5 581.6,59.2 583.6,57.1 585.7,56.8 587.7,58.7 589.8,57.8 591.8,62 593.9,59 595.9,58.9 598,57.6 600,57.6 602.1,54.8 604.1,55.6 606.2,54.7 608.2,55.6 610.3,55.9 612.3,55.5 614.4,73.7 616.4,64.8 618.5,61.8 620.5,58.3 622.6,60 624.6,61.3 626.7,58.6 628.7,58.7 630.8,55.9 632.9,55.7 634.9,55.9 637,54.6 639,55.9 641.1,56.6 643.1,59.6 645.2,75.9 647.2,79.7 649.3,71.7 651.3,68.2 653.4,62.5 655.4,59.6 657.5,59.6 659.5,58.7 661.6,91 663.6,117.5 665.7,128.8 667.7,113.7 669.8,90.6 671.8,76.6 673.9,67.7 675.9,63.8 678,61.4 680,58.4 682.1,57 684.1,56.3 686.2,56.2 688.2,55.5 690.3,55.4 692.3,56.2 694.4,54.6 696.4,54.4 698.5,55.4 700.5,55.7 702.6,56.4 704.7,57.2 706.7,57.3 708.8,57.7 710.8,57.2 712.9,56.2 714.9,56 717,70.6 719,64.7 721.1,61.5 723.1,60 725.2,57.2 727.2,57.5 729.3,56 731.3,57.3 733.4,56.3 735.4,56.6 737.5,55.3 739.5,55.2 741.6,56.1 743.6,55.4 745.7,54.5 747.7,54.1 749.8,53.7 751.8,55.1 753.9,53.6 755.9,94.8 758,98.6 760,102.4 762.1,98.6 764.1,106.2 766.2,117.5 768.2,125.8 770.3,113.7 772.3,89.9 774.4,75 776.4,66.5 778.5,62.3 780.6,59.3 782.6,57.8 784.7,58.5 786.7,58.1 788.8,57.2 790.8,55.6 792.9,56.7 794.9,55.9 797,56.2 799,55.2 801.1,54.8 803.1,56 805.2,56.7 807.2,54.8 809.3,54.3 811.3,57.2 813.4,55.8 815.4,55.8 817.5,55.3 819.5,55.7 821.6,55.1 823.6,53.9 825.7,53.5 827.7,53.5 829.8,54.4 831.8,54.1 833.9,55.1 835.9,55.4 838,55.2 840,75.9 842.1,178 844.1,128.8 846.2,102.4 848.2,85 850.3,87.3 852.4,83.5 854.4,83.5 856.5,91 858.5,98.6 860.6,106.2 862.6,117.5 864.7,119 866.7,103.9 868.8,94.8 870.8,87.3 872.9,81.2 874.9,78.2 877,75.9 879,77.4 881.1,72.1 883.1,65.2 885.2,59.4 887.2,57.2 889.3,55.9 891.3,56.5 893.4,55.7 895.4,54.2 897.5,54.1 899.5,53.8 901.6,54.5 903.6,54.1 905.7,54.9 907.7,55 909.8,53.9 911.8,52.9 913.9,54.2 915.9,54.6 918,54.8 920,54.9 922.1,54.7 924.1,67.6 926.2,62.2 928.3,59.2 930.3,57 932.4,57.6 934.4,56.3 936.5,54.1 938.5,55.7 940.6,55.7 942.6,73.7 944.7,69.7 946.7,63.9 948.8,61 950.8,57 952.9,58 954.9,57.1 957,57.8 959,58.2 961.1,55.1 963.1,53.2 965.2,55.1 967.2,55 969.3,54.8 971.3,54 973.4,54.4 975.4,54.1 977.5,54.1 979.5,54.3 981.6,54.2 983.6,53.1 985.7,53.5 987.7,53.3 989.8,53.8 991.8,53.4 993.9,52.4 995.9,53.3 998,56.6 1000.1,56.2 1002.1,103.1 1004.2,86.1 1006.2,72.8 1008.3,63.2 1010.3,59.7 1012.4,56.1 1014.4,55.5 1016.5,55.1 1018.5,54.2 1020.6,54.9 1022.6,56.4 1024.7,55.1 1026.7,55 1028.8,54.2 1030.8,52.6 1032.9,53.1 1034.9,54.8 1037,62.8 1039,68.4 1041.1,64.1 1043.1,57.8 1045.2,57 1047.2,75.9 1049.3,91.8 1051.3,83.5 1053.4,71.1 1055.4,64.2 1057.5,60.1 1059.5,56.8 1061.6,57.2 1063.6,58.7 1065.7,56.3 1067.7,55.7 1069.8,53.8 1071.9,53.8 1073.9,53.8 1076,54.1 1078,53.3 1080.1,52.5 1082.1,53.3 1084.2,55.2 1086.2,55.6 1088.3,58.7 1090.3,56 1092.4,56.1 1094.4,54.6 1096.5,54.3 1098.5,54.9 1100.6,55.8 1102.6,54.6 1104.7,53.8 1106.7,54.9 1108.8,56.1 1110.8,144 1112.9,105.7 1114.9,85.5 1117,72.8 1119,65.8 1121.1,61.7 1123.1,56.8 1125.2,56.8 1127.2,54.9 1129.3,54.7 1131.3,56.8 1133.4,59.4 1135.4,59.3 1137.5,60.9 1139.5,56.8 1141.6,55.7 1143.6,56.2 1145.7,53.5 1147.8,54.4 1149.8,54.6 1151.9,52 1153.9,51.9 1156,52.2 1158,51.2 1160.1,52.9 1162.1,54.3 1164.2,54.4 1166.2,53.5 1168.3,52.9 1170.3,53.4 1172.4,51.2 1174.4,51.4 1176.5,51.9 1178.5,91 1180.6,254.6 1182.6,173.5 1184.7,125.5 1186.7,93.9 1188.8,76.3 1190.8,66.6 1192.9,61.2 1194.9,59.3 1197,55.6 1199,55 1201.1,53 1203.1,54.2 1205.2,57.4 1207.2,55.3 1209.3,54.2 1211.3,53.7 1213.4,53.2 1215.4,52.8"/>
<polyline stroke="#cc3311" points="191.8,476.6 193.9,475.1 195.9,473.6 198,477.6 200,476.3 202.1,475.7 204.1,473.8 206.2,472.1 208.2,470.5 210.3,469 212.3,469 214.4,469 216.4,469.2 218.5,468.8 220.5,473.4 222.6,471.1 224.6,470.9 226.7,474.7 228.7,474.5 230.8,471.3 232.8,473.7 234.9,472 236.9,471 239,475.2 241,472.3 243.1,470.5 245.1,470.8 247.2,469.4 249.2,469.5 251.3,471.5 253.3,470.9 255.4,469.8 257.4,468.9 259.5,469.2 261.5,468.8 263.6,469.2 265.7,468.9 267.7,469.6 269.8,469 271.8,468.9 273.9,468.9 275.9,467.6 278,469.7 280,469.6 282.1,468.4 284.1,468.2 286.2,468.5 288.2,468 290.3,467.5 292.3,468.7 294.4,469.1 296.4,468.6 298.5,467.9 300.5,468.3 302.6,468.5 304.6,468.3 306.7,468.3 308.7,469.2 310.8,468.2 312.8,468.8 314.9,472.3 316.9,470.9 319,469.7 321,473.3 323.1,471.6 325.1,470.2 327.2,475.1 329.2,472.4 331.3,471.2 333.3,473.2 335.4,471.7 337.4,470.3 339.5,469.3 341.6,468.2 343.6,469 345.7,468.6 347.7,468.3 349.8,468.7 351.8,468.2 353.9,467.6 355.9,469 358,468.1 360,468.5 362.1,467.2 364.1,467.8 366.2,467.8 368.2,468.1 370.3,468.6 372.3,468 374.4,467.9 376.4,468 378.5,467.2 380.5,467.7 382.6,468.4 384.6,468.2 386.7,467.8 388.7,468.5 390.8,468.1 392.8,468.2 394.9,467.9 396.9,467.9 399,468.2 401,467.3 403.1,468.2 405.1,467.6 407.2,468.4 409.2,468.3 411.3,468.1 413.4,468 415.4,467.4 417.5,468.5 419.5,467 421.6,468.4 423.6,467.1 425.7,467.7 427.7,468 429.8,467.4 431.8,468 433.9,467.7 435.9,467.7 438,466.4 440,468.2 442.1,466.8 444.1,467.8 446.2,468 448.2,467.9 450.3,467.1 452.3,467.7 454.4,468 456.4,467.3 458.5,467.5 460.5,467.1 462.6,468.1 464.6,466.9 466.7,467 468.7,467.9 470.8,467.7 472.8,467.3 474.9,467.6 476.9,467.1 479,467.2 481,467.5 483.1,468 485.2,468.4 487.2,467.3 489.3,468 491.3,466.9 493.4,466.6 495.4,467.4 497.5,465.8 499.5,452.8 501.6,415.7 503.6,373.6 505.7,337.7 507.7,306.5 509.8,283.3 511.8,262.6 513.9,246.9 515.9,232.9 518,220.3 520,199.1 522.1,172.6 524.1,154.1 526.2,139.9 528.2,127.5 530.3,118.6 532.3,110.6 534.4,103.3 536.4,97.3 538.5,95 540.5,87.4 542.6,82.3 544.6,85.9 546.7,84.8 548.7,80.1 550.8,76 552.8,72.9 554.9,70.2 556.9,67.8 559,63.4 561.1,63.4 563.1,61.9 565.2,61.1 567.2,59.6 569.3,58 571.3,57.6 573.4,54.4 575.4,54.4 577.5,55.4 579.5,56.7 581.6,58.1 583.6,56.5 585.7,56.1 587.7,56.2 589.8,55.4 591.8,55.8 593.9,63.5 595.9,62.2 598,60 600,58.4 602.1,57.2 604.1,56.8 606.2,57.7 608.2,57.9 610.3,56.9 612.3,56.2 614.4,56.9 616.4,57.4 618.5,57.3 620.5,57.6 622.6,62.9 624.6,63.4 626.7,60.2 628.7,59.3 630.8,57.6 632.9,55.2 634.9,56.8 637,56.5 639,54.5 641.1,54.8 643.1,55.4 645.2,60.5 647.2,59.1 649.3,59 651.3,59.7 653.4,58.4 655.4,58.7 657.5,58.3 659.5,57.2 661.6,58 663.6,56.6 665.7,57.3 667.7,55.6 669.8,56.6 671.8,55.5 673.9,55.6 675.9,56.1 678,55.1 680,55.6 682.1,57.6 684.1,56.2 686.2,56.7 688.2,56.4 690.3,55.8 692.3,55.1 694.4,55.2 696.4,56.2 698.5,56.4 700.5,56.8 702.6,56.2 704.7,56.3 706.7,55.2 708.8,57.3 710.8,55.7 712.9,54.2 714.9,54.5 717,55.1 719,54.3 721.1,55.5 723.1,55.4 725.2,54.2 727.2,54.3 729.3,54.9 731.3,55.2 733.4,55.5 735.4,54.1 737.5,53 739.5,52.9 741.6,54 743.6,54.2 745.7,55.3 747.7,55.9 749.8,54.8 751.8,54.3 753.9,55.6 755.9,56.1 758,55.1 760,55.9 762.1,54.4 764.1,53.6 766.2,55 768.2,55 770.3,54.1 772.3,53.5 774.4,54.1 776.4,54.4 778.5,54.7 780.6,54.1 782.6,56.3 784.7,59.8 786.7,58 788.8,56.6 790.8,55.8 792.9,55.5 794.9,55.9 797,55 799,54 801.1,54.3 803.1,53.7 805.2,53.7 807.2,53.4 809.3,54.2 811.3,57.5 813.4,55.4 815.4,54 817.5,55.2 819.5,56.1 821.6,55.8 823.6,55.1 825.7,54.2 827.7,55.3 829.8,54.7 831.8,55.2 833.9,54.3 835.9,54.3 838,53.9 840,54.3 842.1,61.5 844.1,57.6 846.2,57.8 848.2,57.2 850.3,56.2 852.4,55.4 854.4,55.2 856.5,53.6 858.5,52.9 860.6,53.6 862.6,52.1 864.7,52.8 866.7,52 868.8,53.7 870.8,54.1 872.9,54.3 874.9,52.2 877,52.2 879,53.1 881.1,53.1 883.1,53.3 885.2,53.5 887.2,54.1 889.3,53 891.3,52.9 893.4,54.5 895.4,53.7 897.5,52.8 899.5,52.9 901.6,53.3 903.6,52.8 905.7,52.4 907.7,51.3 909.8,52.7 911.8,52.6 913.9,52.9 915.9,53.4 918,53.1 920,54.2 922.1,54.2 924.1,54.6 926.2,55.1 928.3,54.5 930.3,54.6 932.4,54.1 934.4,53.1 936.5,53.4 938.5,55.1 940.6,52.2 942.6,52.8 944.7,52.1 946.7,53.3 948.8,53.3 950.8,54.9 952.9,57 954.9,55.7 957,53 959,54.3 961.1,57.4 963.1,53.8 965.2,53.5 967.2,54.5 969.3,53.1 971.3,52.5 973.4,51.5 975.4,50.6 977.5,51.6 979.5,51.2 981.6,51.8 983.6,63.6 985.7,64 987.7,60 989.8,58 991.8,55.3 993.9,54.8 995.9,54.7 998,53.7 1000.1,54 1002.1,52.3 1004.2,50.8 1006.2,51.2 1008.3,51.8 1010.3,52.3 1012.4,51.8 1014.4,51.3 1016.5,51 1018.5,51.9 1020.6,51.8 1022.6,53.1 1024.7,52.3 1026.7,51.4 1028.8,50.9 1030.8,52.2 1032.9,53.2 1034.9,50.9 1037,51.5 1039,51.9 1041.1,51.6 1043.1,51.9 1045.2,51.5 1047.2,51.2 1049.3,52.1 1051.3,53 1053.4,52.7 1055.4,54.7 1057.5,57.1 1059.5,63 1061.6,59.1 1063.6,55.7 1065.7,53.5 1067.7,53.1 1069.8,53.2 1071.9,53.7 1073.9,55.2 1076,54.1 1078,54.1 1080.1,53 1082.1,52 1084.2,52 1086.2,50.1 1088.3,50.8 1090.3,50.7 1092.4,48.3 1094.4,48.7 1096.5,50 1098.5,50.4 1100.6,51 1102.6,51 1104.7,51.3 1106.7,52.4 1108.8,52.8 1110.8,51.3 1112.9,49.9 1114.9,50.4 1117,51.6 1119,52.3 1121.1,50.5 1123.1,49.4 1125.2,49.4 1127.2,50.4 1129.3,51.1 1131.3,50.2 1133.4,50.8 1135.4,51.7 1137.5,53.1 1139.5,52.4 1141.6,51.7 1143.6,52 1145.7,50.2 1147.8,51.3 1149.8,50.2 1151.9,52.5 1153.9,52 1156,50.9 1158,51.9 1160.1,50.3 1162.1,51 1164.2,51.2 1166.2,50.5 1168.3,50.4 1170.3,51.2 1172.4,50.2 1174.4,51.2 1176.5,50.8 1178.5,51.3 1180.6,51.6 1182.6,50.6 1184.7,50.7 1186.7,51.8 1188.8,51.1 1190.8,50.5 1192.9,51.2 1194.9,51.2 1197,51.2 1199,48.8 1201.1,49.5 1203.1,48.8 1205.2,49.1 1207.2,49.1 1209.3,49.6 1211.3,51.6 1213.4,51 1215.4,50.3"/>
<polyline stroke="#cc3311" points="191.8,469 193.9,494 195.9,481.9 198,477.4 200,472.1 202.1,480.4 204.1,474.3 206.2,471.3 208.2,470.4 210.3,469.8 212.3,468.7 214.4,469.2 216.4,468.5 218.5,469.3 220.5,468.4 222.6,474.8 224.6,471.7 226.7,470.5 228.7,478.3 230.8,474.6 232.8,471.9 234.9,474.5 236.9,472.5 239,470.5 241,471 243.1,469.4 245.1,468.1 247.2,468.6 249.2,469.4 251.3,468.2 253.3,468.5 255.4,468.9 257.4,468.8 259.5,468.5 261.5,468.2 263.6,468.6 265.7,467.7 267.7,468.8 269.8,468.1 271.8,469.2 273.9,472.4 275.9,470.3 278,469.4 280,468.3 282.1,469 284.1,468.5 286.2,469.1 288.2,468.5 290.3,468.2 292.3,468.6 294.4,467.9 296.4,467.8 298.5,468.1 300.5,468.4 302.6,468.4 304.6,468.1 306.7,468.8 308.7,467.9 310.8,468.6 312.8,468.2 314.9,468.8 316.9,468.7 319,468.6 321,468 323.1,473.5 325.1,471.4 327.2,469.7 329.2,476.6 331.3,472.6 333.3,471.3 335.4,470.3 337.4,469.5 339.5,468.3 341.6,467.8 343.6,468.6 345.7,468.8 347.7,469 349.8,468.2 351.8,468 353.9,468 355.9,468 358,467.5 360,468.1 362.1,467.9 364.1,468.2 366.2,468.5 368.2,469.1 370.3,468.1 372.3,468.3 374.4,468.3 376.4,468.3 378.5,468 380.5,468 382.6,469 384.6,468.2 386.7,467.8 388.7,467.8 390.8,468.1 392.8,467.9 394.9,468.7 396.9,467.8 399,468.1 401,467.9 403.1,467.6 405.1,467.9 407.2,468.4 409.2,468.8 411.3,468.1 413.4,467.9 415.4,467.8 417.5,467.4 419.5,467.7 421.6,467.7 423.6,468.7 425.7,467.5 427.7,467.8 429.8,466.9 431.8,467.5 433.9,468.2 435.9,467.8 438,467.5 440,468.2 442.1,468.5 444.1,467.6 446.2,468 448.2,467.8 450.3,467.7 452.3,467.9 454.4,467.4 456.4,467.6 458.5,467.6 460.5,467.3 462.6,467.7 464.6,468.2 466.7,467.7 468.7,468.3 470.8,467.6 472.8,468.2 474.9,467.7 476.9,467.1 479,467.3 481,468 483.1,468.2 485.2,467.8 487.2,467.1 489.3,467.3 491.3,468.3 493.4,467.2 495.4,467.4 497.5,467.2 499.5,466.9 501.6,467.9 503.6,467.3 505.7,467.4 507.7,467 509.8,467.6 511.8,468.1 513.9,467.4 515.9,467 518,467.6 520,467.6 522.1,467.4 524.1,467.5 526.2,467.6 528.2,467.6 530.3,466.7 532.3,467.6 534.4,467.3 536.4,466.9 538.5,466.9 540.5,465.3 542.6,461.5 544.6,450.1 546.7,419.9 548.7,344.3 550.8,242.2 552.8,193.1 554.9,173.4 556.9,181.8 559,168.9 561.1,147 563.1,126.6 565.2,107.5 567.2,92.3 569.3,81.3 571.3,73.7 573.4,68.3 575.4,65.2 577.5,61.1 579.5,59.3 581.6,59.2 583.6,57.5 585.7,55.3 587.7,56.6 589.8,57.8 591.8,57.3 593.9,58.8 595.9,57.4 598,66.8 600,61.4 602.1,60.1 604.1,59.4 606.2,58.4 608.2,57.2 610.3,57.1 612.3,70.6 614.4,69.1 616.4,64.1 618.5,66.1 620.5,61.6 622.6,59.7 624.6,58.1 626.7,66.1 628.7,70.6 630.8,64.6 632.9,61.2 634.9,59.2 637,57.3 639,56 641.1,56.1 643.1,57.7 645.2,58.2 647.2,56.5 649.3,55.1 651.3,54.7 653.4,55.9 655.4,55.9 657.5,56.5 659.5,58.5 661.6,75.9 663.6,159.1 665.7,141.7 667.7,122.8 669.8,113 671.8,94.8 673.9,78.2 675.9,66.8 678,60 680,58.9 682.1,57.9 684.1,58.2 686.2,54.7 688.2,54.9 690.3,56.4 692.3,55.4 694.4,57.7 696.4,55.9 698.5,55.9 700.5,55.9 702.6,55.3 704.7,55.6 706.7,55.4 708.8,56.6 710.8,56 712.9,56.3 714.9,72.1 717,66.1 719,61.8 721.1,61.5 723.1,62.8 725.2,60.6 727.2,57.8 729.3,57.4 731.3,56.8 733.4,56.8 735.4,55.8 737.5,56.7 739.5,58.6 741.6,57.8 743.6,67.5 745.7,61.8 747.7,60.3 749.8,59.5 751.8,58.4 753.9,64.6 755.9,83.5 758,89.5 760,91 762.1,85 764.1,91 766.2,98.6 768.2,112.2 770.3,103.9 772.3,93.3 774.4,81.2 776.4,72.1 778.5,66.8 780.6,61.3 782.6,60.8 784.7,58.7 786.7,58.3 788.8,57.9 790.8,56.1 792.9,54.9 794.9,56.1 797,55.8 799,56 801.1,55.5 803.1,56.5 805.2,55.5 807.2,56.2 809.3,55.9 811.3,56.6 813.4,55.5 815.4,56.1 817.5,55.6 819.5,55.9 821.6,55.3 823.6,55.4 825.7,53.8 827.7,55.9 829.8,55.3 831.8,56.2 833.9,56 835.9,57.4 838,55.6 840,60.8 842.1,83.5 844.1,94.8 846.2,88.8 848.2,86.5 850.3,88.8 852.4,81.2 854.4,79.7 856.5,85.7 858.5,90.3 860.6,94.8 862.6,98.6 864.7,100.1 866.7,94.8 868.8,87.3 870.8,82.7 872.9,78.2 874.9,73.7 877,69.9 879,67.6 881.1,69.9 883.1,72.1 885.2,68.4 887.2,63.4 889.3,64.6 891.3,60.7 893.4,62.3 895.4,72.5 897.5,59.3 899.5,66.1 901.6,75.9 903.6,73.7 905.7,69.1 907.7,65.4 909.8,64.6 911.8,66.8 913.9,72.1 915.9,77.4 918,78.2 920,74.4 922.1,73.7 924.1,72.1 926.2,71.4 928.3,65.2 930.3,70.6 932.4,68.4 934.4,66.1 936.5,67.6 938.5,70.6 940.6,73.7 942.6,75.9 944.7,69.9 946.7,60.8 948.8,55.5 950.8,55.5 952.9,52.4 954.9,53.6 957,55.3 959,54.9 961.1,56 963.1,56.2 965.2,56 967.2,56.6 969.3,55.6 971.3,55.3 973.4,55.3 975.4,54.4 977.5,53.8 979.5,54.6 981.6,60.8 983.6,57.5 985.7,57.1 987.7,55.5 989.8,56.3 991.8,56.6 993.9,55.7 995.9,54.4 998,52.7 1000.1,53.8 1002.1,53.2 1004.2,55.1 1006.2,57.2 1008.3,59.3 1010.3,58 1012.4,56.5 1014.4,63.1 1016.5,58.1 1018.5,57.8 1020.6,57.2 1022.6,55.2 1024.7,54.1 1026.7,53.9 1028.8,54.6 1030.8,54.3 1032.9,52.4 1034.9,53.6 1037,60.8 1039,64.6 1041.1,66.1 1043.1,67.6 1045.2,70.6 1047.2,69.1 1049.3,73.7 1051.3,84.2 1053.4,75.9 1055.4,69.9 1057.5,64.6 1059.5,60.3 1061.6,60 1063.6,56.5 1065.7,55.3 1067.7,54.8 1069.8,53.8 1071.9,55.3 1073.9,54.7 1076,55.7 1078,54.9 1080.1,63.1 1082.1,59.1 1084.2,58 1086.2,55.6 1088.3,55.3 1090.3,53.8 1092.4,54.6 1094.4,51.8 1096.5,52.1 1098.5,54.5 1100.6,55.2 1102.6,55.3 1104.7,54.4 1106.7,54.1 1108.8,66.1 1110.8,97.5 1112.9,113.7 1114.9,98.6 1117,82.3 1119,78.9 1121.1,86.9 1123.1,75.9 1125.2,69.1 1127.2,63.1 1129.3,60.1 1131.3,57.8 1133.4,55.4 1135.4,53.6 1137.5,53.5 1139.5,52.9 1141.6,51.5 1143.6,52.6 1145.7,52.5 1147.8,53.4 1149.8,52.2 1151.9,53.7 1153.9,52.9 1156,50.6 1158,51.6 1160.1,52.3 1162.1,52.1 1164.2,52.1 1166.2,58.3 1168.3,56.4 1170.3,54.5 1172.4,53.5 1174.4,60.8 1176.5,57 1178.5,55.6 1180.6,66.1 1182.6,98.2 1184.7,83.5 1186.7,72.1 1188.8,64.6 1190.8,58.5 1192.9,55.5 1194.9,67.6 1197,80.5 1199,67.6 1201.1,61.6 1203.1,57.8 1205.2,54.9 1207.2,54.2 1209.3,53.2 1211.3,52.5 1213.4,50.3 1215.4,50.8"/>
<polyline stroke="#0077bb" points="191.8,493.2 193.9,489.5 195.9,485.7 198,481.9 200,478.9 202.1,475.1 204.1,472.1 206.2,470.6 208.2,470 210.3,470.2 212.3,469.2 214.4,468.4 216.4,468.8 218.5,468.6 220.5,469.4 222.6,468.8 224.6,468.9 226.7,468.2 228.7,468.6 230.8,468.7 232.8,469 234.9,469 236.9,468.6 239,468 241,469.5 243.1,469.9 245.1,467.6 247.2,467.8 249.2,468.2 251.3,468.3 253.3,468.7 255.4,468.7 257.4,469.1 259.5,468.2 261.5,468.6 263.6,469.4 265.7,468.7 267.7,468.7 269.8,468.7 271.8,467.5 273.9,467.9 275.9,469.9 278,468.1 280,467.8 282.1,467.7 284.1,467.9 286.2,469.3 288.2,467.9 290.3,468.3 292.3,467.6 294.4,468 296.4,469 298.5,467.4 300.5,468.8 302.6,467.7 304.6,468 306.7,468.5 308.7,469.3 310.8,468.6 312.8,468.6 314.9,468.2 316.9,468.2 319,467.4 321,467.9 323.1,467.5 325.1,468.7 327.2,468.3 329.2,467.6 331.3,467.6 333.3,467.7 335.4,468.3 337.4,468.5 339.5,467.2 341.6,468.3 343.6,468.2 345.7,467.2 347.7,467.9 349.8,468.3 351.8,467.5 353.9,468 355.9,467.3 358,468 360,468.3 362.1,466.7 364.1,467.3 366.2,467.8 368.2,467.9 370.3,468.5 372.3,468.1 374.4,468.4 376.4,467.4 378.5,467.2 380.5,468 382.6,468 384.6,467.6 386.7,467.8 388.7,467.5 390.8,467.5 392.8,467.5 394.9,467.4 396.9,468.2 399,467.4 401,468.6 403.1,467.6 405.1,467.8 407.2,467.5 409.2,467.7 411.3,467.5 413.4,468.5 415.4,467.9 417.5,468 419.5,467.4 421.6,467.5 423.6,467.8 425.7,467.8 427.7,467.9 429.8,467.6 431.8,467.3 433.9,467.2 435.9,467.6 438,468 440,467.9 442.1,467.1 444.1,468 446.2,467.6 448.2,468.5 450.3,467 452.3,467.4 454.4,467.7 456.4,467.5 458.5,452.2 460.5,397.4 462.6,332.9 464.6,261.9 466.7,203.4 468.7,165.1 470.8,142.8 472.8,128.4 474.9,116.9 476.9,109.7 479,103.3 481,97.1 483.1,91 485.2,86 487.2,81 489.3,76.7 491.3,74.5 493.4,72.3 495.4,67.2 497.5,65.2 499.5,71.8 501.6,69.5 503.6,66.3 505.7,64 507.7,62.2 509.8,59.2 511.8,59.1 513.9,59.1 515.9,57.8 518,60.8 520,63.1 522.1,61.2 524.1,59.4 526.2,59.6 528.2,59 530.3,57.5 532.3,57.8 534.4,57.8 536.4,60 538.5,59 540.5,57.4 542.6,58.5 544.6,61.8 546.7,57.1 548.7,56.2 550.8,56.8 552.8,54.9 554.9,54 556.9,52.8 559,54.3 561.1,53.8 563.1,52.4 565.2,52.6 567.2,53.9 569.3,57.8 571.3,55.5 573.4,54.7 575.4,52.7 577.5,54.1 579.5,52.7 581.6,53 583.6,53.3 585.7,54.1 587.7,54.9 589.8,55.7 591.8,58.1 593.9,57.2 595.9,54.7 598,54.1 600,53.7 602.1,52.9 604.1,53.6 606.2,53 608.2,55.2 610.3,55 612.3,53.5 614.4,53.9 616.4,52.4 618.5,54.7 620.5,57.9 622.6,54.9 624.6,54.6 626.7,54.6 628.7,54.4 630.8,54.9 632.9,54.8 634.9,53.5 637,54.4 639,54.3 641.1,54.8 643.1,54.2 645.2,53.5 647.2,53.2 649.3,53.9 651.3,54.6 653.4,53.9 655.4,53 657.5,52.8 659.5,50.8 661.6,52.3 663.6,53.6 665.7,54 667.7,55.2 669.8,55.6 671.8,59.5 673.9,58.7 675.9,56.6 678,54.7 680,53.3 682.1,53.1 684.1,52.5 686.2,53.9 688.2,52.3 690.3,51.4 692.3,54.2 694.4,58.8 696.4,57.1 698.5,57.1 700.5,54.5 702.6,54.2 704.7,55.1 706.7,55.1 708.8,53 710.8,53.3 712.9,55.1 714.9,54.5 717,53.3 719,53.5 721.1,52.9 723.1,52.8 725.2,53.2 727.2,54.3 729.3,53.8 731.3,53 733.4,53.8 735.4,52.6 737.5,51.3 739.5,51.7 741.6,56.1 743.6,55.2 745.7,55.4 747.7,53 749.8,53.7 751.8,55.1 753.9,52.6 755.9,52.2 758,53.4 760,53.2 762.1,53 764.1,52.4 766.2,54.7 768.2,54.9 770.3,55.3 772.3,54.1 774.4,54.3 776.4,53.4 778.5,51.6 780.6,52 782.6,53.6 784.7,54.1 786.7,54.5 788.8,55.7 790.8,53.4 792.9,53.2 794.9,52.5 797,51.8 799,52.4 801.1,51.6 803.1,52 805.2,53.6 807.2,53.4 809.3,54.7 811.3,55.6 813.4,53 815.4,54.7 817.5,54 819.5,54.2 821.6,53.4 823.6,52.4 825.7,51.2 827.7,53.7 829.8,53.2 831.8,51.8 833.9,60.2 835.9,56.5 838,54.7 840,52.7 842.1,52.6 844.1,55 846.2,54.8 848.2,54.3 850.3,54.9 852.4,58.1 854.4,54.8 856.5,55.1 858.5,53.9 860.6,52.4 862.6,54.4 864.7,53.3 866.7,53.2 868.8,53.5 870.8,51 872.9,52.4 874.9,51.8 877,53 879,53.6 881.1,52.8 883.1,51.5 885.2,52.1 887.2,51.7 889.3,52.2 891.3,51.2 893.4,51.6 895.4,51.7 897.5,51.3 899.5,51.4 901.6,51.7 903.6,52.3 905.7,52.1 907.7,52.5 909.8,51 911.8,51.7 913.9,51.1 915.9,52.1 918,51.6 920,53.2 922.1,53.1 924.1,51.4 926.2,51.4 928.3,53.7 930.3,53.1 932.4,52.6 934.4,52.9 936.5,53.7 938.5,54 940.6,51.3 942.6,52 944.7,51.1 946.7,50.9 948.8,52.1 950.8,51.7 952.9,51.6 954.9,53.5 957,52.4 959,52 961.1,51.6 963.1,52 965.2,52.2 967.2,51.9 969.3,52.6 971.3,51.1 973.4,51 975.4,51.3 977.5,51.6 979.5,51.2 981.6,51.3 983.6,51.8 985.7,50.9 987.7,49.5 989.8,48.6 991.8,49.5 993.9,50.7 995.9,47.9 998,49.4 1000.1,50.1 1002.1,51.4 1004.2,51.1 1006.2,51.5 1008.3,51.8 1010.3,51.4 1012.4,51 1014.4,58.5 1016.5,58.4 1018.5,57.3 1020.6,54 1022.6,57.9 1024.7,55.1 1026.7,54.8 1028.8,52.6 1030.8,51.5 1032.9,51.5 1034.9,51.7 1037,51.8 1039,49.9 1041.1,51 1043.1,53.5 1045.2,52.9 1047.2,51.8 1049.3,51.6 1051.3,51.3 1053.4,50.7 1055.4,52.1 1057.5,50 1059.5,51.1 1061.6,51.2 1063.6,51.2 1065.7,50 1067.7,48.9 1069.8,49 1071.9,50.1 1073.9,50.1 1076,51.3 1078,50.9 1080.1,50.8 1082.1,51.3 1084.2,50.8 1086.2,49.5 1088.3,50.4 1090.3,50.1 1092.4,50.4 1094.4,52.2 1096.5,50.5 1098.5,51.6 1100.6,52.5 1102.6,51 1104.7,50.5 1106.7,50 1108.8,49.8 1110.8,49 1112.9,49.4 1114.9,48.9 1117,49.1 1119,50.9 1121.1,50.3 1123.1,49.8 1125.2,49.7 1127.2,49.9 1129.3,50.1 1131.3,48.6 1133.4,49 1135.4,50.4 1137.5,52.1 1139.5,51.1 1141.6,50.6 1143.6,53.6 1145.7,55.8 1147.8,55.5 1149.8,53.3 1151.9,50.6 1153.9,49.8 1156,52.5 1158,50.5 1160.1,48.9 1162.1,50.7 1164.2,50.9 1166.2,51.7 1168.3,51.7 1170.3,52.5 1172.4,51.9 1174.4,50.6 1176.5,50 1178.5,49.1 1180.6,48.6 1182.6,49.6 1184.7,51.7 1186.7,50.4 1188.8,50 1190.8,50.8 1192.9,49.2 1194.9,50 1197,49.3 1199,49 1201.1,48.8 1203.1,54.9 1205.2,54 1207.2,52.4 1209.3,50.1 1211.3,48.5 1213.4,49.5 1215.4,49.6"/>
<polyline stroke="#0077bb" points="191.8,497 193.9,492.5 195.9,487.9 198,484.2 200,480.4 202.1,476.6 204.1,472.8 206.2,470.6 208.2,470 210.3,469.1 212.3,468.5 214.4,468.9 216.4,468.5 218.5,469.2 220.5,468.7 222.6,469.2 224.6,468.6 226.7,468.7 228.7,468.3 230.8,468.8 232.8,469 234.9,469 236.9,469.3 239,467.9 241,469.4 243.1,468.6 245.1,468.3 247.2,468.6 249.2,469.2 251.3,468.4 253.3,467.9 255.4,467.9 257.4,469.1 259.5,468.4 261.5,468.1 263.6,467.3 265.7,468.4 267.7,468.3 269.8,467.8 271.8,469.1 273.9,468.6 275.9,469.3 278,468.6 280,468.7 282.1,468.6 284.1,468 286.2,468 288.2,468.2 290.3,468.5 292.3,468.6 294.4,468.9 296.4,468.2 298.5,468.1 300.5,468.5 302.6,468.8 304.6,468.7 306.7,468 308.7,467.7 310.8,467.8 312.8,468.7 314.9,468.5 316.9,468.7 319,467.5 321,468 323.1,468.7 325.1,468 327.2,468.1 329.2,468.1 331.3,468 333.3,468.5 335.4,468.6 337.4,467.9 339.5,467.2 341.6,468.7 343.6,468.7 345.7,467.8 347.7,468.7 349.8,469.4 351.8,468.3 353.9,467.6 355.9,467.5 358,467.7 360,468.4 362.1,467.9 364.1,468.3 366.2,468.3 368.2,467.8 370.3,468.5 372.3,467.5 374.4,467.7 376.4,467.6 378.5,467.7 380.5,468.2 382.6,466.9 384.6,466.9 386.7,468 388.7,467.9 390.8,468.1 392.8,468 394.9,467.5 396.9,467.2 399,468.1 401,468.2 403.1,468.4 405.1,467.9 407.2,468 409.2,467.7 411.3,467.7 413.4,468.5 415.4,468.2 417.5,467.5 419.5,468.1 421.6,468.1 423.6,468.5 425.7,467.2 427.7,467.5 429.8,467.8 431.8,467.3 433.9,467 435.9,467 438,467.8 440,467.7 442.1,467.5 444.1,467.1 446.2,468.5 448.2,467.6 450.3,468.3 452.3,467 454.4,467.7 456.4,467.2 458.5,467.7 460.5,466.8 462.6,467.1 464.6,467.8 466.7,468.3 468.7,467.2 470.8,467.2 472.8,467.6 474.9,467.6 476.9,467.8 479,466.9 481,466.8 483.1,467.7 485.2,467.8 487.2,467.1 489.3,468.2 491.3,467.5 493.4,467.3 495.4,467.4 497.5,465.3 499.5,448.6 501.6,404.8 503.6,363.2 505.7,329.2 507.7,298.9 509.8,278.1 511.8,257.4 513.9,243.4 515.9,229.4 518,217.3 520,193.1 522.1,165.2 524.1,151.6 526.2,136.9 528.2,123.1 530.3,115.5 532.3,107 534.4,100.7 536.4,94.1 538.5,89.9 540.5,85.7 542.6,78.7 544.6,76.3 546.7,74.9 548.7,74.8 550.8,72.7 552.8,73.2 554.9,70 556.9,67.1 559,64.8 561.1,63.9 563.1,60 565.2,60.9 567.2,58.1 569.3,55.5 571.3,55.2 573.4,59.5 575.4,59.9 577.5,58.9 579.5,60 581.6,58.8 583.6,57.5 585.7,63.5 587.7,61 589.8,60 591.8,57.2 593.9,56.9 595.9,56.4 598,56.8 600,56.6 602.1,56.7 604.1,57.9 606.2,56.3 608.2,62.8 610.3,66 612.3,62.4 614.4,59.2 616.4,61.1 618.5,58.4 620.5,57.3 622.6,57.1 624.6,57.1 626.7,57.8 628.7,56.1 630.8,56.2 632.9,55.3 634.9,56.3 637,56.4 639,55.8 641.1,56.7 643.1,56.4 645.2,56.3 647.2,55.9 649.3,57.3 651.3,57.6 653.4,58 655.4,57 657.5,57.4 659.5,54.3 661.6,55.8 663.6,53.9 665.7,53.7 667.7,55.9 669.8,55.2 671.8,56.5 673.9,56.1 675.9,55.4 678,53.3 680,54.9 682.1,55.4 684.1,58.4 686.2,57.2 688.2,59.3 690.3,56.6 692.3,56.1 694.4,56 696.4,55.5 698.5,55.9 700.5,56.7 702.6,55.7 704.7,54.1 706.7,55.2 708.8,54.7 710.8,55.3 712.9,54.8 714.9,54.7 717,55.8 719,54.3 721.1,55.5 723.1,57.3 725.2,56.7 727.2,56.1 729.3,55.5 731.3,55.6 733.4,55.7 735.4,53.2 737.5,55.4 739.5,55.6 741.6,55.2 743.6,54.5 745.7,55.1 747.7,54.1 749.8,54.9 751.8,53.6 753.9,55.7 755.9,54.9 758,54.3 760,55.3 762.1,54.9 764.1,54.4 766.2,55 768.2,55 770.3,54.4 772.3,58.3 774.4,55.8 776.4,55.4 778.5,54.2 780.6,53.6 782.6,53.2 784.7,53.7 786.7,60.9 788.8,57 790.8,55.8 792.9,55.6 794.9,56.2 797,55.8 799,56.1 801.1,56.9 803.1,56.7 805.2,65.1 807.2,66.1 809.3,66.5 811.3,63.2 813.4,60 815.4,57 817.5,57.5 819.5,56.6 821.6,56.6 823.6,55.9 825.7,56.7 827.7,55.3 829.8,54.3 831.8,55.4 833.9,54.8 835.9,53.9 838,54.1 840,53.8 842.1,54.7 844.1,53.7 846.2,52.7 848.2,54.2 850.3,53.4 852.4,54.5 854.4,54 856.5,53.1 858.5,54.8 860.6,57.3 862.6,55.5 864.7,53.3 866.7,53 868.8,53.9 870.8,54.5 872.9,54.8 874.9,55.3 877,55.1 879,65 881.1,62.6 883.1,58.1 885.2,58.1 887.2,54.6 889.3,53.8 891.3,54.7 893.4,56.6 895.4,54.4 897.5,54.9 899.5,58.6 901.6,57.3 903.6,54.5 905.7,54.7 907.7,54 909.8,55.2 911.8,55.2 913.9,54.8 915.9,54 918,55 920,57.2 922.1,54.9 924.1,56 926.2,56.3 928.3,54.9 930.3,55.4 932.4,55.1 934.4,55.5 936.5,55.2 938.5,53.8 940.6,54.3 942.6,54.3 944.7,53.6 946.7,53 948.8,53.5 950.8,54.2 952.9,53.8 954.9,57.4 957,56.1 959,56.5 961.1,54.3 963.1,61.6 965.2,61.4 967.2,60.3 969.3,59.6 971.3,54.8 973.4,54.3 975.4,52.7 977.5,57.4 979.5,55.7 981.6,55.5 983.6,54.2 985.7,53.8 987.7,54.3 989.8,55.4 991.8,57.6 993.9,54.7 995.9,53.7 998,52.6 1000.1,53.6 1002.1,52.5 1004.2,51.3 1006.2,52.4 1008.3,53 1010.3,52.5 1012.4,52.2 1014.4,53.9 1016.5,53.8 1018.5,52.8 1020.6,54.1 1022.6,52.7 1024.7,53.2 1026.7,53.9 1028.8,52.3 1030.8,51.9 1032.9,53.1 1034.9,52.2 1037,52.4 1039,52.2 1041.1,50.8 1043.1,52.5 1045.2,53.1 1047.2,55.4 1049.3,54.7 1051.3,53 1053.4,52.5 1055.4,52.8 1057.5,52.6 1059.5,52.8 1061.6,54.4 1063.6,53.9 1065.7,53.6 1067.7,52 1069.8,55.2 1071.9,52.8 1073.9,51.9 1076,52 1078,66.6 1080.1,65.3 1082.1,58.1 1084.2,57.3 1086.2,55.1 1088.3,53.4 1090.3,53.8 1092.4,53.4 1094.4,52.7 1096.5,52.6 1098.5,51.4 1100.6,53.8 1102.6,55.5 1104.7,54.3 1106.7,52.2 1108.8,53 1110.8,51.7 1112.9,50.1 1114.9,56.4 1117,54.8 1119,55.6 1121.1,54.8 1123.1,54.5 1125.2,53 1127.2,53.8 1129.3,53.6 1131.3,53.8 1133.4,60.2 1135.4,55.9 1137.5,55 1139.5,54 1141.6,53.9 1143.6,52.6 1145.7,52.7 1147.8,52.5 1149.8,53 1151.9,54.1 1153.9,55 1156,54 1158,52.5 1160.1,53.5 1162.1,54.3 1164.2,54.1 1166.2,54 1168.3,54.3 1170.3,63.6 1172.4,64.7 1174.4,60.1 1176.5,56.8 1178.5,56.1 1180.6,54.2 1182.6,54.9 1184.7,53.6 1186.7,53.7 1188.8,52.5 1190.8,53.1 1192.9,54.4 1194.9,55.1 1197,53.1 1199,63.3 1201.1,64.7 1203.1,61.1 1205.2,55.9 1207.2,53.8 1209.3,52.8 1211.3,54.3 1213.4,52.3 1215.4,52"/>
<polyline stroke="#ff7043" points="191.8,506.8 193.9,495.5 195.9,476.6 198,499.3 200,506.8 202.1,500.8 204.1,489.5 206.2,479.6 208.2,473.6 210.3,470.9 212.3,470.7 214.4,470 216.4,469.1 218.5,469.9 220.5,467.8 222.6,468.8 224.6,468.4 226.7,468.7 228.7,468.3 230.8,468.8 232.8,468.3 234.9,468.3 236.9,468.3 239,468.8 241,468 243.1,468.5 245.1,468.4 247.2,468.3 249.2,468 251.3,469 253.3,468 255.4,468.3 257.4,468.9 259.5,467.8 261.5,468 263.6,468.4 265.7,468.8 267.7,468.6 269.8,468.7 271.8,467.6 273.9,468.7 275.9,468 278,469.4 280,468.2 282.1,467.7 284.1,468.3 286.2,469 288.2,468.4 290.3,468 292.3,468.3 294.4,468.3 296.4,468.2 298.5,468.2 300.5,468.6 302.6,467.9 304.6,467.7 306.7,467.7 308.7,468.5 310.8,468 312.8,467.3 314.9,468.5 316.9,467.7 319,468.2 321,467.5 323.1,467.9 325.1,467.4 327.2,467.4 329.2,467.9 331.3,467.6 333.3,467.9 335.4,467.4 337.4,467.9 339.5,468.3 341.6,468 343.6,467.1 345.7,467.5 347.7,467.7 349.8,468 351.8,468.4 353.9,467.6 355.9,467.6 358,468.3 360,467.7 362.1,467.1 364.1,467.6 366.2,467.6 368.2,467.4 370.3,467.4 372.3,467.2 374.4,467.8 376.4,467.5 378.5,468.2 380.5,468.1 382.6,467.5 384.6,467.6 386.7,467.8 388.7,467.9 390.8,467 392.8,467.4 394.9,468 396.9,448.6 399,397.2 401,344.3 403.1,291.4 405.1,238.5 407.2,196.9 409.2,170.4 411.3,151.5 413.4,136.4 415.4,119.8 417.5,102.4 419.5,88 421.6,82.5 423.6,77.2 425.7,71.1 427.7,69.2 429.8,66.6 431.8,62.3 433.9,59.7 435.9,57.6 438,57 440,57.5 442.1,57.5 444.1,65.1 446.2,64.5 448.2,63.1 450.3,61.3 452.3,60.1 454.4,57.7 456.4,57.7 458.5,59.2 460.5,59.1 462.6,60.8 464.6,66 466.7,63.3 468.7,60.8 470.8,58 472.8,58.8 474.9,57.5 476.9,63.4 479,65 481,61.5 483.1,59.1 485.2,61.2 487.2,61.1 489.3,59.1 491.3,59 493.4,59.2 495.4,58.1 497.5,58.1 499.5,56.9 501.6,58.9 503.6,57.4 505.7,56.9 507.7,57.2 509.8,57.9 511.8,58.7 513.9,58.2 515.9,57.6 518,58 520,57 522.1,58.1 524.1,59.8 526.2,59.5 528.2,58 530.3,58.3 532.3,55.2 534.4,58.6 536.4,56.3 538.5,56.2 540.5,55.7 542.6,58.2 544.6,58.3 546.7,59.9 548.7,58.8 550.8,58.4 552.8,58.1 554.9,59.7 556.9,62.2 559,60.1 561.1,57.4 563.1,57.2 565.2,58.2 567.2,57.5 569.3,56.9 571.3,59.6 573.4,61.5 575.4,58.8 577.5,58 579.5,59.2 581.6,62.6 583.6,61.6 585.7,58.4 587.7,58.6 589.8,58.9 591.8,59.7 593.9,56.8 595.9,57.2 598,56.4 600,57.6 602.1,56.5 604.1,57 606.2,58.3 608.2,58.6 610.3,57.9 612.3,57.1 614.4,56.6 616.4,59.7 618.5,58.5 620.5,59.3 622.6,58.1 624.6,57.8 626.7,57.7 628.7,58.1 630.8,57.3 632.9,57.3 634.9,58.6 637,57.3 639,56.7 641.1,56.9 643.1,56.9 645.2,57.7 647.2,58 649.3,57.8 651.3,64.9 653.4,64.3 655.4,61.2 657.5,58.4 659.5,58.9 661.6,57.2 663.6,59.7 665.7,58.9 667.7,57.2 669.8,57.6 671.8,58.7 673.9,57.2 675.9,57.7 678,57.3 680,57.5 682.1,57.8 684.1,57.7 686.2,60.2 688.2,60.9 690.3,56.5 692.3,58.4 694.4,58.1 696.4,66.3 698.5,71.5 700.5,69.1 702.6,64.5 704.7,62 706.7,61.6 708.8,62 710.8,60.3 712.9,59.1 714.9,56.7 717,56.9 719,57.8 721.1,58.6 723.1,57.3 725.2,57.7 727.2,56.2 729.3,58.7 731.3,57.9 733.4,57.8 735.4,57.4 737.5,56.4 739.5,58 741.6,57.9 743.6,58.2 745.7,58.3 747.7,56.3 749.8,57.3 751.8,57.2 753.9,56.2 755.9,57.3 758,56.2 760,57.4 762.1,57 764.1,57.8 766.2,57.8 768.2,56 770.3,57.1 772.3,57.3 774.4,56.2 776.4,56.8 778.5,56.8 780.6,58.5 782.6,57 784.7,55.3 786.7,58.9 788.8,63.9 790.8,61 792.9,62 794.9,59.9 797,60 799,58.3 801.1,56.9 803.1,66.6 805.2,69.6 807.2,64.3 809.3,69.2 811.3,73.7 813.4,78.8 815.4,75.1 817.5,65.5 819.5,67 821.6,64.2 823.6,63.3 825.7,62.2 827.7,65 829.8,60.9 831.8,57.3 833.9,57.5 835.9,61.7 838,60.9 840,64.8 842.1,68 844.1,65.3 846.2,65.4 848.2,63 850.3,60.7 852.4,57.2 854.4,58 856.5,58.5 858.5,57.6 860.6,59.7 862.6,59.4 864.7,57.5 866.7,57 868.8,62.9 870.8,63 872.9,63 874.9,60 877,59.1 879,58.6 881.1,58.9 883.1,57.6 885.2,55.4 887.2,56.1 889.3,56.4 891.3,57.2 893.4,56.7 895.4,62.6 897.5,59.4 899.5,60.8 901.6,59.2 903.6,58.7 905.7,57.8 907.7,57.6 909.8,57.4 911.8,57.5 913.9,57.7 915.9,58.4 918,57.5 920,56.7 922.1,57.1 924.1,57.1 926.2,56.1 928.3,57.5 930.3,57.3 932.4,54.8 934.4,56.2 936.5,55.1 938.5,56.6 940.6,56.3 942.6,57.8 944.7,57 946.7,56.3 948.8,55.9 950.8,54.8 952.9,55.9 954.9,60.4 957,59 959,57.7 961.1,58.2 963.1,57.6 965.2,58.1 967.2,57.2 969.3,57.8 971.3,56.5 973.4,56.4 975.4,57 977.5,56.8 979.5,58 981.6,57 983.6,57.3 985.7,57.4 987.7,59.3 989.8,57.6 991.8,57.6 993.9,57.8 995.9,56.5 998,57.7 1000.1,59.8 1002.1,60.4 1004.2,58.7 1006.2,56.6 1008.3,57.4 1010.3,63.1 1012.4,77.7 1014.4,72.6 1016.5,65.9 1018.5,68.1 1020.6,63.2 1022.6,65.6 1024.7,68.3 1026.7,68.6 1028.8,64.7 1030.8,63.8 1032.9,63.2 1034.9,63.7 1037,61.5 1039,63.5 1041.1,62.1 1043.1,60.2 1045.2,57.5 1047.2,56.8 1049.3,58.6 1051.3,57.6 1053.4,59.8 1055.4,59 1057.5,58.7 1059.5,57.7 1061.6,59.1 1063.6,60.1 1065.7,59.6 1067.7,58.5 1069.8,56.9 1071.9,55.6 1073.9,56.6 1076,55.7 1078,56.4 1080.1,57.5 1082.1,55.5 1084.2,55.9 1086.2,56.6 1088.3,57.8 1090.3,59.2 1092.4,57.3 1094.4,56.5 1096.5,63.5 1098.5,67.1 1100.6,64.6 1102.6,66.8 1104.7,63.1 1106.7,67.2 1108.8,72.1 1110.8,66.5 1112.9,64.6 1114.9,62.3 1117,61.3 1119,60.8 1121.1,59 1123.1,59.4 1125.2,59.2 1127.2,64.3 1129.3,71 1131.3,68.6 1133.4,63.6 1135.4,62.1 1137.5,61.5 1139.5,58.2 1141.6,58.6 1143.6,59.2 1145.7,57.6 1147.8,58.8 1149.8,57.8 1151.9,58.7 1153.9,70.7 1156,139.6 1158,248.4 1160.1,313 1162.1,352 1164.2,368.3 1166.2,377.3 1168.3,386.7 1170.3,402 1172.4,388.5 1174.4,382.5 1176.5,382.3 1178.5,380.1 1180.6,378.8 1182.6,378.6 1184.7,384.2 1186.7,390.5 1188.8,283.5 1190.8,234.2 1192.9,211.3 1194.9,195 1197,183.5 1199,176.7 1201.1,167.8 1203.1,163.6 1205.2,161.2 1207.2,158.9 1209.3,156.9 1211.3,156.2 1213.4,156.1 1215.4,153.8"/>
<polyline stroke="#ff7043" points="191.8,510.6 193.9,503.1 195.9,499.3 198,472.8 200,495.5 202.1,504.6 204.1,497 206.2,483.4 208.2,475.8 210.3,470.7 212.3,470.7 214.4,469.3 216.4,470.1 218.5,468.8 220.5,468.1 222.6,468 224.6,469.2 226.7,468.9 228.7,468.8 230.8,469.9 232.8,467.9 234.9,468.3 236.9,468.4 239,468.1 241,468.8 243.1,468.5 245.1,468.2 247.2,468.2 249.2,468.8 251.3,469.1 253.3,468.3 255.4,468.3 257.4,469 259.5,468 261.5,468.2 263.6,468.3 265.7,468.4 267.7,468.2 269.8,467.8 271.8,468.6 273.9,467.7 275.9,468.3 278,468.2 280,467.7 282.1,468.3 284.1,468.2 286.2,468.6 288.2,468.3 290.3,468.3 292.3,468.6 294.4,468.6 296.4,467.9 298.5,467.8 300.5,468.7 302.6,468.5 304.6,467.9 306.7,467.7 308.7,468.7 310.8,468.4 312.8,467.7 314.9,467.3 316.9,467.7 319,468.7 321,467.6 323.1,468.2 325.1,468.3 327.2,467.9 329.2,468.5 331.3,468.4 333.3,469.4 335.4,467.5 337.4,467.9 339.5,468.2 341.6,468 343.6,468 345.7,468.2 347.7,468.3 349.8,468.1 351.8,469.1 353.9,468.7 355.9,468.1 358,467.3 360,467.7 362.1,467.5 364.1,467.6 366.2,468 368.2,467.7 370.3,467.9 372.3,468.1 374.4,467.9 376.4,467.6 378.5,468 380.5,468.1 382.6,467.7 384.6,467.8 386.7,467.7 388.7,467.2 390.8,467.7 392.8,467.7 394.9,468 396.9,468.2 399,467.4 401,467.4 403.1,467.4 405.1,467.4 407.2,467.9 409.2,467.4 411.3,467.5 413.4,467.3 415.4,467.8 417.5,467.1 419.5,467.1 421.6,468 423.6,467.6 425.7,467.5 427.7,467.3 429.8,466.9 431.8,468.2 433.9,467 435.9,467.2 438,467.7 440,467.7 442.1,467.2 444.1,467.5 446.2,467.6 448.2,467.6 450.3,466.5 452.3,468.2 454.4,466.5 456.4,468.1 458.5,465.3 460.5,412.3 462.6,350.3 464.6,276.3 466.7,212 468.7,168.9 470.8,144 472.8,128.8 474.9,116 476.9,108.4 479,102 481,95.6 483.1,89.3 485.2,84.2 487.2,79.3 489.3,74.7 491.3,71.3 493.4,67.1 495.4,64.7 497.5,62.7 499.5,61.2 501.6,62.9 503.6,60.6 505.7,58.5 507.7,57.2 509.8,56.7 511.8,55.2 513.9,54.1 515.9,53.7 518,53.5 520,53.8 522.1,54.3 524.1,54.4 526.2,54.5 528.2,57 530.3,59.9 532.3,56.6 534.4,54.2 536.4,53.3 538.5,52.4 540.5,52.5 542.6,51.7 544.6,51.9 546.7,51.7 548.7,50.6 550.8,50.4 552.8,50.5 554.9,49.9 556.9,50.2 559,49.7 561.1,49.9 563.1,49.2 565.2,49.3 567.2,49.3 569.3,49.2 571.3,49.1 573.4,49.1 575.4,49.6 577.5,50.4 579.5,49.7 581.6,49.3 583.6,48.8 585.7,48.4 587.7,48.1 589.8,48.6 591.8,49.1 593.9,48.9 595.9,48.9 598,49.1 600,49.2 602.1,48.6 604.1,49.3 606.2,48.8 608.2,49 610.3,49.4 612.3,52 614.4,51.1 616.4,52 618.5,52.5 620.5,50.6 622.6,49.7 624.6,49.9 626.7,49.7 628.7,49.9 630.8,50.2 632.9,49.9 634.9,49.2 637,47.7 639,49.1 641.1,49.3 643.1,49.3 645.2,51 647.2,50.5 649.3,49.8 651.3,49.7 653.4,49.1 655.4,49.6 657.5,49.3 659.5,49.3 661.6,49.1 663.6,48.4 665.7,48.8 667.7,48.6 669.8,48.7 671.8,48.4 673.9,53.4 675.9,51.5 678,49.7 680,49.6 682.1,48.1 684.1,49 686.2,48.7 688.2,48.1 690.3,47.4 692.3,47.8 694.4,50.3 696.4,49.2 698.5,49.7 700.5,50.9 702.6,49.7 704.7,49 706.7,48 708.8,47.9 710.8,48.1 712.9,48.6 714.9,48.6 717,48.8 719,47.8 721.1,47.2 723.1,48.1 725.2,47.9 727.2,47.3 729.3,49.9 731.3,49.4 733.4,49.5 735.4,48.9 737.5,48.3 739.5,47.8 741.6,47.6 743.6,51.8 745.7,56.7 747.7,52.4 749.8,50.3 751.8,49.2 753.9,49.3 755.9,48.3 758,47.8 760,46.9 762.1,47.9 764.1,47.8 766.2,48.6 768.2,47.9 770.3,47.2 772.3,47.9 774.4,47.4 776.4,47.6 778.5,47.2 780.6,47.2 782.6,48.6 784.7,48.9 786.7,48.5 788.8,47.7 790.8,47.1 792.9,47.5 794.9,47.1 797,46.3 799,47.3 801.1,47.2 803.1,47.1 805.2,47.6 807.2,47.7 809.3,46.4 811.3,46.6 813.4,46.4 815.4,47.3 817.5,46.9 819.5,49.9 821.6,48.4 823.6,48.6 825.7,49 827.7,47.6 829.8,46.6 831.8,46.7 833.9,46.4 835.9,47.5 838,46.6 840,46.3 842.1,47.3 844.1,50.2 846.2,48.1 848.2,46.6 850.3,46.7 852.4,46.9 854.4,47.5 856.5,47.4 858.5,47.5 860.6,47 862.6,51 864.7,48.5 866.7,48.4 868.8,47.8 870.8,47.7 872.9,47.3 874.9,48.6 877,48.4 879,47.7 881.1,46.8 883.1,47.5 885.2,47.2 887.2,46 889.3,47 891.3,45.8 893.4,45.8 895.4,45.6 897.5,46 899.5,46.2 901.6,46.7 903.6,46.5 905.7,46.3 907.7,47.3 909.8,46.5 911.8,45.6 913.9,46 915.9,47.1 918,46 920,46.7 922.1,47.1 924.1,47.6 926.2,46.1 928.3,47 930.3,46.5 932.4,46.9 934.4,47.3 936.5,46.8 938.5,46.3 940.6,46 942.6,45.4 944.7,45.7 946.7,45.9 948.8,46.5 950.8,45.7 952.9,45.7 954.9,45.6 957,44.9 959,44.5 961.1,44.1 963.1,46 965.2,46.3 967.2,46.5 969.3,46.3 971.3,47.6 973.4,50.1 975.4,49.1 977.5,47 979.5,45.9 981.6,46 983.6,50.8 985.7,48.3 987.7,47.1 989.8,49.2 991.8,50.1 993.9,50.1 995.9,47 998,46.9 1000.1,46.3 1002.1,45.3 1004.2,46.1 1006.2,49.5 1008.3,53.1 1010.3,51.9 1012.4,49.6 1014.4,49 1016.5,47.3 1018.5,46.5 1020.6,46.1 1022.6,48.7 1024.7,51.7 1026.7,47.9 1028.8,47.6 1030.8,47.4 1032.9,45.9 1034.9,45 1037,45.2 1039,45.8 1041.1,45.5 1043.1,45.6 1045.2,45 1047.2,47.4 1049.3,46.4 1051.3,45.9 1053.4,45.7 1055.4,44.6 1057.5,44.9 1059.5,45.6 1061.6,45.2 1063.6,45.1 1065.7,45.3 1067.7,44.8 1069.8,46 1071.9,46.3 1073.9,45.4 1076,44.8 1078,45 1080.1,44.3 1082.1,44.7 1084.2,43.8 1086.2,44.8 1088.3,45.9 1090.3,45.6 1092.4,45.3 1094.4,45.2 1096.5,45.2 1098.5,44.9 1100.6,45.4 1102.6,45 1104.7,44.9 1106.7,44.9 1108.8,44.5 1110.8,45.1 1112.9,44.7 1114.9,45.5 1117,45 1119,45.2 1121.1,45 1123.1,44.4 1125.2,44.1 1127.2,44.2 1129.3,44.4 1131.3,46 1133.4,45.3 1135.4,45.4 1137.5,45.6 1139.5,44.9 1141.6,44.7 1143.6,44.6 1145.7,48.2 1147.8,49.4 1149.8,47.3 1151.9,46.7 1153.9,45.6 1156,44.8 1158,45 1160.1,44.8 1162.1,45.7 1164.2,46 1166.2,47.4 1168.3,46.2 1170.3,45.4 1172.4,44.8 1174.4,43.4 1176.5,44.5 1178.5,44 1180.6,44.8 1182.6,45.4 1184.7,45.3 1186.7,44.9 1188.8,43.9 1190.8,43.4 1192.9,44.1 1194.9,44.2 1197,43.8 1199,44.1 1201.1,43 1203.1,44.2 1205.2,44.5 1207.2,43.7 1209.3,44.4 1211.3,44.3 1213.4,44.6 1215.4,44.1"/>
</g>
</g>
<circle cx="635.6" cy="59.0" r="5.3" fill="#cc3311"/>
<circle cx="634.9" cy="46.0" r="5.4" fill="#ee3377"/>
<circle cx="634.9" cy="48.6" r="5.4" fill="#ff7043"/>
<circle cx="634.9" cy="51.6" r="5.2" fill="#0077bb"/>
<circle cx="634.9" cy="55.2" r="5.7" fill="#ff7043"/>
<circle cx="224.1" cy="22.7" r="12.8" fill="#d27217"/>
<circle cx="224.1" cy="60" r="12.8" fill="#428fc9"/>
<text class="lg" x="245.7" y="31">Train</text>
<text class="lg" style="letter-spacing:.42px" x="245.7" y="70.8">Validation</text>
<text class="ti" style="font-size:29px" transform="translate(26.3,288.4) rotate(-90)">Accuracy</text>
<text class="ti" x="716" y="552.2">Epochs</text>
<line x1="92" x2="1320.3" y1="1000.2" y2="1000.2" stroke="#000" stroke-opacity="0.19" stroke-width="1.7"/>
<line x1="92" x2="1320.3" y1="938.4" y2="938.4" stroke="#000" stroke-opacity="0.19" stroke-width="1.7"/>
<line x1="92" x2="1320.3" y1="876.5" y2="876.5" stroke="#000" stroke-opacity="0.19" stroke-width="1.7"/>
<line x1="92" x2="1320.3" y1="814.7" y2="814.7" stroke="#000" stroke-opacity="0.19" stroke-width="1.7"/>
<line x1="92" x2="1320.3" y1="752.8" y2="752.8" stroke="#000" stroke-opacity="0.19" stroke-width="1.7"/>
<line x1="92" x2="1320.3" y1="691" y2="691" stroke="#000" stroke-opacity="0.19" stroke-width="1.7"/>
<line x1="92" x2="1320.3" y1="629.1" y2="629.1" stroke="#000" stroke-opacity="0.19" stroke-width="1.7"/>
<line x1="92" x2="1320.3" y1="567.2" y2="567.2" stroke="#000" stroke-opacity="0.14" stroke-width="1.2"/>
<line x1="296.8" x2="296.8" y1="567.2" y2="1062" stroke="#000" stroke-opacity="0.19" stroke-width="1.7"/>
<line x1="399.1" x2="399.1" y1="567.2" y2="1062" stroke="#000" stroke-opacity="0.19" stroke-width="1.7"/>
<line x1="501.5" x2="501.5" y1="567.2" y2="1062" stroke="#000" stroke-opacity="0.19" stroke-width="1.7"/>
<line x1="603.8" x2="603.8" y1="567.2" y2="1062" stroke="#000" stroke-opacity="0.19" stroke-width="1.7"/>
<line x1="706.2" x2="706.2" y1="567.2" y2="1062" stroke="#000" stroke-opacity="0.19" stroke-width="1.7"/>
<line x1="808.5" x2="808.5" y1="567.2" y2="1062" stroke="#000" stroke-opacity="0.19" stroke-width="1.7"/>
<line x1="910.9" x2="910.9" y1="567.2" y2="1062" stroke="#000" stroke-opacity="0.19" stroke-width="1.7"/>
<line x1="1013.2" x2="1013.2" y1="567.2" y2="1062" stroke="#000" stroke-opacity="0.19" stroke-width="1.7"/>
<line x1="1115.6" x2="1115.6" y1="567.2" y2="1062" stroke="#000" stroke-opacity="0.19" stroke-width="1.7"/>
<line x1="1218" x2="1218" y1="567.2" y2="1062" stroke="#000" stroke-opacity="0.19" stroke-width="1.7"/>
<line x1="1320.3" x2="1320.3" y1="567.2" y2="1068" stroke="#000" stroke-opacity="0.12" stroke-width="1"/>
<line x1="92" x2="92" y1="567.2" y2="1068.3" stroke="#cecece" stroke-width="2.1"/>
<line x1="84.5" x2="1320.3" y1="1062" y2="1062" stroke="#cecece" stroke-width="2.1"/>
<line x1="84.5" x2="92" y1="1062" y2="1062" stroke="#cfcfcf" stroke-width="1.6"/>
<line x1="84.5" x2="92" y1="1000.2" y2="1000.2" stroke="#cfcfcf" stroke-width="1.6"/>
<line x1="84.5" x2="92" y1="938.4" y2="938.4" stroke="#cfcfcf" stroke-width="1.6"/>
<line x1="84.5" x2="92" y1="876.5" y2="876.5" stroke="#cfcfcf" stroke-width="1.6"/>
<line x1="84.5" x2="92" y1="814.7" y2="814.7" stroke="#cfcfcf" stroke-width="1.6"/>
<line x1="84.5" x2="92" y1="752.8" y2="752.8" stroke="#cfcfcf" stroke-width="1.6"/>
<line x1="84.5" x2="92" y1="691" y2="691" stroke="#cfcfcf" stroke-width="1.6"/>
<line x1="84.5" x2="92" y1="629.1" y2="629.1" stroke="#cfcfcf" stroke-width="1.6"/>
<line x1="194.4" x2="194.4" y1="1062" y2="1068.3" stroke="#cfcfcf" stroke-width="1.6"/>
<line x1="296.8" x2="296.8" y1="1062" y2="1068.3" stroke="#cfcfcf" stroke-width="1.6"/>
<line x1="399.1" x2="399.1" y1="1062" y2="1068.3" stroke="#cfcfcf" stroke-width="1.6"/>
<line x1="501.5" x2="501.5" y1="1062" y2="1068.3" stroke="#cfcfcf" stroke-width="1.6"/>
<line x1="603.8" x2="603.8" y1="1062" y2="1068.3" stroke="#cfcfcf" stroke-width="1.6"/>
<line x1="706.2" x2="706.2" y1="1062" y2="1068.3" stroke="#cfcfcf" stroke-width="1.6"/>
<line x1="808.5" x2="808.5" y1="1062" y2="1068.3" stroke="#cfcfcf" stroke-width="1.6"/>
<line x1="910.9" x2="910.9" y1="1062" y2="1068.3" stroke="#cfcfcf" stroke-width="1.6"/>
<line x1="1013.2" x2="1013.2" y1="1062" y2="1068.3" stroke="#cfcfcf" stroke-width="1.6"/>
<line x1="1115.6" x2="1115.6" y1="1062" y2="1068.3" stroke="#cfcfcf" stroke-width="1.6"/>
<line x1="1218" x2="1218" y1="1062" y2="1068.3" stroke="#cfcfcf" stroke-width="1.6"/>
<line x1="194.4" x2="194.4" y1="567.2" y2="1062" stroke="#8a8a8a" stroke-width="2"/>
<line x1="92" x2="1320.3" y1="1000.2" y2="1000.2" stroke="#8a8a8a" stroke-width="2"/>
<g class="tk" text-anchor="end">
<text x="77.4" y="1005.4">0</text>
<text x="77.4" y="943.6">0.2</text>
<text x="77.4" y="881.7">0.4</text>
<text x="77.4" y="819.9">0.6</text>
<text x="77.4" y="758">0.8</text>
<text x="77.4" y="696.2">1</text>
<text x="77.4" y="634.3">1.2</text>
</g>
<g class="tk" text-anchor="middle">
<text x="195" y="1087.2">0</text>
<text x="297.4" y="1087.2">50</text>
<text x="399.7" y="1087.2">100</text>
<text x="502.1" y="1087.2">150</text>
<text x="604.4" y="1087.2">200</text>
<text x="706.8" y="1087.2">250</text>
<text x="809.1" y="1087.2">300</text>
<text x="911.5" y="1087.2">350</text>
<text x="1013.8" y="1087.2">400</text>
<text x="1116.2" y="1087.2">450</text>
<text x="1218.5" y="1087.2">500</text>
</g>
<g clip-path="url(#cb)" fill="none" stroke-linejoin="round" stroke-linecap="round">
<g stroke-width="2.4" stroke-opacity="0.22">
<polyline stroke="#bbbbbb" points="194.4,598.2 196.4,610.6 198.5,614.5 200.5,617 202.6,613.5 204.6,614.6 206.7,615.9 208.7,613.1 210.8,614.7 212.8,614.4 214.9,614.7 216.9,612.9 219,614.3 221,613.9 223.1,615.9 225.1,615.7 227.2,616.2 229.2,615 231.2,618.4 233.3,612.1 235.3,615.4 237.4,615.4 239.4,614.4 241.5,616.3 243.5,615.2 245.6,614.7 247.6,617.9 249.7,613 251.7,616.1 253.8,615.2 255.8,617.5 257.9,616.4 259.9,613.5 262,617.2 264,616.5 266,615.3 268.1,614.5 270.1,619.9 272.2,613.7 274.2,616.3 276.3,615.5 278.3,618.1 280.4,615.8 282.4,614.5 284.5,617.4 286.5,617.6 288.6,617.1 290.6,617.2 292.7,615.5 294.7,616.9 296.8,617.7 298.8,615.8 300.8,618.7 302.9,618.6 304.9,613.4 307,618.8 309,615.2 311.1,618.1 313.1,617.8 315.2,616.7 317.2,618.8 319.3,618.4 321.3,617.5 323.4,618 325.4,616.6 327.5,615.5 329.5,620.1 331.6,618.8 333.6,616.6 335.6,617.5 337.7,616.9 339.7,619.5 341.8,617.3 343.8,618.5 345.9,620.4 347.9,617.1 350,620.4 352,617.1 354.1,619.1 356.1,618.6 358.2,615.7 360.2,617.5 362.3,619 364.3,618.7 366.4,620.1 368.4,617.1 370.5,618.5 372.5,620.4 374.5,620.9 376.6,618.4 378.6,619.2 380.7,618 382.7,620.9 384.8,620.1 386.8,618.4 388.9,619.3 390.9,618.3 393,618.5 395,620.5 397.1,643.6 399.1,721.9 401.2,774.4 403.2,817.7 405.3,857.2 407.3,891.2 409.3,918.2 411.4,940.7 413.4,950.7 415.5,960.8 417.5,988 419.6,957.6 421.6,974 423.7,970.7 425.7,992.3 427.8,970.8 429.8,975.3 431.9,981.8 433.9,977.2 436,979.7 438,976.5 440.1,975.2 442.1,977.8 444.1,979.2 446.2,983 448.2,983 450.3,981.2 452.3,982.7 454.4,986.6 456.4,981 458.5,980.8 460.5,986.8 462.6,987.8 464.6,980.9 466.7,987.8 468.7,989.1 470.8,983.9 472.8,950.7 474.9,982.8 476.9,987.7 478.9,985.5 481,983.2 483,984.4 485.1,988.3 487.1,993.3 489.2,985.3 491.2,988.9 493.3,982.4 495.3,982.9 497.4,986.8 499.4,986.1 501.5,986.2 503.5,978.9 505.6,988.9 507.6,984.2 509.7,988.9 511.7,990.2 513.7,985.7 515.8,982.5 517.8,989.5 519.9,992.3 521.9,982 524,954.8 526,986.4 528.1,989.5 530.1,985.9 532.2,983.7 534.2,991.2 536.3,985.5 538.3,987.5 540.4,990.6 542.4,986.6 544.5,986.4 546.5,990.8 548.5,984.3 550.6,992 552.6,984.2 554.7,987.6 556.7,988.4 558.8,990.7 560.8,989.6 562.9,990.6 564.9,982 567,988.3 569,986.9 571.1,986.6 573.1,989.3 575.2,990 577.2,986.1 579.3,989.7 581.3,989.1 583.3,991.8 585.4,985.3 587.4,991.4 589.5,984 591.5,992.9 593.6,989.8 595.6,988.5 597.7,990.9 599.7,992.1 601.8,990.5 603.8,990 605.9,988.8 607.9,986.6 610,988.6 612,987.9 614.1,987.8 616.1,995.1 618.1,988.8 620.2,989.5 622.2,990.9 624.3,986.9 626.3,990.9 628.4,991.2 630.4,985.9 632.5,991.2 634.5,989.2 636.6,992.3 638.6,985.4 640.7,989.5 642.7,985.8 644.8,985.2 646.8,989.8 648.9,990.9 650.9,990.7 653,984.3 655,990.8 657,987.5 659.1,988.9 661.1,997.3 663.2,985.4 665.2,988 667.3,988.4 669.3,962.2 671.4,969.2 673.4,991.4 675.5,986.4 677.5,990.4 679.6,987.9 681.6,984.8 683.7,989.8 685.7,991.7 687.8,986.9 689.8,992.4 691.8,971.3 693.9,985.1 695.9,992.6 698,988.2 700,990.4 702.1,987.2 704.1,987.7 706.2,988.4 708.2,989.5 710.3,993 712.3,988.8 714.4,988.3 716.4,985.8 718.5,994.1 720.5,983.9 722.6,991 724.6,992 726.6,983 728.7,988.6 730.7,991.3 732.8,983.6 734.8,986.9 736.9,982 738.9,983.8 741,991.4 743,985.6 745.1,990.4 747.1,991.8 749.2,988.1 751.2,978.7 753.3,987.2 755.3,992.4 757.4,989 759.4,986 761.4,989.2 763.5,989.1 765.5,986.4 767.6,991.8 769.6,981.7 771.7,991.7 773.7,986.7 775.8,988.8 777.8,985.4 779.9,990.1 781.9,989.7 784,986.5 786,986.5 788.1,989 790.1,982.6 792.2,988.1 794.2,985.5 796.2,984 798.3,983.3 800.3,989.7 802.4,983.7 804.4,990.5 806.5,977.9 808.5,968.9 810.6,986.9 812.6,985.1 814.7,987.7 816.7,982 818.8,983.8 820.8,989.7 822.9,987.6 824.9,989.6 827,988.4 829,985.4 831,991 833.1,986.8 835.1,989 837.2,988.2 839.2,990.6 841.3,983.4 843.3,992.9 845.4,966.4 847.4,949.9 849.5,986.9 851.5,989.7 853.6,991.2 855.6,987.2 857.7,989.5 859.7,978.6 861.8,982.7 863.8,955.9 865.8,970.6 867.9,986.5 869.9,989.2 872,988.5 874,984.6 876.1,989.4 878.1,992.3 880.2,987 882.2,986.1 884.3,989.1 886.3,989 888.4,986.7 890.4,972.2 892.5,987 894.5,986.2 896.6,990.1 898.6,991.4 900.6,967.3 902.7,987.8 904.7,990.4 906.8,990.8 908.8,986.2 910.9,987 912.9,986.7 915,987.5 917,989.5 919.1,980.3 921.1,991.2 923.2,988.1 925.2,988 927.3,984.4 929.3,992.2 931.4,981.9 933.4,987.2 935.5,990.4 937.5,989.1 939.5,986.6 941.6,986.9 943.6,986.5 945.7,993.1 947.7,987.1 949.8,985.9 951.8,985.9 953.9,987.7 955.9,988.7 958,987.1 960,989.5 962.1,983 964.1,987.2 966.2,988.1 968.2,989.9 970.3,987.5 972.3,986.7 974.3,988 976.4,983.8 978.4,984.3 980.5,987.8 982.5,992.3 984.6,985.2 986.6,989.7 988.7,987.4 990.7,982.8 992.8,994.2 994.8,989.9 996.9,987.8 998.9,984.9 1001,989.5 1003,992.6 1005.1,984.8 1007.1,986.1 1009.1,985.3 1011.2,989 1013.2,985.4 1015.3,990.5 1017.3,965.9 1019.4,985.6 1021.4,989.9 1023.5,985.4 1025.5,984.3 1027.6,990.9 1029.6,989.6 1031.7,986.7 1033.7,986.2 1035.8,986 1037.8,990.1 1039.9,986.2 1041.9,990.5 1043.9,989.9 1046,967.9 1048,991.9 1050.1,991.4 1052.1,985.4 1054.2,989.7 1056.2,985.2 1058.3,994.8 1060.3,988.3 1062.4,983.5 1064.4,987.9 1066.5,990.6 1068.5,983.2 1070.6,986.6 1072.6,990 1074.7,984.8 1076.7,987.4 1078.7,991.9 1080.8,988.7 1082.8,986.4 1084.9,990.5 1086.9,990.8 1089,987.3 1091,985.1 1093.1,988.1 1095.1,976.3 1097.2,993.1 1099.2,983.2 1101.3,988.7 1103.3,985.6 1105.4,988.9 1107.4,989.2 1109.5,986.8 1111.5,989.9 1113.5,988.5 1115.6,989.5 1117.6,992.4 1119.7,982.8 1121.7,985.7 1123.8,990.6 1125.8,988.6 1127.9,975.5 1129.9,988.7 1132,989.9 1134,990.8 1136.1,982.2 1138.1,986.1 1140.2,991.6 1142.2,985.6 1144.3,990.9 1146.3,987.9 1148.3,984.6 1150.4,989.6 1152.4,986 1154.5,973 1156.5,546.9 1158.6,517.8 1160.6,578.6 1162.7,583.3 1164.7,652.4 1166.8,667.2 1168.8,685 1170.9,721.3 1172.9,737.9 1175,756.8 1177,788.7 1179.1,799.9 1181.1,808.5 1183.1,789.6 1185.2,811.7 1187.2,776.1 1189.3,765.5 1191.3,840.1 1193.4,812.9 1195.4,846.2 1197.5,841.2 1199.5,835.5 1201.6,855.6 1203.6,863.5 1205.7,874.3 1207.7,879.1 1209.8,873.1 1211.8,876.6 1213.9,883.1 1215.9,895.1"/>
<polyline stroke="#009988" points="194.4,595.1 196.4,611.2 198.5,612.1 200.5,610.9 202.6,609.3 204.6,609.9 206.7,611.1 208.7,607.6 210.8,612.8 212.8,609.8 214.9,609.1 216.9,609.8 219,609.9 221,611.9 223.1,607.8 225.1,611.9 227.2,610.4 229.2,610.4 231.2,610.5 233.3,611.1 235.3,608.4 237.4,611 239.4,609.5 241.5,612.9 243.5,609.4 245.6,611 247.6,610.1 249.7,610.6 251.7,610.3 253.8,611.1 255.8,610.7 257.9,610.7 259.9,610.6 262,610.9 264,611.4 266,610.3 268.1,612.1 270.1,608.2 272.2,610.6 274.2,609.7 276.3,611.9 278.3,612.8 280.4,612.5 282.4,611.4 284.5,611.4 286.5,611.3 288.6,611.8 290.6,610.8 292.7,614.9 294.7,609.2 296.8,613 298.8,612.2 300.8,614.8 302.9,611.8 304.9,614.5 307,611.9 309,612.9 311.1,613.3 313.1,613.9 315.2,614 317.2,614.2 319.3,612.6 321.3,614.1 323.4,613.8 325.4,611.3 327.5,615 329.5,615.7 331.6,616.8 333.6,616.5 335.6,613.2 337.7,613.2 339.7,616.1 341.8,615.8 343.8,614.5 345.9,614.5 347.9,613.8 350,615.5 352,616 354.1,614.2 356.1,616.6 358.2,616.9 360.2,616.2 362.3,615.4 364.3,615.9 366.4,615.5 368.4,615.7 370.5,613 372.5,616.3 374.5,619.1 376.6,617.2 378.6,615.3 380.7,617.1 382.7,613.4 384.8,617.7 386.8,617 388.9,616.3 390.9,617 393,616 395,617.3 397.1,666.1 399.1,732.4 401.2,783.1 403.2,825.6 405.3,864 407.3,896.6 409.3,922.7 411.4,942.7 413.4,952.7 415.5,961.5 417.5,961.8 419.6,976.4 421.6,993 423.7,960.8 425.7,962.7 427.8,988.9 429.8,979.5 431.9,973.1 433.9,985 436,978.2 438,981.4 440.1,977.1 442.1,982.9 444.1,972 446.2,985.8 448.2,984.6 450.3,988.9 452.3,979 454.4,985.8 456.4,977.3 458.5,967.2 460.5,955.5 462.6,990.2 464.6,980.5 466.7,976.8 468.7,992.6 470.8,975 472.8,973.3 474.9,984.4 476.9,982 478.9,975.3 481,981.9 483,980.8 485.1,977.9 487.1,986.6 489.2,971.1 491.2,986.2 493.3,981.3 495.3,983.1 497.4,992.6 499.4,984 501.5,979.1 503.5,980 505.6,975.9 507.6,971.4 509.7,983.6 511.7,984.5 513.7,984.9 515.8,974.2 517.8,986.9 519.9,975.8 521.9,966.6 524,984.9 526,976.6 528.1,981 530.1,989.5 532.2,906.4 534.2,963.2 536.3,980.6 538.3,984.4 540.4,991.3 542.4,981.7 544.5,976.6 546.5,986.6 548.5,985 550.6,978.1 552.6,980.4 554.7,982.7 556.7,980.4 558.8,980.1 560.8,981.9 562.9,982.2 564.9,975.4 567,990.8 569,967.3 571.1,978.1 573.1,987 575.2,978.6 577.2,979.3 579.3,989.9 581.3,980.4 583.3,979.2 585.4,946.2 587.4,984.4 589.5,987.9 591.5,981.6 593.6,973.3 595.6,990.6 597.7,969.4 599.7,988.3 601.8,984.4 603.8,985.5 605.9,981.5 607.9,982.3 610,987.8 612,972.8 614.1,981.1 616.1,984.1 618.1,989.6 620.2,982.6 622.2,982.7 624.3,979.1 626.3,984.7 628.4,987.8 630.4,979.8 632.5,979.7 634.5,982.4 636.6,979.1 638.6,987.4 640.7,988.4 642.7,975 644.8,980.1 646.8,989.9 648.9,962.2 650.9,985.9 653,977.9 655,981.5 657,989.8 659.1,985 661.1,981.1 663.2,987.9 665.2,985.2 667.3,983.9 669.3,981.4 671.4,960.6 673.4,985.6 675.5,982.3 677.5,976.7 679.6,982 681.6,972.4 683.7,970.7 685.7,984.5 687.8,986.4 689.8,979.6 691.8,981.6 693.9,979.6 695.9,983.2 698,984.5 700,983.8 702.1,986.6 704.1,976.7 706.2,980.4 708.2,978.4 710.3,983.2 712.3,960.9 714.4,978.3 716.4,989.3 718.5,986.5 720.5,975.4 722.6,981.1 724.6,982.2 726.6,964.9 728.7,984.9 730.7,981.6 732.8,980.8 734.8,988.2 736.9,978.6 738.9,979.7 741,983.5 743,904 745.1,904.3 747.1,986.3 749.2,981.5 751.2,973.7 753.3,978.4 755.3,985.1 757.4,985.8 759.4,975.4 761.4,978.9 763.5,981.9 765.5,986.6 767.6,977.3 769.6,978.9 771.7,985.8 773.7,985.1 775.8,982.1 777.8,979.8 779.9,980.1 781.9,980.2 784,982.8 786,984.3 788.1,979.3 790.1,977.5 792.2,982.9 794.2,979.3 796.2,983.4 798.3,938.7 800.3,966.7 802.4,981.4 804.4,988 806.5,979.6 808.5,983.5 810.6,979.2 812.6,978.2 814.7,968.2 816.7,983.8 818.8,979.8 820.8,986.6 822.9,977.3 824.9,976 827,981.5 829,976.3 831,986.4 833.1,989.4 835.1,975.5 837.2,971.4 839.2,972.8 841.3,946.4 843.3,981.2 845.4,950.6 847.4,986.8 849.5,970.1 851.5,978.6 853.6,989.1 855.6,978 857.7,981.5 859.7,976.7 861.8,962.4 863.8,981.3 865.8,982.2 867.9,972.2 869.9,982.3 872,981.8 874,991.6 876.1,970.3 878.1,982.9 880.2,980.3 882.2,977.7 884.3,981.5 886.3,975 888.4,983.7 890.4,978.9 892.5,981.1 894.5,978.4 896.6,980.7 898.6,979.6 900.6,980.6 902.7,980.6 904.7,978.4 906.8,985.2 908.8,983.3 910.9,979.1 912.9,979.9 915,975 917,978.8 919.1,955.4 921.1,505.4 923.2,999.3 925.2,999.3 927.3,992.5 929.3,999.3 931.4,998.7 933.4,992.5 935.5,990.9 937.5,974.9 939.5,984.5 941.6,987.7 943.6,979 945.7,980.5 947.7,976.6 949.8,977.3 951.8,992.2 953.9,984.4 955.9,976.3 958,983.3 960,974.2 962.1,975.6 964.1,973 966.2,984.5 968.2,976.2 970.3,979.5 972.3,981.1 974.3,982.8 976.4,974.5 978.4,978.4 980.5,971.3 982.5,981.3 984.6,988.4 986.6,975.2 988.7,964 990.7,985.3 992.8,971.8 994.8,982.2 996.9,985.7 998.9,907.2 1001,965.5 1003,950.6 1005.1,984.3 1007.1,976.6 1009.1,987.5 1011.2,980.1 1013.2,977.9 1015.3,980.8 1017.3,978.8 1019.4,983.8 1021.4,981.6 1023.5,977.1 1025.5,982.1 1027.6,974.9 1029.6,983.9 1031.7,978.7 1033.7,981.5 1035.8,974.2 1037.8,986.4 1039.9,974.5 1041.9,975.5 1043.9,979.7 1046,974.8 1048,987.3 1050.1,986.9 1052.1,979.3 1054.2,954.8 1056.2,976.4 1058.3,983.1 1060.3,981.1 1062.4,979.8 1064.4,970.6 1066.5,985 1068.5,977.8 1070.6,977.8 1072.6,972.4 1074.7,989.1 1076.7,986.3 1078.7,976.1 1080.8,982.7 1082.8,957.6 1084.9,973.6 1086.9,944.2 1089,989.3 1091,974.7 1093.1,976.9 1095.1,976.5 1097.2,973.3 1099.2,985.3 1101.3,985.2 1103.3,975.3 1105.4,974.7 1107.4,981.8 1109.5,977.4 1111.5,946.1 1113.5,943.1 1115.6,968.2 1117.6,990.4 1119.7,950.3 1121.7,977.5 1123.8,982.9 1125.8,973.4 1127.9,983.6 1129.9,980.6 1132,979.4 1134,972.5 1136.1,981.4 1138.1,980.5 1140.2,931.8 1142.2,919.1 1144.3,984.3 1146.3,976.3 1148.3,976.1 1150.4,984.7 1152.4,978.3 1154.5,976.3 1156.5,958.2 1158.6,907.4 1160.6,890.4 1162.7,895.1 1164.7,931.9 1166.8,935.3 1168.8,918.2 1170.9,934.5 1172.9,912.1 1175,948.4 1177,947.6 1179.1,961.5 1181.1,970.8 1183.1,972.4 1185.2,970.9 1187.2,972.3 1189.3,976.9 1191.3,983.2 1193.4,978 1195.4,921.3 1197.5,973.8 1199.5,989.9 1201.6,975.9 1203.6,979.4 1205.7,983.3 1207.7,958 1209.8,948.4 1211.8,971.1 1213.9,982.9 1215.9,976.8"/>
<polyline stroke="#ee3377" points="194.4,570.3 196.4,598 198.5,608.9 200.5,616 202.6,617.4 204.6,617.6 206.7,615 208.7,616.8 210.8,617.3 212.8,617.5 214.9,614.6 216.9,616.4 219,616.9 221,617.2 223.1,618.8 225.1,615.3 227.2,617.3 229.2,616.1 231.2,614.6 233.3,617.5 235.3,616.8 237.4,615.5 239.4,617.3 241.5,616.7 243.5,618.3 245.6,617.6 247.6,618.4 249.7,615.1 251.7,615.7 253.8,618.1 255.8,617.3 257.9,617.6 259.9,613.9 262,617 264,618.1 266,616.7 268.1,616.1 270.1,619.2 272.2,616.6 274.2,617 276.3,617.9 278.3,616.8 280.4,616.6 282.4,618.3 284.5,618.4 286.5,616.7 288.6,618.1 290.6,617.7 292.7,615.9 294.7,618.4 296.8,618.6 298.8,619.9 300.8,617.4 302.9,617.9 304.9,617.8 307,618 309,617.9 311.1,618.6 313.1,618.6 315.2,618.1 317.2,619.8 319.3,619.7 321.3,619.6 323.4,618.3 325.4,620.9 327.5,618.9 329.5,618.9 331.6,618.6 333.6,620.4 335.6,618.8 337.7,619.1 339.7,619.9 341.8,619.1 343.8,619.6 345.9,620.7 347.9,619.5 350,620.4 352,617 354.1,620.5 356.1,620.6 358.2,621.3 360.2,619.3 362.3,619.3 364.3,620 366.4,621.7 368.4,620.8 370.5,620.9 372.5,619.4 374.5,621.1 376.6,620.1 378.6,618.1 380.7,623.2 382.7,620.3 384.8,620.3 386.8,622.3 388.9,618.8 390.9,621.2 393,620.3 395,619.5 397.1,623.3 399.1,687.1 401.2,755.9 403.2,799.2 405.3,842.5 407.3,881.9 409.3,915.9 411.4,943 413.4,961.5 415.5,970 417.5,953.2 419.6,995 421.6,981.4 423.7,989.8 425.7,986.5 427.8,970.1 429.8,991.9 431.9,995.6 433.9,976.5 436,980.9 438,995.1 440.1,987.8 442.1,994 444.1,994.6 446.2,987.3 448.2,993.5 450.3,992.9 452.3,988.6 454.4,989 456.4,991.8 458.5,986.8 460.5,994.3 462.6,991.5 464.6,988 466.7,985.6 468.7,988.3 470.8,991.6 472.8,978.5 474.9,995.8 476.9,986.2 478.9,993.4 481,985.8 483,994.4 485.1,997.8 487.1,987.3 489.2,992.6 491.2,994.1 493.3,991.6 495.3,988.6 497.4,985.5 499.4,997.4 501.5,991.2 503.5,991.5 505.6,996.1 507.6,988.8 509.7,994.3 511.7,984 513.7,987.5 515.8,995.1 517.8,992.9 519.9,993.7 521.9,988.7 524,994.9 526,995.2 528.1,994.2 530.1,991.5 532.2,992.5 534.2,995.5 536.3,991.1 538.3,995.8 540.4,992.8 542.4,992.6 544.5,993.6 546.5,993.5 548.5,993.5 550.6,995.1 552.6,983.6 554.7,977.5 556.7,996.1 558.8,995.9 560.8,992.1 562.9,994.1 564.9,993.8 567,992.9 569,994.1 571.1,995.7 573.1,993 575.2,996 577.2,985.8 579.3,985.7 581.3,995.5 583.3,995.9 585.4,993.2 587.4,995.2 589.5,995.9 591.5,993.2 593.6,994.8 595.6,993.4 597.7,995.8 599.7,991.6 601.8,993.3 603.8,999.1 605.9,997.6 607.9,995 610,991.5 612,994.7 614.1,982.1 616.1,994.7 618.1,997.2 620.2,993.9 622.2,970.4 624.3,994 626.3,995.6 628.4,995.7 630.4,995.5 632.5,993.7 634.5,992.3 636.6,999.2 638.6,993.1 640.7,996.1 642.7,992.5 644.8,994.3 646.8,997.5 648.9,994.7 650.9,992.9 653,993.5 655,997.4 657,996.7 659.1,994.1 661.1,993.2 663.2,994.7 665.2,995.5 667.3,994.8 669.3,994.9 671.4,995.6 673.4,996.9 675.5,993.7 677.5,995 679.6,994.3 681.6,996 683.7,996.3 685.7,994 687.8,994.5 689.8,993.3 691.8,998.7 693.9,995.6 695.9,995.5 698,992 700,999.3 702.1,993 704.1,997 706.2,996.7 708.2,993.6 710.3,994.8 712.3,999.3 714.4,995.7 716.4,994.3 718.5,995.7 720.5,993.7 722.6,997.4 724.6,995.7 726.6,998.6 728.7,993.6 730.7,995.7 732.8,994.7 734.8,997.2 736.9,992.8 738.9,989.5 741,979.9 743,994.2 745.1,992.9 747.1,995.3 749.2,996.8 751.2,998 753.3,994 755.3,995.9 757.4,994.1 759.4,994.4 761.4,999.3 763.5,995.6 765.5,995.1 767.6,994.9 769.6,996.2 771.7,997.2 773.7,985.5 775.8,994.9 777.8,998.1 779.9,997.2 781.9,996.9 784,996.1 786,993.8 788.1,997.3 790.1,995.1 792.2,994.7 794.2,995.3 796.2,996.6 798.3,996.6 800.3,996.2 802.4,996.6 804.4,984.8 806.5,995.2 808.5,995.2 810.6,997.5 812.6,997.2 814.7,995.8 816.7,996.1 818.8,995.2 820.8,996.4 822.9,996.3 824.9,998.3 827,995.4 829,995.2 831,996.8 833.1,983 835.1,996.4 837.2,997.3 839.2,995.4 841.3,967.8 843.3,994 845.4,997.7 847.4,997.1 849.5,995.1 851.5,994.6 853.6,997.9 855.6,976.1 857.7,997 859.7,995.2 861.8,997.7 863.8,996.6 865.8,996.5 867.9,969.3 869.9,997.8 872,996.1 874,997.2 876.1,993.7 878.1,995.6 880.2,998 882.2,996.9 884.3,995.8 886.3,997.2 888.4,996.9 890.4,995.3 892.5,995.4 894.5,996.5 896.6,995.2 898.6,997.2 900.6,996.8 902.7,997 904.7,996.8 906.8,997.2 908.8,994.4 910.9,996.1 912.9,997.2 915,996.5 917,997.6 919.1,966.4 921.1,814.6 923.2,999.3 925.2,996.8 927.3,998.2 929.3,996.5 931.4,994.4 933.4,990.7 935.5,985.2 937.5,996.4 939.5,997.5 941.6,997.3 943.6,997.4 945.7,997.1 947.7,996.1 949.8,999.2 951.8,997.2 953.9,997.3 955.9,980.4 958,992.8 960,995.8 962.1,997.7 964.1,995.1 966.2,999.1 968.2,993.9 970.3,998.8 972.3,996.7 974.3,997.6 976.4,996.5 978.4,994.9 980.5,996.4 982.5,997.8 984.6,996.1 986.6,995.1 988.7,996.9 990.7,997.6 992.8,996.3 994.8,996.5 996.9,998.9 998.9,996.7 1001,996.3 1003,994.8 1005.1,996.8 1007.1,997 1009.1,998.7 1011.2,996.7 1013.2,998.1 1015.3,996 1017.3,997.4 1019.4,995.7 1021.4,997.2 1023.5,996.9 1025.5,996.5 1027.6,994.3 1029.6,994.8 1031.7,997.4 1033.7,996.5 1035.8,955 1037.8,983.4 1039.9,997.8 1041.9,996.2 1043.9,998.6 1046,995.7 1048,998.2 1050.1,996.8 1052.1,997 1054.2,997.7 1056.2,996.1 1058.3,997.1 1060.3,996 1062.4,996.8 1064.4,997.8 1066.5,996.1 1068.5,996.6 1070.6,991.2 1072.6,959.8 1074.7,996 1076.7,998.1 1078.7,995.6 1080.8,997.3 1082.8,981.2 1084.9,996.2 1086.9,994.9 1089,995.2 1091,991.9 1093.1,995.4 1095.1,997.8 1097.2,997 1099.2,998.5 1101.3,995.4 1103.3,997.1 1105.4,998.8 1107.4,995.5 1109.5,997.4 1111.5,997.7 1113.5,998.7 1115.6,994.6 1117.6,998.6 1119.7,969.2 1121.7,998 1123.8,997.9 1125.8,995.8 1127.9,996.8 1129.9,996.9 1132,959.3 1134,985 1136.1,996.8 1138.1,996.2 1140.2,997.9 1142.2,997 1144.3,996.7 1146.3,999.3 1148.3,996.2 1150.4,995.7 1152.4,997.2 1154.5,997.2 1156.5,996.8 1158.6,996.4 1160.6,999.3 1162.7,997.4 1164.7,997.8 1166.8,998.2 1168.8,995.8 1170.9,998.4 1172.9,996.9 1175,996.7 1177,996.5 1179.1,997.3 1181.1,998.3 1183.1,998.5 1185.2,996.1 1187.2,998.2 1189.3,996.6 1191.3,996.5 1193.4,995.8 1195.4,999.1 1197.5,995.8 1199.5,995.4 1201.6,999.3 1203.6,996 1205.7,996.3 1207.7,999.1 1209.8,996.5 1211.8,997.3 1213.9,985.8 1215.9,983"/>
<polyline stroke="#33bbee" points="194.4,601.3 196.4,612 198.5,615.1 200.5,612.1 202.6,613.7 204.6,612.2 206.7,611 208.7,615.3 210.8,611.7 212.8,613.6 214.9,611.4 216.9,613.5 219,613 221,612.3 223.1,613.8 225.1,612.9 227.2,613.2 229.2,611.3 231.2,613.2 233.3,615.3 235.3,612.2 237.4,612.9 239.4,613.3 241.5,611.7 243.5,612.6 245.6,615.6 247.6,611.5 249.7,614.3 251.7,613.9 253.8,613.9 255.8,613.5 257.9,612.5 259.9,615.3 262,613.5 264,614.4 266,613.7 268.1,614.1 270.1,612.9 272.2,613.1 274.2,615.3 276.3,613.4 278.3,615.8 280.4,613.2 282.4,613 284.5,614.5 286.5,611.2 288.6,614.3 290.6,615.4 292.7,613.5 294.7,615.1 296.8,613.4 298.8,614.5 300.8,614.2 302.9,617.4 304.9,614.3 307,612.9 309,613.6 311.1,613.8 313.1,614.5 315.2,613.4 317.2,613.8 319.3,614.3 321.3,613.5 323.4,614 325.4,615.6 327.5,613.9 329.5,613.7 331.6,615.2 333.6,617.1 335.6,614.4 337.7,614.1 339.7,617.7 341.8,615.6 343.8,615.4 345.9,612.3 347.9,614.4 350,615.7 352,613.9 354.1,614.9 356.1,617 358.2,615 360.2,613.7 362.3,615.7 364.3,612.2 366.4,616.6 368.4,615.8 370.5,615.4 372.5,615.1 374.5,615.3 376.6,613.8 378.6,613.4 380.7,616.5 382.7,617.4 384.8,615.4 386.8,615.1 388.9,613.5 390.9,615.3 393,615.9 395,612.5 397.1,618 399.1,616.9 401.2,613.5 403.2,615.3 405.3,616 407.3,617.3 409.3,614.9 411.4,615.5 413.4,616.8 415.5,615.6 417.5,617.6 419.6,614.1 421.6,617.6 423.7,614.5 425.7,617.4 427.8,617 429.8,615.9 431.9,616.9 433.9,615 436,617.4 438,615.8 440.1,615.4 442.1,615.5 444.1,615.6 446.2,617 448.2,614.1 450.3,617.3 452.3,617.3 454.4,616 456.4,614.3 458.5,619.2 460.5,616.7 462.6,614.6 464.6,616.9 466.7,618.4 468.7,615.5 470.8,616.1 472.8,617.2 474.9,618.4 476.9,616.7 478.9,617.3 481,615 483,618.6 485.1,618.9 487.1,615.9 489.2,617.2 491.2,615.4 493.3,620.5 495.3,616.6 497.4,615.7 499.4,617.7 501.5,616.9 503.5,618.2 505.6,615 507.6,619.4 509.7,617 511.7,617.4 513.7,617.4 515.8,616.5 517.8,617.9 519.9,617.4 521.9,616.9 524,617.4 526,616.5 528.1,619.1 530.1,615.4 532.2,620.2 534.2,619.2 536.3,617.8 538.3,618.6 540.4,616.4 542.4,624.6 544.5,703.9 546.5,808.5 548.5,839.4 550.6,873.4 552.6,885.8 554.7,777.5 556.7,729.6 558.8,943 560.8,783.7 562.9,767.4 564.9,924.3 567,956.7 569,965.4 571.1,937.6 573.1,999.3 575.2,970 577.2,978.5 579.3,961.3 581.3,979.7 583.3,980.9 585.4,980.8 587.4,972.4 589.5,982.6 591.5,969.5 593.6,975.6 595.6,979.4 597.7,975.1 599.7,976.9 601.8,970.8 603.8,984.1 605.9,982.4 607.9,970.5 610,968 612,973.8 614.1,981.7 616.1,953.3 618.1,976.8 620.2,974.3 622.2,985.5 624.3,971.4 626.3,970.8 628.4,987.7 630.4,980.8 632.5,981.1 634.5,990.2 636.6,974.7 638.6,988.6 640.7,977.7 642.7,974.3 644.8,969.1 646.8,961 648.9,953.8 650.9,916.7 653,868.8 655,974.5 657,972.7 659.1,985.8 661.1,974.5 663.2,953.8 665.2,963.2 667.3,982.6 669.3,988.6 671.4,976.3 673.4,913.9 675.5,957.6 677.5,951.9 679.6,984.3 681.6,931.3 683.7,978.1 685.7,976.4 687.8,978.6 689.8,981.4 691.8,978.7 693.9,975.9 695.9,977.9 698,993 700,983.4 702.1,969.5 704.1,976.8 706.2,988.4 708.2,987.8 710.3,978.2 712.3,983.4 714.4,984.4 716.4,983 718.5,948.6 720.5,983.2 722.6,972.3 724.6,983.8 726.6,984.8 728.7,971.6 730.7,980.2 732.8,982.7 734.8,977 736.9,985.5 738.9,986.6 741,984.4 743,984.2 745.1,982.6 747.1,971.5 749.2,977.3 751.2,981.2 753.3,987.1 755.3,984.6 757.4,932.8 759.4,967.8 761.4,975.7 763.5,975 765.5,988.6 767.6,932.4 769.6,929.1 771.7,978.6 773.7,981.7 775.8,989.1 777.8,939.9 779.9,975.4 781.9,984.3 784,986.1 786,977.2 788.1,976.3 790.1,981 792.2,982.1 794.2,991.8 796.2,978.7 798.3,956.4 800.3,975.9 802.4,987.1 804.4,977.4 806.5,986 808.5,981.4 810.6,985 812.6,975 814.7,973.8 816.7,971 818.8,986.1 820.8,987.6 822.9,981 824.9,981.3 827,981.9 829,986.6 831,980.3 833.1,979.6 835.1,984.6 837.2,986 839.2,982 841.3,871.1 843.3,559.5 845.4,999.3 847.4,997.1 849.5,978.6 851.5,990.5 853.6,967.7 855.6,987.5 857.7,941.8 859.7,964.9 861.8,985.1 863.8,918.9 865.8,943 867.9,951.7 869.9,988.2 872,985.8 874,977.5 876.1,984.6 878.1,985.8 880.2,873.5 882.2,551.8 884.3,999.3 886.3,999.3 888.4,987.8 890.4,981.6 892.5,979.6 894.5,984.9 896.6,984.5 898.6,966.5 900.6,985 902.7,979.4 904.7,988.1 906.8,980.4 908.8,973.4 910.9,988.8 912.9,991.5 915,982 917,957.4 919.1,937.2 921.1,989.3 923.2,990.6 925.2,981.2 927.3,984.9 929.3,977.2 931.4,983.1 933.4,976.3 935.5,987 937.5,975 939.5,987.5 941.6,987.3 943.6,937.7 945.7,981.6 947.7,989.1 949.8,977 951.8,982.7 953.9,987.7 955.9,978.9 958,955 960,987.6 962.1,988.8 964.1,976 966.2,984.4 968.2,991.4 970.3,988.2 972.3,980.7 974.3,978.4 976.4,990 978.4,976.3 980.5,987.4 982.5,975.3 984.6,992.8 986.6,983.7 988.7,974.9 990.7,980.8 992.8,991.4 994.8,981.3 996.9,989.1 998.9,973.6 1001,959.6 1003,887.3 1005.1,978.7 1007.1,986 1009.1,976.1 1011.2,987.5 1013.2,982.7 1015.3,993.8 1017.3,979.6 1019.4,982.2 1021.4,968.9 1023.5,965 1025.5,988 1027.6,984.5 1029.6,988.5 1031.7,988.9 1033.7,980.1 1035.8,978.1 1037.8,985.9 1039.9,978.8 1041.9,987.3 1043.9,979.9 1046,990.6 1048,987.6 1050.1,912.7 1052.1,984.9 1054.2,979.9 1056.2,986.3 1058.3,988.4 1060.3,980.1 1062.4,986.5 1064.4,978.4 1066.5,981.4 1068.5,977.6 1070.6,948 1072.6,982.7 1074.7,979.6 1076.7,981 1078.7,965.3 1080.8,985 1082.8,979.6 1084.9,983.6 1086.9,983.1 1089,991.7 1091,984.5 1093.1,985.1 1095.1,980.1 1097.2,989.2 1099.2,984.1 1101.3,980.1 1103.3,988.9 1105.4,980.1 1107.4,987.5 1109.5,945.7 1111.5,892 1113.5,981.7 1115.6,983.4 1117.6,981.4 1119.7,998.2 1121.7,974.1 1123.8,973.8 1125.8,988.4 1127.9,986.4 1129.9,961.1 1132,987.6 1134,981.6 1136.1,976.5 1138.1,987.5 1140.2,989.2 1142.2,994.5 1144.3,986.6 1146.3,972 1148.3,981.5 1150.4,989.6 1152.4,987 1154.5,984.4 1156.5,985 1158.6,988.9 1160.6,983.1 1162.7,979.2 1164.7,980.5 1166.8,985.2 1168.8,982.5 1170.9,975.3 1172.9,991.7 1175,979.8 1177,982.4 1179.1,964.8 1181.1,505.4 1183.1,505.4 1185.2,505.4 1187.2,505.4 1189.3,505.4 1191.3,505.4 1193.4,505.4 1195.4,737.3 1197.5,837.8 1199.5,942.2 1201.6,946.9 1203.6,997.1 1205.7,975.8 1207.7,984.7 1209.8,978.6 1211.8,983.2 1213.9,977 1215.9,980.1"/>
<polyline stroke="#cc3311" points="194.4,579.6 196.4,608.1 198.5,612.7 200.5,617.7 202.6,616.5 204.6,614.8 206.7,614.8 208.7,617.6 210.8,615.5 212.8,611.8 214.9,617.9 216.9,615.8 219,615 221,618.1 223.1,614.8 225.1,614 227.2,616.1 229.2,617.1 231.2,615.1 233.3,616.6 235.3,615.1 237.4,615.7 239.4,615.9 241.5,616.8 243.5,613.6 245.6,615.9 247.6,615.2 249.7,615.9 251.7,616.4 253.8,615.3 255.8,615.9 257.9,615.7 259.9,615.9 262,616.6 264,615.8 266,615.8 268.1,615.1 270.1,617.4 272.2,614.7 274.2,619.5 276.3,616.8 278.3,615.7 280.4,616.9 282.4,615.5 284.5,619.1 286.5,617.5 288.6,617.8 290.6,615.8 292.7,614.6 294.7,618.5 296.8,617.1 298.8,617.7 300.8,615.3 302.9,616.2 304.9,616.2 307,618.1 309,617 311.1,617.5 313.1,617.3 315.2,617.1 317.2,616.3 319.3,619.2 321.3,614.7 323.4,617.2 325.4,614.9 327.5,616.3 329.5,617.6 331.6,617 333.6,616.2 335.6,618.8 337.7,615.8 339.7,617.6 341.8,617.2 343.8,618.2 345.9,617.3 347.9,618.4 350,618.3 352,616.7 354.1,616.5 356.1,617.6 358.2,619.5 360.2,617.5 362.3,618.2 364.3,617.7 366.4,618.4 368.4,618.2 370.5,617.2 372.5,618.3 374.5,617.8 376.6,618.5 378.6,618.9 380.7,618.1 382.7,619.6 384.8,617 386.8,618.1 388.9,618.3 390.9,616.9 393,619.8 395,616.6 397.1,617.6 399.1,618.3 401.2,619.6 403.2,617.5 405.3,618.8 407.3,619 409.3,617.7 411.4,617.8 413.4,619.3 415.5,618 417.5,613.8 419.6,620.7 421.6,617.6 423.7,618.7 425.7,619 427.8,617.4 429.8,620.1 431.9,619.9 433.9,617.4 436,617.7 438,618.7 440.1,616.8 442.1,619 444.1,617.9 446.2,620.1 448.2,615.8 450.3,619.2 452.3,618.2 454.4,617.6 456.4,619.2 458.5,616.2 460.5,616.3 462.6,614.5 464.6,617 466.7,615.2 468.7,615.1 470.8,615.6 472.8,615.6 474.9,613.5 476.9,615.9 478.9,614.8 481,613 483,612.7 485.1,613.4 487.1,612.4 489.2,612.8 491.2,610 493.3,610.5 495.3,607.5 497.4,624.4 499.4,641.4 501.5,671.8 503.5,709.2 505.6,737.1 507.6,751.9 509.7,766.5 511.7,787 513.7,805.1 515.8,814.9 517.8,834.8 519.9,849.1 521.9,886.6 524,896.7 526,926.2 528.1,874 530.1,932.1 532.2,932.9 534.2,943.6 536.3,878.6 538.3,865.7 540.4,955.7 542.4,927.1 544.5,967.8 546.5,953.4 548.5,931.4 550.6,959.4 552.6,966.7 554.7,961.5 556.7,959.4 558.8,965.1 560.8,978 562.9,954.9 564.9,966.2 567,969.9 569,972.2 571.1,978.5 573.1,960.5 575.2,983.9 577.2,977.9 579.3,979 581.3,968.4 583.3,976.1 585.4,984.4 587.4,976 589.5,980.4 591.5,969.9 593.6,975.1 595.6,968.9 597.7,973.9 599.7,978.2 601.8,974.6 603.8,920.5 605.9,979.2 607.9,947.7 610,930.1 612,983.3 614.1,974.9 616.1,973.6 618.1,972.5 620.2,986.1 622.2,977.6 624.3,964.8 626.3,979.3 628.4,980.5 630.4,972.6 632.5,983.9 634.5,974.5 636.6,976.5 638.6,987.5 640.7,982 642.7,983.1 644.8,976.1 646.8,981.6 648.9,982.4 650.9,966.1 653,977 655,972.8 657,987.6 659.1,979.4 661.1,981.9 663.2,956.9 665.2,986.7 667.3,981.8 669.3,982.6 671.4,981.6 673.4,984.2 675.5,986 677.5,972.8 679.6,995.8 681.6,986.1 683.7,972.7 685.7,982.4 687.8,985.8 689.8,986 691.8,972.3 693.9,985 695.9,987.6 698,980.8 700,975.5 702.1,985 704.1,984.2 706.2,983.2 708.2,981.7 710.3,988 712.3,982.9 714.4,980.7 716.4,973.7 718.5,994.7 720.5,982.9 722.6,988.8 724.6,969.4 726.6,993.9 728.7,987.5 730.7,978.8 732.8,981.2 734.8,989 736.9,970.1 738.9,984 741,982.8 743,986.3 745.1,991.5 747.1,970.5 749.2,992.7 751.2,985.1 753.3,986.3 755.3,979.8 757.4,988.9 759.4,987 761.4,981.3 763.5,983.2 765.5,986.1 767.6,984.5 769.6,982.7 771.7,986 773.7,987.9 775.8,984.5 777.8,979.5 779.9,982.5 781.9,982.4 784,983.3 786,987.6 788.1,985.1 790.1,984.6 792.2,982 794.2,988.7 796.2,978.9 798.3,983.3 800.3,986.5 802.4,983.6 804.4,981.2 806.5,986.7 808.5,987.5 810.6,988.1 812.6,989.2 814.7,983.7 816.7,987.4 818.8,982.8 820.8,989.7 822.9,985.7 824.9,991.6 827,969.7 829,992 831,987.8 833.1,982.8 835.1,991.1 837.2,980.7 839.2,979 841.3,996.5 843.3,983.8 845.4,980.2 847.4,985.1 849.5,994 851.5,987.6 853.6,984.9 855.6,984.9 857.7,979.6 859.7,982.8 861.8,981.7 863.8,987.6 865.8,981.9 867.9,987.7 869.9,982.8 872,983.1 874,985.6 876.1,992.3 878.1,987.2 880.2,984.1 882.2,992.9 884.3,984.7 886.3,987.3 888.4,986.9 890.4,984.2 892.5,989.3 894.5,979.8 896.6,984.4 898.6,987.7 900.6,986.7 902.7,984.9 904.7,991.5 906.8,981.6 908.8,986.6 910.9,984.6 912.9,983.7 915,995.2 917,980.8 919.1,982.6 921.1,988.2 923.2,988 925.2,988.5 927.3,982.1 929.3,996 931.4,988.5 933.4,988 935.5,976 937.5,996.3 939.5,977.9 941.6,980.2 943.6,984.8 945.7,985 947.7,964.4 949.8,996.2 951.8,987.5 953.9,986.8 955.9,986 958,970.6 960,958.8 962.1,986.9 964.1,984.3 966.2,994.6 968.2,982.1 970.3,980.8 972.3,988.1 974.3,985.2 976.4,998.1 978.4,980 980.5,987.9 982.5,987 984.6,979.9 986.6,991.4 988.7,977.1 990.7,995.8 992.8,984.6 994.8,987.3 996.9,986 998.9,984.1 1001,988.7 1003,986.1 1005.1,977 1007.1,983.3 1009.1,987.4 1011.2,973.1 1013.2,984.1 1015.3,989.5 1017.3,974.9 1019.4,976.3 1021.4,987.5 1023.5,988.1 1025.5,991.8 1027.6,989.7 1029.6,981.3 1031.7,993.2 1033.7,980 1035.8,989.1 1037.8,988.8 1039.9,986.3 1041.9,991.2 1043.9,990.1 1046,985.9 1048,993.4 1050.1,981 1052.1,989 1054.2,973.3 1056.2,985.8 1058.3,986.8 1060.3,988 1062.4,980.9 1064.4,965.9 1066.5,986.2 1068.5,989 1070.6,990.1 1072.6,987 1074.7,988.6 1076.7,992.4 1078.7,988.8 1080.8,991.3 1082.8,990.7 1084.9,987.6 1086.9,990 1089,987.3 1091,991 1093.1,984.4 1095.1,989.9 1097.2,986.9 1099.2,990.4 1101.3,986.8 1103.3,992.8 1105.4,983.2 1107.4,986.6 1109.5,987.4 1111.5,989.1 1113.5,989.2 1115.6,989.5 1117.6,993.4 1119.7,984.6 1121.7,988 1123.8,983.5 1125.8,984.8 1127.9,993.2 1129.9,986.1 1132,982.9 1134,987.2 1136.1,994.4 1138.1,988.8 1140.2,985.3 1142.2,991.1 1144.3,957.5 1146.3,940.9 1148.3,973.3 1150.4,979.3 1152.4,982.6 1154.5,990.5 1156.5,993.3 1158.6,986 1160.6,990.8 1162.7,967.4 1164.7,945.3 1166.8,982.5 1168.8,988.6 1170.9,989.2 1172.9,988.3 1175,993.6 1177,988.9 1179.1,989.2 1181.1,989.6 1183.1,992 1185.2,979.2 1187.2,973 1189.3,986.9 1191.3,987.6 1193.4,981.2 1195.4,993.5 1197.5,990.2 1199.5,991.1 1201.6,989.4 1203.6,983.8 1205.7,991.3 1207.7,984.4 1209.8,990 1211.8,988.3 1213.9,991.5 1215.9,988.5"/>
<polyline stroke="#cc3311" points="194.4,585.8 196.4,609.6 198.5,613.6 200.5,617.3 202.6,615.7 204.6,610.8 206.7,612.6 208.7,616.3 210.8,614.3 212.8,617.2 214.9,612.4 216.9,615 219,614.8 221,612.9 223.1,616.8 225.1,614 227.2,616.5 229.2,615 231.2,613.2 233.3,618.4 235.3,615.5 237.4,612.7 239.4,614.6 241.5,616.3 243.5,614.1 245.6,614.5 247.6,615.5 249.7,616.9 251.7,614.2 253.8,613.8 255.8,617.1 257.9,613.1 259.9,615.3 262,614.6 264,618.7 266,612.7 268.1,614.6 270.1,614.4 272.2,617.5 274.2,615.1 276.3,615.6 278.3,614.7 280.4,612.2 282.4,619.2 284.5,614.3 286.5,617 288.6,615.8 290.6,614.7 292.7,617.1 294.7,616.9 296.8,615.4 298.8,616.3 300.8,616.2 302.9,615.5 304.9,616.4 307,616.1 309,616.5 311.1,615.4 313.1,615.4 315.2,617.6 317.2,617.3 319.3,617.1 321.3,615.6 323.4,615.4 325.4,617.2 327.5,617.3 329.5,617.1 331.6,617.3 333.6,617 335.6,617.7 337.7,616.1 339.7,616.4 341.8,616.8 343.8,618.6 345.9,614.5 347.9,616.3 350,617.9 352,616.3 354.1,616.5 356.1,617.6 358.2,619.8 360.2,617.6 362.3,617.3 364.3,615.8 366.4,616.2 368.4,617.2 370.5,618.3 372.5,616.5 374.5,618.2 376.6,615.5 378.6,617.7 380.7,618.2 382.7,618.4 384.8,617.5 386.8,617.8 388.9,620.4 390.9,615.8 393,616.8 395,618.8 397.1,616.8 399.1,619.4 401.2,618.3 403.2,618.4 405.3,618.6 407.3,618.8 409.3,617.5 411.4,618.5 413.4,617.5 415.5,618.4 417.5,617.5 419.6,619 421.6,618.7 423.7,619.9 425.7,616 427.8,617.4 429.8,617.1 431.9,619.8 433.9,618.9 436,617.6 438,619.1 440.1,616.2 442.1,619.3 444.1,616.5 446.2,617.8 448.2,621.2 450.3,617.7 452.3,618.1 454.4,619.7 456.4,618.4 458.5,619.4 460.5,618.8 462.6,617.1 464.6,618.4 466.7,618.1 468.7,619.4 470.8,617.9 472.8,619.4 474.9,617.1 476.9,619 478.9,619 481,618.7 483,618.3 485.1,616.3 487.1,619 489.2,618.9 491.2,619.9 493.3,616.9 495.3,618.2 497.4,619.2 499.4,617.1 501.5,619.6 503.5,617.2 505.6,620 507.6,619.6 509.7,618.4 511.7,619.4 513.7,617 515.8,620.7 517.8,618.1 519.9,618.8 521.9,619.5 524,619 526,616.9 528.1,621.7 530.1,619 532.2,619.7 534.2,617.8 536.3,620.4 538.3,619.2 540.4,619.9 542.4,624.1 544.5,694.8 546.5,805.4 548.5,836.3 550.6,866.4 552.6,900.5 554.7,912.1 556.7,874.2 558.8,858.7 560.8,891.3 562.9,908.6 564.9,939.6 567,956.5 569,981.3 571.1,952.9 573.1,970.9 575.2,967.4 577.2,982.1 579.3,973 581.3,983.1 583.3,967.5 585.4,955.4 587.4,967.7 589.5,983.9 591.5,970.4 593.6,981.4 595.6,983.7 597.7,954.6 599.7,971.8 601.8,977.6 603.8,983.1 605.9,989.8 607.9,976.8 610,973.9 612,990.9 614.1,949.6 616.1,976.7 618.1,967.5 620.2,979.4 622.2,984.1 624.3,975.2 626.3,975.5 628.4,943.2 630.4,955.4 632.5,991.1 634.5,982.7 636.6,972 638.6,991.5 640.7,977.7 642.7,982.9 644.8,983.5 646.8,974.9 648.9,979.1 650.9,986.2 653,974.7 655,976.6 657,982.8 659.1,972.2 661.1,973.4 663.2,882.7 665.2,769.8 667.3,908 669.3,932.2 671.4,966.2 673.4,990.9 675.5,992.5 677.5,992.5 679.6,991.5 681.6,992.1 683.7,972.9 685.7,978.4 687.8,968.4 689.8,967.7 691.8,973.8 693.9,991.4 695.9,975.3 698,977.3 700,968.3 702.1,985.7 704.1,986.8 706.2,979.1 708.2,979.3 710.3,991.4 712.3,980.1 714.4,980.6 716.4,963.7 718.5,945.8 720.5,986.3 722.6,984.3 724.6,984.7 726.6,981.2 728.7,993.3 730.7,974.5 732.8,983.9 734.8,965.3 736.9,967.8 738.9,984.1 741,989.1 743,972.2 745.1,946.6 747.1,917.2 749.2,985.2 751.2,985.4 753.3,972.9 755.3,965.4 757.4,930.6 759.4,922.9 761.4,933.7 763.5,938.4 765.5,949.9 767.6,939.1 769.6,929.8 771.7,935.3 773.7,949.3 775.8,949.2 777.8,956.1 779.9,960.8 781.9,985 784,954.4 786,980.8 788.1,965.5 790.1,987.2 792.2,967.6 794.2,977.7 796.2,976.9 798.3,984 800.3,985 802.4,935.7 804.4,949.9 806.5,986.4 808.5,989.4 810.6,974.2 812.6,975.8 814.7,982.1 816.7,980.9 818.8,973.1 820.8,975.2 822.9,986.8 824.9,991.9 827,992.5 829,981 831,992.2 833.1,974 835.1,992 837.2,982.5 839.2,989.2 841.3,904.7 843.3,854.9 845.4,908.8 847.4,962.3 849.5,870.3 851.5,840.2 853.6,932.3 855.6,916.7 857.7,882.7 859.7,910.7 861.8,914.4 863.8,922.9 865.8,921.3 867.9,947.6 869.9,960 872,964.6 874,966.2 876.1,964.6 878.1,971.6 880.2,976.2 882.2,953.8 884.3,939.9 886.3,969.3 888.4,971.6 890.4,972.4 892.5,981.2 894.5,987.2 896.6,986.4 898.6,982.3 900.6,993.2 902.7,897.1 904.7,950.7 906.8,981.6 908.8,961.3 910.9,990.6 912.9,978.1 915,986.1 917,945.9 919.1,992.1 921.1,979.4 923.2,984.9 925.2,978.7 927.3,953.5 929.3,980.7 931.4,978.3 933.4,999.3 935.5,921.9 937.5,985.6 939.5,986.6 941.6,964.8 943.6,949.7 945.7,986.6 947.7,980.5 949.8,905.6 951.8,963.1 953.9,988.4 955.9,980.7 958,972.8 960,955.4 962.1,974 964.1,956.4 966.2,989.4 968.2,980 970.3,985 972.3,988.6 974.3,982.1 976.4,987.8 978.4,986.2 980.5,992 982.5,948.9 984.6,987.8 986.6,983.7 988.7,986.2 990.7,966.7 992.8,985.8 994.8,986.3 996.9,991.4 998.9,976.5 1001,989.3 1003,979.5 1005.1,977.3 1007.1,989.5 1009.1,931.5 1011.2,936 1013.2,940.7 1015.3,947.6 1017.3,978.6 1019.4,983.4 1021.4,986.2 1023.5,978.2 1025.5,983.8 1027.6,987.7 1029.6,980.3 1031.7,978.4 1033.7,993.1 1035.8,982.5 1037.8,946.7 1039.9,985.5 1041.9,977.5 1043.9,976.1 1046,935.6 1048,828.6 1050.1,697.1 1052.1,987.2 1054.2,966.2 1056.2,981.6 1058.3,983.2 1060.3,990.9 1062.4,972.9 1064.4,921.9 1066.5,975.2 1068.5,995.5 1070.6,982.2 1072.6,941.1 1074.7,978.8 1076.7,996.3 1078.7,954.4 1080.8,976.1 1082.8,974.8 1084.9,992.2 1086.9,980.9 1089,983.9 1091,984.6 1093.1,989.3 1095.1,977.9 1097.2,985.3 1099.2,978.2 1101.3,984.3 1103.3,973.4 1105.4,985.5 1107.4,980.4 1109.5,936.1 1111.5,901.2 1113.5,899.7 1115.6,919 1117.6,925.2 1119.7,915.2 1121.7,935.3 1123.8,949.2 1125.8,966.2 1127.9,978.6 1129.9,983.2 1132,969.3 1134,978.8 1136.1,984.4 1138.1,979.1 1140.2,989.8 1142.2,925.7 1144.3,936.8 1146.3,935.3 1148.3,967.7 1150.4,992.5 1152.4,992 1154.5,989.3 1156.5,989.4 1158.6,978.6 1160.6,982 1162.7,968.7 1164.7,990 1166.8,979.3 1168.8,980.1 1170.9,987.3 1172.9,982.8 1175,964 1177,985.8 1179.1,953.8 1181.1,737.3 1183.1,520.9 1185.2,999.3 1187.2,999.3 1189.3,984.7 1191.3,955.4 1193.4,904.3 1195.4,905.9 1197.5,947.9 1199.5,955.4 1201.6,933.7 1203.6,932.2 1205.7,965.3 1207.7,986.3 1209.8,986.3 1211.8,980.1 1213.9,967.7 1215.9,949.2"/>
<polyline stroke="#0077bb" points="194.4,588.9 196.4,609.6 198.5,613.5 200.5,617.3 202.6,614.5 204.6,615 206.7,617.2 208.7,615.7 210.8,611.6 212.8,617.8 214.9,614.7 216.9,615.3 219,614.7 221,614.2 223.1,615.8 225.1,616.8 227.2,613.4 229.2,612.2 231.2,616.3 233.3,617.1 235.3,607.2 237.4,619.9 239.4,613.3 241.5,615.9 243.5,612.6 245.6,614.9 247.6,617.6 249.7,610.6 251.7,615.1 253.8,618.3 255.8,615.2 257.9,616 259.9,610.7 262,615.9 264,614.7 266,612.9 268.1,612.9 270.1,616.8 272.2,614.3 274.2,615.9 276.3,615.1 278.3,615 280.4,615.7 282.4,613.4 284.5,613.3 286.5,619.3 288.6,612 290.6,616.8 292.7,615.2 294.7,618.2 296.8,618.1 298.8,612.3 300.8,616.2 302.9,615.7 304.9,614.9 307,617.4 309,612.9 311.1,612.5 313.1,614.6 315.2,615.9 317.2,615.9 319.3,615.1 321.3,615.8 323.4,615.9 325.4,616.3 327.5,616.7 329.5,601.8 331.6,615.9 333.6,614.8 335.6,615 337.7,617.7 339.7,614.2 341.8,618 343.8,614.1 345.9,617.6 347.9,615.1 350,613.6 352,611.1 354.1,615.1 356.1,616.2 358.2,619.1 360.2,611.2 362.3,608.8 364.3,612.6 366.4,613.2 368.4,611.9 370.5,612.3 372.5,616 374.5,612.8 376.6,610.6 378.6,612.7 380.7,612.1 382.7,608.7 384.8,615.5 386.8,604.4 388.9,612.9 390.9,612.2 393,606.5 395,611 397.1,612.2 399.1,608.7 401.2,615.3 403.2,606.6 405.3,602.6 407.3,612.5 409.3,610 411.4,609.8 413.4,604.8 415.5,605.2 417.5,608.9 419.6,611.1 421.6,605.7 423.7,606.9 425.7,609.5 427.8,596.2 429.8,605.9 431.9,597.1 433.9,609.7 436,598.5 438,604.9 440.1,603 442.1,608.3 444.1,617.9 446.2,610.3 448.2,605.5 450.3,606.7 452.3,598.3 454.4,605.4 456.4,607.1 458.5,609.1 460.5,640.7 462.6,719.4 464.6,814.7 466.7,822.4 468.7,870.3 470.8,905.9 472.8,922.9 474.9,888.1 476.9,939.1 478.9,925.6 481,934.1 483,936.8 485.1,943 487.1,941.4 489.2,947.1 491.2,945.2 493.3,956.3 495.3,957.2 497.4,967.9 499.4,965.1 501.5,972.9 503.5,970.4 505.6,970.5 507.6,977.7 509.7,976.4 511.7,970.7 513.7,972.3 515.8,972.2 517.8,970.1 519.9,967.8 521.9,971.7 524,961 526,959.2 528.1,950.4 530.1,949.5 532.2,965.2 534.2,965 536.3,959.9 538.3,961.3 540.4,956.9 542.4,955.8 544.5,945.1 546.5,962.9 548.5,966.4 550.6,957.3 552.6,953.3 554.7,945.5 556.7,943.7 558.8,970.9 560.8,976.6 562.9,975 564.9,966.4 567,973.5 569,966 571.1,960 573.1,964.7 575.2,957.6 577.2,944.8 579.3,950.6 581.3,956.2 583.3,942.6 585.4,936.9 587.4,931.4 589.5,960.7 591.5,958.4 593.6,943.8 595.6,937.9 597.7,939.1 599.7,934.6 601.8,948.7 603.8,953.8 605.9,940.4 607.9,944.1 610,950.9 612,957.7 614.1,952 616.1,950.1 618.1,943.6 620.2,936.5 622.2,948.5 624.3,942.7 626.3,943.9 628.4,934.6 630.4,959.8 632.5,962.7 634.5,965.7 636.6,974.6 638.6,974.4 640.7,973.4 642.7,971.9 644.8,973 646.8,969.1 648.9,968.9 650.9,967.5 653,965 655,956.8 657,952 659.1,961.4 661.1,968.3 663.2,969.7 665.2,970.1 667.3,969.8 669.3,917.8 671.4,906.2 673.4,896.5 675.5,894.3 677.5,885.2 679.6,879.1 681.6,924.7 683.7,926.9 685.7,951.1 687.8,929.7 689.8,921.8 691.8,907.4 693.9,938.1 695.9,949.8 698,952.1 700,959.3 702.1,951.4 704.1,912.1 706.2,914.8 708.2,938.2 710.3,960.3 712.3,960.3 714.4,974.3 716.4,969.7 718.5,974.3 720.5,964.3 722.6,955.1 724.6,957.4 726.6,945.4 728.7,948.2 730.7,930.3 732.8,910.4 734.8,916.3 736.9,919 738.9,898.1 741,890.7 743,927.4 745.1,949 747.1,930 749.2,937.3 751.2,931 753.3,913.4 755.3,956.6 757.4,953.3 759.4,964.6 761.4,946.2 763.5,950.8 765.5,944.8 767.6,929.3 769.6,940.4 771.7,929.2 773.7,941.5 775.8,955.3 777.8,954.3 779.9,969.6 781.9,976.3 784,974.9 786,964.9 788.1,973.1 790.1,968.9 792.2,966.5 794.2,956.3 796.2,955.9 798.3,939.4 800.3,936 802.4,924.1 804.4,966 806.5,982.5 808.5,971.3 810.6,973.6 812.6,974.6 814.7,969.4 816.7,973.8 818.8,971.9 820.8,963.4 822.9,966.8 824.9,958.7 827,959.1 829,955.6 831,951.9 833.1,951.2 835.1,950.1 837.2,950 839.2,956.9 841.3,949.7 843.3,957.2 845.4,962.3 847.4,951.9 849.5,949.6 851.5,940 853.6,944.7 855.6,927.2 857.7,945.1 859.7,951.9 861.8,942.9 863.8,956.8 865.8,962.4 867.9,965.2 869.9,967.4 872,973.2 874,970.2 876.1,964.8 878.1,967.8 880.2,968.5 882.2,962.8 884.3,955.7 886.3,945.7 888.4,935.1 890.4,932.3 892.5,982.6 894.5,990.6 896.6,971.2 898.6,971.1 900.6,967.7 902.7,960.9 904.7,965.7 906.8,969.9 908.8,971.7 910.9,976.8 912.9,968.7 915,960.5 917,964.7 919.1,958.5 921.1,955.5 923.2,949.3 925.2,943.9 927.3,957.7 929.3,970.3 931.4,967.1 933.4,959.7 935.5,954.7 937.5,953.5 939.5,946.4 941.6,945.2 943.6,939.2 945.7,924.9 947.7,918.7 949.8,903.3 951.8,914.2 953.9,893 955.9,872.6 958,933.6 960,947.7 962.1,962 964.1,966.8 966.2,934.8 968.2,940.1 970.3,958.7 972.3,958.3 974.3,973.3 976.4,966.3 978.4,967.8 980.5,971.4 982.5,961.5 984.6,959.5 986.6,960.4 988.7,955.4 990.7,951.8 992.8,943.4 994.8,943.3 996.9,946.2 998.9,926.3 1001,930.5 1003,907.6 1005.1,876.7 1007.1,858.2 1009.1,817.5 1011.2,779.5 1013.2,782.9 1015.3,780.1 1017.3,766 1019.4,888.2 1021.4,889 1023.5,888.1 1025.5,902.1 1027.6,904.7 1029.6,889.4 1031.7,938.8 1033.7,951.7 1035.8,946 1037.8,942.2 1039.9,955.8 1041.9,931.2 1043.9,940.1 1046,926.6 1048,936.4 1050.1,961.7 1052.1,966.4 1054.2,953.7 1056.2,966.7 1058.3,969.6 1060.3,974.1 1062.4,963.2 1064.4,966.5 1066.5,962.4 1068.5,961.4 1070.6,952.3 1072.6,953.5 1074.7,947.7 1076.7,945.5 1078.7,966.2 1080.8,966.9 1082.8,978.6 1084.9,970.6 1086.9,977.4 1089,975.9 1091,979.1 1093.1,975.8 1095.1,979.6 1097.2,978.1 1099.2,980.2 1101.3,983.1 1103.3,977.2 1105.4,981.9 1107.4,980.5 1109.5,976.2 1111.5,981.1 1113.5,979 1115.6,976.3 1117.6,982.8 1119.7,979.8 1121.7,982.6 1123.8,982.5 1125.8,982.8 1127.9,977.7 1129.9,980.9 1132,975.3 1134,975.1 1136.1,977.5 1138.1,975.8 1140.2,972.7 1142.2,968.9 1144.3,974.3 1146.3,968.8 1148.3,974.2 1150.4,970.8 1152.4,967.2 1154.5,966.1 1156.5,964.5 1158.6,970.4 1160.6,961.5 1162.7,962.8 1164.7,953.3 1166.8,953.2 1168.8,951.1 1170.9,958.6 1172.9,940.2 1175,970.6 1177,967.6 1179.1,973.8 1181.1,966.4 1183.1,969.8 1185.2,973.7 1187.2,973.4 1189.3,973.5 1191.3,969.8 1193.4,972.7 1195.4,973.7 1197.5,979 1199.5,976.3 1201.6,981.1 1203.6,981.1 1205.7,984.1 1207.7,983.8 1209.8,987.1 1211.8,990.6 1213.9,992.7 1215.9,995"/>
<polyline stroke="#0077bb" points="194.4,592 196.4,607.9 198.5,613.5 200.5,614.2 202.6,613.8 204.6,614.3 206.7,612.9 208.7,613.7 210.8,613.8 212.8,614.3 214.9,613.6 216.9,613.7 219,613.8 221,612.6 223.1,614.7 225.1,611.7 227.2,617.1 229.2,612.4 231.2,614.4 233.3,614 235.3,614.7 237.4,614.4 239.4,612.6 241.5,612.9 243.5,613.2 245.6,614.4 247.6,616 249.7,614 251.7,612.2 253.8,614.9 255.8,612.8 257.9,614.4 259.9,614.4 262,612.4 264,614.5 266,615 268.1,614.2 270.1,615.4 272.2,613.6 274.2,613.4 276.3,615.8 278.3,613.9 280.4,614.8 282.4,613.4 284.5,615.3 286.5,615.4 288.6,615.2 290.6,613.9 292.7,615 294.7,615.7 296.8,614.6 298.8,615.1 300.8,614.1 302.9,616.2 304.9,612.8 307,616.4 309,614.8 311.1,615.4 313.1,615.1 315.2,616.6 317.2,613.6 319.3,616.5 321.3,616.5 323.4,612.7 325.4,615 327.5,615.8 329.5,614.8 331.6,614.7 333.6,616.3 335.6,616.1 337.7,616.7 339.7,616 341.8,615.1 343.8,616.3 345.9,614.6 347.9,614.9 350,616.2 352,617.5 354.1,615.5 356.1,616.7 358.2,613.8 360.2,616 362.3,616.4 364.3,616.3 366.4,614.4 368.4,615.6 370.5,617 372.5,616.9 374.5,616.1 376.6,614.9 378.6,615.6 380.7,616.6 382.7,616.5 384.8,616.1 386.8,619.4 388.9,616.1 390.9,614.5 393,616.1 395,617.7 397.1,617.2 399.1,617.7 401.2,617.9 403.2,616.2 405.3,615.3 407.3,618 409.3,617.6 411.4,616.1 413.4,615.8 415.5,617.7 417.5,618.5 419.6,617 421.6,615.9 423.7,616.4 425.7,615.9 427.8,617.6 429.8,618.3 431.9,617.4 433.9,617.4 436,616.4 438,616.1 440.1,618.7 442.1,616.4 444.1,616.4 446.2,617.5 448.2,618.6 450.3,617.2 452.3,618.2 454.4,618 456.4,617.8 458.5,617.1 460.5,616.8 462.6,619.2 464.6,616.7 466.7,618.7 468.7,617.4 470.8,619.7 472.8,614.9 474.9,617.8 476.9,619.5 478.9,617.9 481,618.7 483,617.2 485.1,618.2 487.1,619.5 489.2,619 491.2,617.2 493.3,619 495.3,618.9 497.4,623.2 499.4,642.1 501.5,683.2 503.5,720.3 505.6,744.3 507.6,755.1 509.7,771.4 511.7,793.8 513.7,810 515.8,817 517.8,840.7 519.9,847.4 521.9,879.5 524,910.6 526,896 528.1,947.3 530.1,961.6 532.2,911 534.2,943 536.3,931.4 538.3,950.4 540.4,945.8 542.4,944.7 544.5,953.9 546.5,979.3 548.5,949.2 550.6,946.5 552.6,976.8 554.7,959.5 556.7,961.7 558.8,949.9 560.8,972.7 562.9,947.8 564.9,896.2 567,984.2 569,980.2 571.1,957.1 573.1,976.1 575.2,949.6 577.2,984 579.3,962.4 581.3,976.1 583.3,986.6 585.4,989.5 587.4,962.7 589.5,983.5 591.5,969.4 593.6,984.9 595.6,976.7 597.7,976.4 599.7,988.9 601.8,968.7 603.8,979 605.9,987.2 607.9,977.4 610,893.9 612,984.6 614.1,967.8 616.1,976.8 618.1,963.1 620.2,975.5 622.2,985.9 624.3,981 626.3,982.3 628.4,989 630.4,975.1 632.5,978.5 634.5,979 636.6,993.8 638.6,976.2 640.7,987.8 642.7,982.7 644.8,984 646.8,980.5 648.9,972.4 650.9,987.9 653,965.9 655,983.2 657,985.5 659.1,985.6 661.1,965.3 663.2,972.5 665.2,982.1 667.3,974.8 669.3,981.2 671.4,966.3 673.4,983.8 675.5,980.9 677.5,985.7 679.6,979.8 681.6,910.2 683.7,985.6 685.7,966 687.8,990.7 689.8,975.4 691.8,987.1 693.9,986.4 695.9,979.6 698,983.6 700,986.8 702.1,981.1 704.1,987.7 706.2,980.9 708.2,987.2 710.3,985.9 712.3,984.5 714.4,973.3 716.4,993.8 718.5,983.5 720.5,976.3 722.6,982.2 724.6,994.1 726.6,973.9 728.7,981.6 730.7,989.7 732.8,983.1 734.8,976.3 736.9,985.7 738.9,989.2 741,983.2 743,984.2 745.1,988 747.1,983.2 749.2,980.3 751.2,981.4 753.3,981 755.3,984.2 757.4,986.8 759.4,981.2 761.4,987.2 763.5,985.8 765.5,987.2 767.6,980.5 769.6,994.4 771.7,980.4 773.7,971.1 775.8,982.6 777.8,988.6 779.9,982.4 781.9,990.7 784,982.4 786,986.6 788.1,952 790.1,990.4 792.2,982.2 794.2,982.8 796.2,988.8 798.3,985.8 800.3,995.8 802.4,984.8 804.4,978.5 806.5,940.5 808.5,972.9 810.6,991 812.6,981.2 814.7,991.2 816.7,941 818.8,977 820.8,985.2 822.9,982.5 824.9,988.6 827,990.1 829,982.2 831,988.7 833.1,990.8 835.1,982.3 837.2,986.5 839.2,993.6 841.3,984.4 843.3,950.7 845.4,988.7 847.4,997.1 849.5,987.9 851.5,984.6 853.6,982.9 855.6,941.8 857.7,986.6 859.7,991.8 861.8,977.9 863.8,987.1 865.8,987.2 867.9,986.5 869.9,981.3 872,992.6 874,987.7 876.1,986.2 878.1,989.4 880.2,984.1 882.2,991.6 884.3,981.1 886.3,990.3 888.4,991.3 890.4,979.9 892.5,989.6 894.5,988.7 896.6,994 898.6,986 900.6,958.9 902.7,987.4 904.7,987.7 906.8,989.9 908.8,984.5 910.9,987.8 912.9,984.4 915,978.2 917,999.3 919.1,978.8 921.1,991.5 923.2,993.2 925.2,980.6 927.3,995.3 929.3,992.6 931.4,983.2 933.4,988.6 935.5,987.3 937.5,986.4 939.5,988.1 941.6,990.1 943.6,985.5 945.7,987.1 947.7,987.2 949.8,990.7 951.8,989.8 953.9,985.7 955.9,987.7 958,994.1 960,982.8 962.1,978.7 964.1,954.4 966.2,992 968.2,986.3 970.3,989.2 972.3,978.8 974.3,991.4 976.4,989.6 978.4,974.3 980.5,945.7 982.5,991.4 984.6,984.5 986.6,987.6 988.7,988.6 990.7,992.4 992.8,988.5 994.8,990 996.9,988.2 998.9,996.2 1001,991.9 1003,983 1005.1,987 1007.1,993.4 1009.1,986.1 1011.2,992.3 1013.2,991.8 1015.3,987.6 1017.3,940.9 1019.4,982.3 1021.4,991.2 1023.5,992.4 1025.5,989.1 1027.6,985.4 1029.6,988.5 1031.7,984.4 1033.7,986.6 1035.8,990.3 1037.8,992 1039.9,987 1041.9,990.3 1043.9,989.1 1046,984 1048,980.3 1050.1,987.9 1052.1,990.7 1054.2,985 1056.2,995.7 1058.3,984.1 1060.3,994 1062.4,961.6 1064.4,985.7 1066.5,994.7 1068.5,991.3 1070.6,983.6 1072.6,992.8 1074.7,989 1076.7,985.7 1078.7,929.6 1080.8,990.5 1082.8,988.4 1084.9,991.8 1086.9,990.6 1089,985.4 1091,991.6 1093.1,988 1095.1,994 1097.2,986.7 1099.2,993.4 1101.3,975.5 1103.3,992.4 1105.4,987.7 1107.4,986.7 1109.5,982.8 1111.5,997.9 1113.5,988.7 1115.6,938.5 1117.6,876.5 1119.7,862.6 1121.7,973.9 1123.8,986.3 1125.8,988.9 1127.9,985 1129.9,996.1 1132,992.1 1134,962.3 1136.1,993.8 1138.1,990.5 1140.2,993.6 1142.2,977.5 1144.3,995.1 1146.3,961.4 1148.3,988.1 1150.4,991.6 1152.4,986.7 1154.5,999 1156.5,987 1158.6,995.1 1160.6,986.6 1162.7,992.8 1164.7,985.1 1166.8,993.7 1168.8,995.3 1170.9,945 1172.9,964.8 1175,990.4 1177,988.2 1179.1,991.1 1181.1,984.8 1183.1,996.8 1185.2,994.6 1187.2,988.6 1189.3,989.3 1191.3,984.4 1193.4,976.2 1195.4,987.8 1197.5,976.2 1199.5,923.8 1201.6,977.9 1203.6,987.6 1205.7,981.2 1207.7,987.3 1209.8,994.8 1211.8,988.9 1213.9,980.8 1215.9,992.5"/>
<polyline stroke="#ff7043" points="194.4,579.6 196.4,603.2 198.5,612.3 200.5,617.9 202.6,616.7 204.6,617.1 206.7,616.9 208.7,616.2 210.8,619.3 212.8,617.4 214.9,616.9 216.9,616 219,616.6 221,615.6 223.1,618.6 225.1,614.9 227.2,617.9 229.2,617.5 231.2,618.6 233.3,616.5 235.3,617.5 237.4,619.9 239.4,617.8 241.5,617.1 243.5,617.7 245.6,618.8 247.6,617.3 249.7,616.5 251.7,616.1 253.8,618.4 255.8,617.2 257.9,617.9 259.9,619.2 262,618.7 264,618.7 266,618.6 268.1,616.5 270.1,620.8 272.2,616.1 274.2,618.4 276.3,618.4 278.3,617.5 280.4,618.9 282.4,617.7 284.5,616.4 286.5,619.6 288.6,618 290.6,616.5 292.7,619 294.7,619 296.8,617.6 298.8,620.4 300.8,620.8 302.9,617 304.9,618.1 307,618.4 309,618.9 311.1,620.3 313.1,616.5 315.2,618.9 317.2,619.8 319.3,619.1 321.3,616.9 323.4,617.6 325.4,618.2 327.5,620.3 329.5,618.5 331.6,617.5 333.6,620.2 335.6,620 337.7,618.3 339.7,619.8 341.8,617.4 343.8,620.7 345.9,618.5 347.9,618.8 350,619.1 352,620.3 354.1,616.7 356.1,621.5 358.2,619.4 360.2,617.2 362.3,619.6 364.3,618.2 366.4,619.1 368.4,617.9 370.5,618.5 372.5,618.1 374.5,621 376.6,618.9 378.6,619 380.7,619.7 382.7,619 384.8,619.6 386.8,618.2 388.9,620.5 390.9,619.5 393,619.6 395,622.4 397.1,618.6 399.1,621 401.2,619.3 403.2,620.3 405.3,620.4 407.3,619.3 409.3,618.8 411.4,619.9 413.4,621.6 415.5,620.3 417.5,618.6 419.6,620.3 421.6,621.2 423.7,619.3 425.7,619.4 427.8,621.1 429.8,619.8 431.9,620 433.9,618.3 436,620.9 438,619.8 440.1,619.8 442.1,621.4 444.1,618.5 446.2,622.1 448.2,621.9 450.3,620.1 452.3,619.5 454.4,620.9 456.4,624.4 458.5,620.3 460.5,619.5 462.6,690.1 464.6,785.7 466.7,820.1 468.7,855.9 470.8,895.2 472.8,912.4 474.9,918.4 476.9,924.7 478.9,931.1 481,912.6 483,938.5 485.1,926.1 487.1,973 489.2,978 491.2,956 493.3,965.5 495.3,965.7 497.4,986.9 499.4,959.6 501.5,969.1 503.5,974.8 505.6,975.7 507.6,969.3 509.7,964 511.7,981.8 513.7,983 515.8,982.5 517.8,982.2 519.9,966.9 521.9,994.4 524,978.1 526,976.8 528.1,990.1 530.1,978.2 532.2,980.7 534.2,981.9 536.3,987 538.3,979.1 540.4,982.5 542.4,981.9 544.5,971.3 546.5,981.4 548.5,980.4 550.6,979.7 552.6,978.2 554.7,989.1 556.7,985.3 558.8,979.9 560.8,988 562.9,984.6 564.9,986.5 567,983.1 569,987.6 571.1,988 573.1,991 575.2,986.5 577.2,965.6 579.3,980 581.3,996.6 583.3,966.8 585.4,984.8 587.4,991.8 589.5,984.9 591.5,981.8 593.6,986.8 595.6,989.7 597.7,987.9 599.7,981.7 601.8,989.4 603.8,991.3 605.9,985.1 607.9,987.7 610,988.9 612,953.3 614.1,972 616.1,992 618.1,986.4 620.2,984.7 622.2,985.4 624.3,993.4 626.3,988.7 628.4,988.6 630.4,972.3 632.5,993.9 634.5,943.5 636.6,986.9 638.6,980.9 640.7,996.8 642.7,983.9 644.8,989.8 646.8,991.2 648.9,987 650.9,990.9 653,989.5 655,985.5 657,998.9 659.1,985.1 661.1,986.9 663.2,987.3 665.2,990.2 667.3,989.9 669.3,988.7 671.4,986.4 673.4,995.3 675.5,983.4 677.5,997.9 679.6,987.6 681.6,987.9 683.7,989.2 685.7,990.9 687.8,999.3 689.8,983.9 691.8,988.9 693.9,992.9 695.9,995.7 698,988.3 700,954.7 702.1,972.8 704.1,995.2 706.2,990.9 708.2,975.5 710.3,989.5 712.3,991.1 714.4,988.9 716.4,987.1 718.5,998.1 720.5,990.7 722.6,987.7 724.6,995.6 726.6,986.1 728.7,984.9 730.7,966.7 732.8,989.2 734.8,980.3 736.9,971.1 738.9,990.6 741,992.6 743,990.5 745.1,985.3 747.1,991.4 749.2,994.6 751.2,990.6 753.3,986.1 755.3,990.7 757.4,992.4 759.4,987.3 761.4,992.8 763.5,992.8 765.5,980.8 767.6,989.7 769.6,984.3 771.7,992.6 773.7,989.5 775.8,989.9 777.8,996.7 779.9,986.3 781.9,986.2 784,996.9 786,993.2 788.1,992 790.1,991.6 792.2,989.1 794.2,992.3 796.2,991.6 798.3,999.2 800.3,986.9 802.4,992.6 804.4,994.2 806.5,991.9 808.5,972.5 810.6,976.3 812.6,991 814.7,994.1 816.7,989.1 818.8,995.5 820.8,988.5 822.9,993.7 824.9,992.1 827,984.2 829,988.1 831,991.6 833.1,991 835.1,998.1 837.2,993.1 839.2,961 841.3,992.5 843.3,994 845.4,992.9 847.4,992.9 849.5,996.3 851.5,977.3 853.6,992.6 855.6,991.7 857.7,992.5 859.7,989.1 861.8,991.8 863.8,994.8 865.8,993.2 867.9,995.8 869.9,988.4 872,995.4 874,992.2 876.1,970.8 878.1,991.5 880.2,994.7 882.2,994.1 884.3,992.8 886.3,993.2 888.4,984.1 890.4,987.3 892.5,996.6 894.5,991.6 896.6,996 898.6,993.5 900.6,992 902.7,993.6 904.7,991.8 906.8,955.1 908.8,993.1 910.9,995.3 912.9,995 915,991.6 917,994.1 919.1,992.3 921.1,994.5 923.2,996.8 925.2,992 927.3,986.9 929.3,987.3 931.4,996.1 933.4,991.3 935.5,995.1 937.5,993.4 939.5,994.9 941.6,992.3 943.6,999 945.7,991.3 947.7,990.1 949.8,993.8 951.8,998.3 953.9,971.3 955.9,971.8 958,994.1 960,991.4 962.1,997.2 964.1,991.8 966.2,994.5 968.2,978.1 970.3,992.6 972.3,994.9 974.3,992.9 976.4,996.5 978.4,996.2 980.5,992.7 982.5,992.9 984.6,993.1 986.6,992.2 988.7,984.8 990.7,996.7 992.8,993.9 994.8,994.9 996.9,995 998.9,998.6 1001,992.4 1003,994 1005.1,993.2 1007.1,993.9 1009.1,997.2 1011.2,977.6 1013.2,994.1 1015.3,994.7 1017.3,996.7 1019.4,991.8 1021.4,996.6 1023.5,996.2 1025.5,969 1027.6,994.3 1029.6,994.1 1031.7,992.8 1033.7,986.4 1035.8,992.2 1037.8,992.7 1039.9,995.7 1041.9,982.4 1043.9,972.9 1046,995 1048,958 1050.1,976.8 1052.1,993.3 1054.2,998.7 1056.2,994.6 1058.3,995.7 1060.3,993.7 1062.4,994.8 1064.4,996.5 1066.5,995.1 1068.5,996.7 1070.6,992.6 1072.6,994.9 1074.7,995.1 1076.7,994.6 1078.7,995.5 1080.8,997.8 1082.8,993.3 1084.9,996.3 1086.9,994.6 1089,991.7 1091,997 1093.1,994.9 1095.1,995.5 1097.2,994.6 1099.2,996.5 1101.3,998.4 1103.3,993 1105.4,996.8 1107.4,995.1 1109.5,993.5 1111.5,996.7 1113.5,994.6 1115.6,992.7 1117.6,997.1 1119.7,957 1121.7,995.2 1123.8,995.8 1125.8,990.4 1127.9,988.5 1129.9,997.5 1132,931.2 1134,982.1 1136.1,994.7 1138.1,994.6 1140.2,997 1142.2,994.7 1144.3,995.8 1146.3,982.3 1148.3,996.1 1150.4,996 1152.4,997.1 1154.5,997.3 1156.5,995.8 1158.6,996.3 1160.6,974.5 1162.7,995.7 1164.7,999 1166.8,982.5 1168.8,981.5 1170.9,993.6 1172.9,994.8 1175,996.4 1177,994.8 1179.1,993.1 1181.1,992.7 1183.1,995 1185.2,978.2 1187.2,995.7 1189.3,997 1191.3,995.1 1193.4,999.3 1195.4,993.5 1197.5,997.5 1199.5,995.7 1201.6,997.4 1203.6,996.7 1205.7,996.2 1207.7,997.4 1209.8,996.4 1211.8,995.4 1213.9,997.8 1215.9,995.9"/>
<polyline stroke="#ff7043" points="194.4,573.4 196.4,600.3 198.5,610.8 200.5,617.4 202.6,619.3 204.6,617.3 206.7,616.1 208.7,617.2 210.8,615.9 212.8,618 214.9,616.5 216.9,616.7 219,616.7 221,618.4 223.1,614.9 225.1,617.6 227.2,616.6 229.2,616.7 231.2,618.8 233.3,618.2 235.3,616.6 237.4,617.8 239.4,618 241.5,617.8 243.5,616.9 245.6,617.9 247.6,619.8 249.7,617.3 251.7,617.2 253.8,618.2 255.8,616.3 257.9,619.8 259.9,618.3 262,616 264,618.3 266,617.5 268.1,617.8 270.1,617.5 272.2,617.9 274.2,619.5 276.3,615.7 278.3,619 280.4,618.1 282.4,617.3 284.5,617.4 286.5,618.3 288.6,619.8 290.6,619.1 292.7,616.9 294.7,618 296.8,617.3 298.8,617.8 300.8,619.7 302.9,618.5 304.9,616.1 307,619.8 309,620.1 311.1,616.3 313.1,619.7 315.2,617.6 317.2,621 319.3,619.4 321.3,618.3 323.4,618.8 325.4,618.4 327.5,618.4 329.5,618.9 331.6,621 333.6,617.4 335.6,618.4 337.7,619.6 339.7,619.2 341.8,621.7 343.8,618.3 345.9,618.3 347.9,620.3 350,619.1 352,620.2 354.1,617.8 356.1,617.6 358.2,620.7 360.2,620.3 362.3,620.5 364.3,617.7 366.4,619.4 368.4,619.8 370.5,619.7 372.5,620.7 374.5,620.7 376.6,619 378.6,620.9 380.7,619.5 382.7,619.9 384.8,618.1 386.8,620.5 388.9,622.9 390.9,618.8 393,620 395,616.4 397.1,644.9 399.1,721.9 401.2,774.4 403.2,817.7 405.3,857.2 407.3,891.2 409.3,918.2 411.4,940.7 413.4,950.7 415.5,960.8 417.5,964.6 419.6,967.9 421.6,969.7 423.7,971.9 425.7,980.2 427.8,974.9 429.8,981.8 431.9,983 433.9,974.2 436,985 438,975.5 440.1,971.9 442.1,980.9 444.1,965.7 446.2,982.3 448.2,985.7 450.3,978.3 452.3,980.3 454.4,981.8 456.4,976.7 458.5,985.4 460.5,977.4 462.6,981.9 464.6,982.5 466.7,983.4 468.7,985.1 470.8,982.5 472.8,979.6 474.9,979.3 476.9,968.1 478.9,981 481,977.6 483,978.6 485.1,982.5 487.1,981.6 489.2,982.5 491.2,986.4 493.3,979.6 495.3,973.7 497.4,986 499.4,974.7 501.5,975.6 503.5,978.1 505.6,971.3 507.6,977.5 509.7,979.6 511.7,982.5 513.7,981.3 515.8,983.8 517.8,983.4 519.9,982.5 521.9,988.6 524,981.1 526,973.1 528.1,989.3 530.1,976.6 532.2,984.9 534.2,950.7 536.3,973.9 538.3,984.4 540.4,981.8 542.4,980.2 544.5,978.3 546.5,978.2 548.5,989.6 550.6,969.7 552.6,980.3 554.7,972.3 556.7,987.1 558.8,977.4 560.8,980.2 562.9,981 564.9,976.5 567,978.7 569,975.5 571.1,971.5 573.1,967.3 575.2,973.2 577.2,970.4 579.3,977.7 581.3,972.9 583.3,962.7 585.4,941.6 587.4,932.5 589.5,943.3 591.5,956.8 593.6,971.8 595.6,961.1 597.7,960.6 599.7,964.6 601.8,975.7 603.8,973.6 605.9,976.8 607.9,973.9 610,975.3 612,978.2 614.1,977.8 616.1,976.2 618.1,967.4 620.2,984.2 622.2,977 624.3,979.8 626.3,974.5 628.4,974.4 630.4,959.3 632.5,983.4 634.5,980.9 636.6,986.2 638.6,975.9 640.7,977 642.7,976 644.8,970.1 646.8,962.2 648.9,942.8 650.9,944.1 653,920.6 655,911.8 657,873.9 659.1,989.9 661.1,975.7 663.2,999.3 665.2,977.2 667.3,977.6 669.3,985.1 671.4,979.3 673.4,977.9 675.5,982.9 677.5,980 679.6,978.7 681.6,981.8 683.7,978.3 685.7,976.2 687.8,972.7 689.8,969.6 691.8,969.9 693.9,949.7 695.9,935.8 698,962.7 700,952.1 702.1,964.5 704.1,961.3 706.2,961.8 708.2,972.4 710.3,988.8 712.3,979.6 714.4,972.2 716.4,973.6 718.5,974.4 720.5,968.8 722.6,980.4 724.6,979.8 726.6,979.7 728.7,971.4 730.7,970.5 732.8,976.1 734.8,969.5 736.9,974 738.9,971.8 741,978.1 743,977.4 745.1,976.3 747.1,966.6 749.2,967.5 751.2,972.3 753.3,961.5 755.3,952.2 757.4,946.9 759.4,944.5 761.4,971.2 763.5,982.6 765.5,946.9 767.6,948.9 769.6,937.2 771.7,936.9 773.7,942.5 775.8,931.3 777.8,918.6 779.9,913 781.9,901 784,904.1 786,878.6 788.1,963.6 790.1,880.6 792.2,865.1 794.2,918.9 796.2,952.2 798.3,948.7 800.3,954.1 802.4,903.3 804.4,885.5 806.5,781.8 808.5,963.6 810.6,945.3 812.6,962.4 814.7,959.6 816.7,965.9 818.8,955.4 820.8,966.7 822.9,955.7 824.9,960.9 827,945.6 829,946.3 831,931.8 833.1,938.1 835.1,923.6 837.2,950.7 839.2,939.6 841.3,952.6 843.3,947.6 845.4,949.9 847.4,961.8 849.5,952.5 851.5,967 853.6,959.6 855.6,977.9 857.7,955.7 859.7,946.2 861.8,954.9 863.8,951.4 865.8,939.1 867.9,942.5 869.9,514.3 872,908 874,965.2 876.1,944.1 878.1,933.4 880.2,935.5 882.2,958.2 884.3,946.6 886.3,943.4 888.4,932.9 890.4,934.7 892.5,919.2 894.5,902.7 896.6,886.6 898.6,872.2 900.6,912.9 902.7,884.6 904.7,895.8 906.8,927.7 908.8,941 910.9,893.4 912.9,890.7 915,868.7 917,901.7 919.1,862.6 921.1,897.9 923.2,877.2 925.2,851.1 927.3,855.9 929.3,859.3 931.4,885.5 933.4,816.3 935.5,789.5 937.5,933.7 939.5,886.3 941.6,827.2 943.6,807.3 945.7,883.2 947.7,927.1 949.8,902 951.8,907 953.9,921.8 955.9,861.5 958,857 960,853.7 962.1,938 964.1,930.1 966.2,917.7 968.2,937.8 970.3,906 972.3,882.2 974.3,889.6 976.4,846.2 978.4,797.3 980.5,839.2 982.5,771.4 984.6,778.1 986.6,755.1 988.7,826.8 990.7,846.4 992.8,722.6 994.8,744.8 996.9,832.8 998.9,777.4 1001,782.5 1003,734.9 1005.1,739.9 1007.1,735.7 1009.1,809.3 1011.2,890.8 1013.2,930 1015.3,925 1017.3,921.1 1019.4,841.2 1021.4,869.3 1023.5,844.2 1025.5,789.3 1027.6,859.9 1029.6,826.4 1031.7,824.7 1033.7,904.9 1035.8,869.8 1037.8,834.4 1039.9,830.2 1041.9,823.4 1043.9,778.9 1046,695.5 1048,816.7 1050.1,817.7 1052.1,694.2 1054.2,819.4 1056.2,875.5 1058.3,923.6 1060.3,972.6 1062.4,802.9 1064.4,823.3 1066.5,819.2 1068.5,774.5 1070.6,784.4 1072.6,772.8 1074.7,784.2 1076.7,770 1078.7,844.5 1080.8,789.2 1082.8,775.1 1084.9,765.9 1086.9,786.8 1089,780.1 1091,746.8 1093.1,788.7 1095.1,704.3 1097.2,668.9 1099.2,645.5 1101.3,653.3 1103.3,810.5 1105.4,813.1 1107.4,821.9 1109.5,764 1111.5,744.7 1113.5,915.3 1115.6,878.1 1117.6,743.1 1119.7,666.5 1121.7,868.5 1123.8,771.1 1125.8,787.3 1127.9,866.2 1129.9,891.8 1132,754.1 1134,796.1 1136.1,898.1 1138.1,890.2 1140.2,797 1142.2,854.3 1144.3,791.9 1146.3,786.5 1148.3,816.6 1150.4,842 1152.4,872.9 1154.5,601.4 1156.5,530.1 1158.6,551.8 1160.6,564.2 1162.7,609.6 1164.7,643 1166.8,661.3 1168.8,692.5 1170.9,709.2 1172.9,740.4 1175,761.3 1177,792.2 1179.1,807.7 1181.1,658 1183.1,519.3 1185.2,899.7 1187.2,870.3 1189.3,819.3 1191.3,828.6 1193.4,835.9 1195.4,844.4 1197.5,851.4 1199.5,859.3 1201.6,864.4 1203.6,871.2 1205.7,874.2 1207.7,879.4 1209.8,879.7 1211.8,882.9 1213.9,883.1 1215.9,885.1"/>
</g>
<g stroke-width="2.7">
<polyline stroke="#bbbbbb" points="194.4,598.2 196.4,606.8 198.5,610.8 200.5,613.3 202.6,613.4 204.6,613.9 206.7,614.7 208.7,614.1 210.8,614.3 212.8,614.4 214.9,614.5 216.9,613.9 219,614.1 221,614 223.1,614.8 225.1,615.1 227.2,615.6 229.2,615.3 231.2,616.6 233.3,614.8 235.3,615 237.4,615.2 239.4,614.9 241.5,615.4 243.5,615.3 245.6,615.1 247.6,616.2 249.7,614.9 251.7,615.4 253.8,615.3 255.8,616.2 257.9,616.3 259.9,615.1 262,616 264,616.2 266,615.9 268.1,615.3 270.1,617.1 272.2,615.7 274.2,616 276.3,615.8 278.3,616.7 280.4,616.4 282.4,615.6 284.5,616.3 286.5,616.8 288.6,616.9 290.6,617.1 292.7,616.5 294.7,616.6 296.8,617.1 298.8,616.6 300.8,617.4 302.9,617.9 304.9,616.1 307,617.2 309,616.4 311.1,617 313.1,617.4 315.2,617.1 317.2,617.8 319.3,618 321.3,617.8 323.4,617.9 325.4,617.3 327.5,616.6 329.5,618 331.6,618.3 333.6,617.6 335.6,617.6 337.7,617.3 339.7,618.2 341.8,617.8 343.8,618.1 345.9,619 347.9,618.2 350,619.1 352,618.3 354.1,618.6 356.1,618.6 358.2,617.5 360.2,617.5 362.3,618.1 364.3,618.3 366.4,619 368.4,618.2 370.5,618.4 372.5,619.2 374.5,619.9 376.6,619.3 378.6,619.2 380.7,618.7 382.7,619.6 384.8,619.8 386.8,619.2 388.9,619.3 390.9,618.9 393,618.7 395,619.4 397.1,629.1 399.1,666.2 401.2,709.5 403.2,752.8 405.3,794.5 407.3,833.2 409.3,867.2 411.4,896.6 413.4,918.2 415.5,935.3 417.5,956.4 419.6,956.9 421.6,963.7 423.7,966.5 425.7,976.8 427.8,974.4 429.8,974.8 431.9,977.6 433.9,977.4 436,978.4 438,977.6 440.1,976.7 442.1,977.1 444.1,977.9 446.2,980 448.2,981.2 450.3,981.2 452.3,981.8 454.4,983.7 456.4,982.6 458.5,981.9 460.5,983.9 462.6,985.4 464.6,983.6 466.7,985.3 468.7,986.8 470.8,985.7 472.8,971.7 474.9,976.1 476.9,980.8 478.9,982.7 481,982.9 483,983.5 485.1,985.4 487.1,988.6 489.2,987.3 491.2,987.9 493.3,985.7 495.3,984.6 497.4,985.5 499.4,985.7 501.5,985.9 503.5,983.1 505.6,985.4 507.6,985 509.7,986.5 511.7,988 513.7,987.1 515.8,985.3 517.8,987 519.9,989.1 521.9,986.3 524,973.7 526,978.8 528.1,983.1 530.1,984.2 532.2,984 534.2,986.9 536.3,986.4 538.3,986.8 540.4,988.3 542.4,987.6 544.5,987.1 546.5,988.6 548.5,986.9 550.6,988.9 552.6,987 554.7,987.3 556.7,987.7 558.8,988.9 560.8,989.2 562.9,989.8 564.9,986.7 567,987.3 569,987.2 571.1,986.9 573.1,987.9 575.2,988.7 577.2,987.6 579.3,988.5 581.3,988.7 583.3,989.9 585.4,988.1 587.4,989.4 589.5,987.2 591.5,989.5 593.6,989.6 595.6,989.2 597.7,989.9 599.7,990.7 601.8,990.6 603.8,990.4 605.9,989.8 607.9,988.5 610,988.5 612,988.3 614.1,988.1 616.1,990.9 618.1,990.1 620.2,989.9 622.2,990.3 624.3,988.9 626.3,989.7 628.4,990.3 630.4,988.5 632.5,989.6 634.5,989.4 636.6,990.6 638.6,988.5 640.7,988.9 642.7,987.7 644.8,986.7 646.8,987.9 648.9,989.1 650.9,989.8 653,987.6 655,988.9 657,988.3 659.1,988.6 661.1,992.1 663.2,989.4 665.2,988.8 667.3,988.7 669.3,978.1 671.4,974.5 673.4,981.3 675.5,983.3 677.5,986.2 679.6,986.9 681.6,986 683.7,987.5 685.7,989.2 687.8,988.3 689.8,989.9 691.8,982.5 693.9,983.5 695.9,987.2 698,987.6 700,988.7 702.1,988.1 704.1,988 706.2,988.2 708.2,988.7 710.3,990.4 712.3,989.8 714.4,989.2 716.4,987.8 718.5,990.3 720.5,987.7 722.6,989.1 724.6,990.2 726.6,987.3 728.7,987.8 730.7,989.2 732.8,987 734.8,987 736.9,985 738.9,984.5 741,987.3 743,986.6 745.1,988.1 747.1,989.6 749.2,989 751.2,984.8 753.3,985.8 755.3,988.4 757.4,988.7 759.4,987.6 761.4,988.2 763.5,988.6 765.5,987.7 767.6,989.3 769.6,986.3 771.7,988.5 773.7,987.8 775.8,988.2 777.8,987 779.9,988.3 781.9,988.9 784,987.9 786,987.3 788.1,988 790.1,985.8 792.2,986.7 794.2,986.3 796.2,985.4 798.3,984.5 800.3,986.6 802.4,985.4 804.4,987.5 806.5,983.6 808.5,977.7 810.6,981.4 812.6,982.9 814.7,984.8 816.7,983.7 818.8,983.7 820.8,986.1 822.9,986.7 824.9,987.9 827,988.1 829,987 831,988.6 833.1,987.9 835.1,988.3 837.2,988.3 839.2,989.2 841.3,986.9 843.3,989.3 845.4,980.1 847.4,968 849.5,975.6 851.5,981.2 853.6,985.2 855.6,986 857.7,987.4 859.7,983.9 861.8,983.4 863.8,972.4 865.8,971.7 867.9,977.6 869.9,982.2 872,984.7 874,984.7 876.1,986.6 878.1,988.9 880.2,988.1 882.2,987.3 884.3,988 886.3,988.4 888.4,987.7 890.4,981.5 892.5,983.7 894.5,984.7 896.6,986.9 898.6,988.7 900.6,980.1 902.7,983.2 904.7,986.1 906.8,988 908.8,987.3 910.9,987.2 912.9,987 915,987.2 917,988.1 919.1,985 921.1,987.5 923.2,987.7 925.2,987.8 927.3,986.5 929.3,988.7 931.4,986 933.4,986.5 935.5,988.1 937.5,988.5 939.5,987.7 941.6,987.4 943.6,987 945.7,989.4 947.7,988.5 949.8,987.5 951.8,986.8 953.9,987.2 955.9,987.8 958,987.5 960,988.3 962.1,986.2 964.1,986.6 966.2,987.2 968.2,988.3 970.3,988 972.3,987.5 974.3,987.7 976.4,986.1 978.4,985.4 980.5,986.3 982.5,988.7 984.6,987.3 986.6,988.2 988.7,987.9 990.7,985.8 992.8,989.2 994.8,989.5 996.9,988.8 998.9,987.2 1001,988.1 1003,989.9 1005.1,987.9 1007.1,987.2 1009.1,986.4 1011.2,987.4 1013.2,986.6 1015.3,988.2 1017.3,979.3 1019.4,981.8 1021.4,985 1023.5,985.2 1025.5,984.8 1027.6,987.3 1029.6,988.2 1031.7,987.6 1033.7,987 1035.8,986.6 1037.8,988 1039.9,987.3 1041.9,988.6 1043.9,989.1 1046,980.6 1048,985.1 1050.1,987.6 1052.1,986.7 1054.2,987.9 1056.2,986.8 1058.3,990 1060.3,989.3 1062.4,987 1064.4,987.3 1066.5,988.6 1068.5,986.4 1070.6,986.5 1072.6,987.9 1074.7,986.7 1076.7,987 1078.7,988.9 1080.8,988.8 1082.8,987.8 1084.9,988.9 1086.9,989.7 1089,988.7 1091,987.3 1093.1,987.6 1095.1,983.1 1097.2,987.1 1099.2,985.6 1101.3,986.8 1103.3,986.3 1105.4,987.4 1107.4,988.1 1109.5,987.6 1111.5,988.5 1113.5,988.5 1115.6,988.9 1117.6,990.3 1119.7,987.3 1121.7,986.7 1123.8,988.2 1125.8,988.4 1127.9,983.2 1129.9,985.4 1132,987.2 1134,988.7 1136.1,986.1 1138.1,986.1 1140.2,988.3 1142.2,987.2 1144.3,988.7 1146.3,988.4 1148.3,986.9 1150.4,988 1152.4,987.2 1154.5,981.5 1156.5,807.7 1158.6,691.7 1160.6,646.5 1162.7,621.2 1164.7,633.7 1166.8,647.1 1168.8,662.2 1170.9,685.9 1172.9,706.7 1175,726.7 1177,751.5 1179.1,770.8 1181.1,785.9 1183.1,787.4 1185.2,797.1 1187.2,788.7 1189.3,779.4 1191.3,803.7 1193.4,807.4 1195.4,822.9 1197.5,830.2 1199.5,832.3 1201.6,841.6 1203.6,850.4 1205.7,860 1207.7,867.6 1209.8,869.8 1211.8,872.5 1213.9,876.8 1215.9,884.1"/>
<polyline stroke="#009988" points="194.4,595.1 196.4,607.5 198.5,609.3 200.5,609.9 202.6,609.7 204.6,609.8 206.7,610.3 208.7,609.2 210.8,610.6 212.8,610.3 214.9,609.8 216.9,609.8 219,609.8 221,610.7 223.1,609.5 225.1,610.5 227.2,610.4 229.2,610.4 231.2,610.4 233.3,610.7 235.3,609.8 237.4,610.3 239.4,610 241.5,611.2 243.5,610.5 245.6,610.7 247.6,610.5 249.7,610.5 251.7,610.4 253.8,610.7 255.8,610.7 257.9,610.7 259.9,610.7 262,610.8 264,611 266,610.7 268.1,611.3 270.1,610 272.2,610.3 274.2,610 276.3,610.8 278.3,611.6 280.4,612 282.4,611.8 284.5,611.6 286.5,611.5 288.6,611.6 290.6,611.3 292.7,612.7 294.7,611.3 296.8,612 298.8,612.1 300.8,613.2 302.9,612.6 304.9,613.4 307,612.8 309,612.8 311.1,613 313.1,613.3 315.2,613.6 317.2,613.8 319.3,613.3 321.3,613.6 323.4,613.7 325.4,612.7 327.5,613.6 329.5,614.4 331.6,615.4 333.6,615.8 335.6,614.8 337.7,614.1 339.7,614.9 341.8,615.3 343.8,615 345.9,614.8 347.9,614.4 350,614.9 352,615.3 354.1,614.9 356.1,615.6 358.2,616.1 360.2,616.1 362.3,615.8 364.3,615.8 366.4,615.7 368.4,615.7 370.5,614.6 372.5,615.3 374.5,616.8 376.6,617 378.6,616.3 380.7,616.6 382.7,615.3 384.8,616.3 386.8,616.6 388.9,616.5 390.9,616.7 393,616.4 395,616.8 397.1,636.5 399.1,674.9 401.2,718.2 403.2,761.1 405.3,802.3 407.3,840 409.3,873.1 411.4,900.9 413.4,921.7 415.5,937.6 417.5,947.3 419.6,958.9 421.6,972.5 423.7,967.9 425.7,965.8 427.8,975 429.8,976.8 431.9,975.3 433.9,979.2 436,978.8 438,979.8 440.1,978.7 442.1,980.4 444.1,977 446.2,980.5 448.2,982.2 450.3,984.8 452.3,982.5 454.4,983.8 456.4,981.2 458.5,975.6 460.5,967.6 462.6,976.6 464.6,978.2 466.7,977.6 468.7,983.6 470.8,980.2 472.8,977.4 474.9,980.2 476.9,980.9 478.9,978.7 481,980 483,980.3 485.1,979.3 487.1,982.2 489.2,977.8 491.2,981.2 493.3,981.2 495.3,982 497.4,986.2 499.4,985.3 501.5,982.8 503.5,981.7 505.6,979.4 507.6,976.2 509.7,979.1 511.7,981.3 513.7,982.7 515.8,979.3 517.8,982.3 519.9,979.7 521.9,974.5 524,978.6 526,977.8 528.1,979.1 530.1,983.3 532.2,952.5 534.2,956.8 536.3,966.3 538.3,973.5 540.4,980.6 542.4,981.1 544.5,979.3 546.5,982.2 548.5,983.3 550.6,981.2 552.6,980.9 554.7,981.6 556.7,981.1 558.8,980.7 560.8,981.2 562.9,981.6 564.9,979.1 567,983.8 569,977.2 571.1,977.5 573.1,981.3 575.2,980.3 577.2,979.9 579.3,983.9 581.3,982.5 583.3,981.2 585.4,967.2 587.4,974.1 589.5,979.6 591.5,980.4 593.6,977.6 595.6,982.8 597.7,977.4 599.7,981.8 601.8,982.8 603.8,983.9 605.9,983 607.9,982.7 610,984.7 612,980 614.1,980.4 616.1,981.9 618.1,985 620.2,984 622.2,983.5 624.3,981.7 626.3,982.9 628.4,984.9 630.4,982.8 632.5,981.6 634.5,981.9 636.6,980.8 638.6,983.4 640.7,985.4 642.7,981.3 644.8,980.8 646.8,984.5 648.9,975.6 650.9,979.7 653,979 655,980 657,983.9 659.1,984.4 661.1,983.1 663.2,985 665.2,985.1 667.3,984.6 669.3,983.3 671.4,974.2 673.4,978.8 675.5,980.2 677.5,978.8 679.6,980.1 681.6,977 683.7,974.5 685.7,978.5 687.8,981.6 689.8,980.8 691.8,981.1 693.9,980.5 695.9,981.6 698,982.8 700,983.2 702.1,984.5 704.1,981.4 706.2,981 708.2,980 710.3,981.2 712.3,973.1 714.4,975.2 716.4,980.8 718.5,983.1 720.5,980 722.6,980.5 724.6,981.1 726.6,974.6 728.7,978.7 730.7,979.9 732.8,980.2 734.8,983.4 736.9,981.5 738.9,980.8 741,981.9 743,950.7 745.1,932.2 747.1,953.8 749.2,964.9 751.2,968.4 753.3,972.4 755.3,977.5 757.4,980.8 759.4,978.7 761.4,978.7 763.5,980 765.5,982.6 767.6,980.5 769.6,979.9 771.7,982.3 773.7,983.4 775.8,982.9 777.8,981.6 779.9,981 781.9,980.7 784,981.6 786,982.7 788.1,981.3 790.1,979.8 792.2,981.1 794.2,980.3 796.2,981.6 798.3,964.4 800.3,965.3 802.4,971.8 804.4,978.3 806.5,978.8 808.5,980.7 810.6,980.1 812.6,979.3 814.7,974.9 816.7,978.5 818.8,979 820.8,982.1 822.9,980.2 824.9,978.5 827,979.7 829,978.3 831,981.5 833.1,984.7 835.1,981 837.2,977.2 839.2,975.4 841.3,963.8 843.3,970.7 845.4,962.7 847.4,972.3 849.5,971.5 851.5,974.3 853.6,980.2 855.6,979.3 857.7,980.2 859.7,978.8 861.8,972.2 863.8,975.9 865.8,978.4 867.9,975.9 869.9,978.5 872,979.8 874,984.5 876.1,978.8 878.1,980.5 880.2,980.4 882.2,979.3 884.3,980.2 886.3,978.1 888.4,980.4 890.4,979.8 892.5,980.3 894.5,979.6 896.6,980 898.6,979.8 900.6,980.1 902.7,980.3 904.7,979.5 906.8,981.8 908.8,982.4 910.9,981.1 912.9,980.6 915,978.4 917,978.6 919.1,969.3 921.1,505.4 923.2,505.4 925.2,721.9 927.3,830.1 929.3,898.1 931.4,938.4 933.4,960 935.5,972.4 937.5,973.4 939.5,977.8 941.6,981.8 943.6,980.7 945.7,980.6 947.7,979 949.8,978.3 951.8,983.9 953.9,984.1 955.9,981 958,981.9 960,978.8 962.1,977.5 964.1,975.7 966.2,979.2 968.2,978 970.3,978.6 972.3,979.6 974.3,980.9 976.4,978.3 978.4,978.3 980.5,975.5 982.5,977.9 984.6,982.1 986.6,979.3 988.7,973.2 990.7,978 992.8,975.5 994.8,978.2 996.9,981.2 998.9,951.6 1001,957.2 1003,954.6 1005.1,966.4 1007.1,970.5 1009.1,977.3 1011.2,978.4 1013.2,978.2 1015.3,979.2 1017.3,979.1 1019.4,981 1021.4,981.2 1023.5,979.6 1025.5,980.6 1027.6,978.3 1029.6,980.5 1031.7,979.8 1033.7,980.5 1035.8,978 1037.8,981.3 1039.9,978.6 1041.9,977.4 1043.9,978.3 1046,976.9 1048,981 1050.1,983.4 1052.1,981.8 1054.2,971 1056.2,973.1 1058.3,977.1 1060.3,978.7 1062.4,979.1 1064.4,975.7 1066.5,979.4 1068.5,978.8 1070.6,978.4 1072.6,976 1074.7,981.2 1076.7,983.3 1078.7,980.4 1080.8,981.3 1082.8,971.8 1084.9,972.5 1086.9,961.2 1089,972.5 1091,973.3 1093.1,974.8 1095.1,975.5 1097.2,974.6 1099.2,978.9 1101.3,981.4 1103.3,978.9 1105.4,977.3 1107.4,979.1 1109.5,978.4 1111.5,965.5 1113.5,956.5 1115.6,961.2 1117.6,972.9 1119.7,963.8 1121.7,969.3 1123.8,974.7 1125.8,974.2 1127.9,978 1129.9,979 1132,979.2 1134,976.5 1136.1,978.5 1138.1,979.3 1140.2,960.3 1142.2,943.8 1144.3,960 1146.3,966.5 1148.3,970.4 1150.4,976.1 1152.4,977 1154.5,976.7 1156.5,969.3 1158.6,944.5 1160.6,922.9 1162.7,911.8 1164.7,919.8 1166.8,926 1168.8,922.9 1170.9,927.5 1172.9,921.3 1175,932.2 1177,938.4 1179.1,947.6 1181.1,956.9 1183.1,963.1 1185.2,966.2 1187.2,968.7 1189.3,972 1191.3,976.4 1193.4,977 1195.4,954.7 1197.5,962.4 1199.5,973.4 1201.6,974.4 1203.6,976.4 1205.7,979.2 1207.7,970.7 1209.8,961.8 1211.8,965.5 1213.9,972.5 1215.9,974.2"/>
<polyline stroke="#ee3377" points="194.4,570.3 196.4,594.3 198.5,605.2 200.5,612.3 202.6,614.4 204.6,615.7 206.7,615.4 208.7,615.9 210.8,616.5 212.8,616.9 214.9,616 216.9,616.1 219,616.5 221,616.7 223.1,617.6 225.1,616.6 227.2,616.9 229.2,616.6 231.2,615.8 233.3,616.5 235.3,616.6 237.4,616.2 239.4,616.6 241.5,616.6 243.5,617.3 245.6,617.4 247.6,617.8 249.7,616.7 251.7,616.3 253.8,617 255.8,617.1 257.9,617.3 259.9,615.9 262,616.4 264,617.1 266,616.9 268.1,616.6 270.1,617.7 272.2,617.2 274.2,617.1 276.3,617.4 278.3,617.2 280.4,617 282.4,617.5 284.5,617.9 286.5,617.4 288.6,617.7 290.6,617.7 292.7,617 294.7,617.5 296.8,618 298.8,618.7 300.8,618.2 302.9,618.1 304.9,618 307,618 309,618 311.1,618.2 313.1,618.4 315.2,618.3 317.2,618.9 319.3,619.2 321.3,619.4 323.4,618.9 325.4,619.7 327.5,619.4 329.5,619.2 331.6,618.9 333.6,619.5 335.6,619.2 337.7,619.2 339.7,619.5 341.8,619.3 343.8,619.4 345.9,619.9 347.9,619.8 350,620 352,618.8 354.1,619.5 356.1,619.9 358.2,620.5 360.2,620 362.3,619.7 364.3,619.8 366.4,620.6 368.4,620.7 370.5,620.8 372.5,620.2 374.5,620.6 376.6,620.4 378.6,619.5 380.7,621 382.7,620.7 384.8,620.5 386.8,621.2 388.9,620.3 390.9,620.7 393,620.5 395,620.1 397.1,621.4 399.1,647.7 401.2,691 403.2,734.2 405.3,777.5 407.3,819.3 409.3,857.9 411.4,892 413.4,919.8 415.5,939.9 417.5,945.2 419.6,965.1 421.6,971.6 423.7,978.9 425.7,981.9 427.8,977.2 429.8,983.1 431.9,988.1 433.9,983.4 436,982.4 438,987.5 440.1,987.6 442.1,990.2 444.1,991.9 446.2,990.1 448.2,991.4 450.3,992 452.3,990.6 454.4,990 456.4,990.7 458.5,989.1 460.5,991.2 462.6,991.3 464.6,990 466.7,988.3 468.7,988.3 470.8,989.6 472.8,985.2 474.9,989.4 476.9,988.1 478.9,990.2 481,988.5 483,990.8 485.1,993.6 487.1,991.1 489.2,991.7 491.2,992.7 493.3,992.2 495.3,990.8 497.4,988.7 499.4,992.1 501.5,991.7 503.5,991.6 505.6,993.4 507.6,991.6 509.7,992.7 511.7,989.2 513.7,988.5 515.8,991.1 517.8,991.8 519.9,992.6 521.9,991 524,992.6 526,993.6 528.1,993.9 530.1,992.9 532.2,992.7 534.2,993.9 536.3,992.7 538.3,993.9 540.4,993.5 542.4,993.1 544.5,993.3 546.5,993.4 548.5,993.4 550.6,994.1 552.6,989.9 554.7,985 556.7,989.4 558.8,992 560.8,992.1 562.9,992.9 564.9,993.2 567,993.1 569,993.5 571.1,994.4 573.1,993.8 575.2,994.7 577.2,991.1 579.3,989 581.3,991.6 583.3,993.3 585.4,993.3 587.4,994 589.5,994.8 591.5,994.2 593.6,994.4 595.6,994 597.7,994.7 599.7,993.5 601.8,993.4 603.8,995.7 605.9,996.4 607.9,995.9 610,994.1 612,994.3 614.1,989.4 616.1,991.6 618.1,993.8 620.2,993.9 622.2,984.5 624.3,988.3 626.3,991.2 628.4,993 630.4,994 632.5,993.9 634.5,993.3 636.6,995.6 638.6,994.6 640.7,995.2 642.7,994.1 644.8,994.2 646.8,995.5 648.9,995.2 650.9,994.3 653,994 655,995.3 657,995.9 659.1,995.2 661.1,994.4 663.2,994.5 665.2,994.9 667.3,994.9 669.3,994.9 671.4,995.2 673.4,995.9 675.5,995 677.5,995 679.6,994.8 681.6,995.3 683.7,995.7 685.7,995 687.8,994.8 689.8,994.2 691.8,996 693.9,995.8 695.9,995.7 698,994.2 700,996.6 702.1,995.2 704.1,995.9 706.2,996.2 708.2,995.2 710.3,995 712.3,997.3 714.4,996.7 716.4,995.7 718.5,995.7 720.5,994.9 722.6,995.9 724.6,995.8 726.6,996.9 728.7,995.6 730.7,995.6 732.8,995.3 734.8,996 736.9,994.7 738.9,992.6 741,987.5 743,990.2 745.1,991.3 747.1,992.9 749.2,994.4 751.2,995.9 753.3,995.1 755.3,995.4 757.4,994.9 759.4,994.7 761.4,996.5 763.5,996.2 765.5,995.7 767.6,995.4 769.6,995.8 771.7,996.3 773.7,992 775.8,993.2 777.8,995.1 779.9,996 781.9,996.3 784,996.2 786,995.3 788.1,996.1 790.1,995.7 792.2,995.3 794.2,995.3 796.2,995.8 798.3,996.1 800.3,996.2 802.4,996.3 804.4,991.7 806.5,993.1 808.5,994 810.6,995.4 812.6,996.1 814.7,996 816.7,996 818.8,995.7 820.8,996 822.9,996.1 824.9,997 827,996.4 829,995.9 831,996.3 833.1,991 835.1,993.2 837.2,994.8 839.2,995.1 841.3,984.2 843.3,988.1 845.4,991.9 847.4,994 849.5,994.4 851.5,994.5 853.6,995.9 855.6,988 857.7,991.6 859.7,993 861.8,994.9 863.8,995.6 865.8,995.9 867.9,985.3 869.9,990.3 872,992.6 874,994.4 876.1,994.1 878.1,994.7 880.2,996 882.2,996.4 884.3,996.1 886.3,996.6 888.4,996.7 890.4,996.2 892.5,995.9 894.5,996.1 896.6,995.7 898.6,996.3 900.6,996.5 902.7,996.7 904.7,996.7 906.8,996.9 908.8,995.9 910.9,996 912.9,996.5 915,996.5 917,996.9 919.1,984.7 921.1,916.7 923.2,950.7 925.2,969.2 927.3,980.8 929.3,987.1 931.4,990 933.4,990.3 935.5,988.2 937.5,991.5 939.5,993.9 941.6,995.3 943.6,996.1 945.7,996.5 947.7,996.3 949.8,997.5 951.8,997.4 953.9,997.4 955.9,990.6 958,991.5 960,993.2 962.1,995 964.1,995.1 966.2,996.7 968.2,995.6 970.3,996.9 972.3,996.8 974.3,997.1 976.4,996.9 978.4,996.1 980.5,996.2 982.5,996.9 984.6,996.6 986.6,996 988.7,996.3 990.7,996.8 992.8,996.6 994.8,996.6 996.9,997.5 998.9,997.2 1001,996.8 1003,996 1005.1,996.3 1007.1,996.6 1009.1,997.5 1011.2,997.1 1013.2,997.5 1015.3,996.9 1017.3,997.1 1019.4,996.5 1021.4,996.8 1023.5,996.8 1025.5,996.7 1027.6,995.7 1029.6,995.4 1031.7,996.2 1033.7,996.3 1035.8,979.8 1037.8,981.2 1039.9,987.8 1041.9,991.2 1043.9,994.2 1046,994.8 1048,996.2 1050.1,996.4 1052.1,996.7 1054.2,997.1 1056.2,996.7 1058.3,996.8 1060.3,996.5 1062.4,996.6 1064.4,997.1 1066.5,996.7 1068.5,996.7 1070.6,994.5 1072.6,980.6 1074.7,986.8 1076.7,991.3 1078.7,993 1080.8,994.7 1082.8,989.3 1084.9,992.1 1086.9,993.2 1089,994 1091,993.2 1093.1,994.1 1095.1,995.5 1097.2,996.1 1099.2,997.1 1101.3,996.4 1103.3,996.7 1105.4,997.6 1107.4,996.7 1109.5,997 1111.5,997.3 1113.5,997.8 1115.6,996.5 1117.6,997.4 1119.7,986.1 1121.7,990.9 1123.8,993.7 1125.8,994.5 1127.9,995.4 1129.9,996 1132,981.3 1134,982.8 1136.1,988.4 1138.1,991.5 1140.2,994 1142.2,995.2 1144.3,995.8 1146.3,997.4 1148.3,996.9 1150.4,996.4 1152.4,996.7 1154.5,996.9 1156.5,996.9 1158.6,996.7 1160.6,997.8 1162.7,997.6 1164.7,997.7 1166.8,997.9 1168.8,997 1170.9,997.6 1172.9,997.3 1175,997.1 1177,996.8 1179.1,997 1181.1,997.5 1183.1,997.9 1185.2,997.2 1187.2,997.6 1189.3,997.2 1191.3,996.9 1193.4,996.5 1195.4,997.5 1197.5,996.8 1199.5,996.3 1201.6,997.5 1203.6,996.9 1205.7,996.6 1207.7,997.6 1209.8,997.2 1211.8,997.2 1213.9,992.7 1215.9,988.8"/>
<polyline stroke="#33bbee" points="194.4,601.3 196.4,608.2 198.5,611.4 200.5,611.7 202.6,612.5 204.6,612.4 206.7,611.8 208.7,613.2 210.8,612.6 212.8,613 214.9,612.4 216.9,612.8 219,612.9 221,612.7 223.1,613.1 225.1,613 227.2,613.1 229.2,612.4 231.2,612.7 233.3,613.7 235.3,613.1 237.4,613 239.4,613.1 241.5,612.6 243.5,612.6 245.6,613.8 247.6,612.8 249.7,613.4 251.7,613.6 253.8,613.7 255.8,613.6 257.9,613.2 259.9,614 262,613.8 264,614 266,613.9 268.1,614 270.1,613.6 272.2,613.4 274.2,614.2 276.3,613.8 278.3,614.6 280.4,614.1 282.4,613.6 284.5,614 286.5,612.9 288.6,613.5 290.6,614.3 292.7,614 294.7,614.4 296.8,614 298.8,614.2 300.8,614.2 302.9,615.5 304.9,615 307,614.2 309,613.9 311.1,613.9 313.1,614.1 315.2,613.8 317.2,613.8 319.3,614 321.3,613.8 323.4,613.9 325.4,614.6 327.5,614.3 329.5,614.1 331.6,614.5 333.6,615.5 335.6,615.1 337.7,614.7 339.7,615.9 341.8,615.8 343.8,615.7 345.9,614.3 347.9,614.3 350,614.9 352,614.5 354.1,614.7 356.1,615.6 358.2,615.4 360.2,614.7 362.3,615.1 364.3,614 366.4,615 368.4,615.3 370.5,615.3 372.5,615.2 374.5,615.3 376.6,614.7 378.6,614.1 380.7,615.1 382.7,616 384.8,615.8 386.8,615.5 388.9,614.7 390.9,614.9 393,615.3 395,614.2 397.1,615.7 399.1,616.2 401.2,615.1 403.2,615.2 405.3,615.5 407.3,616.3 409.3,615.7 411.4,615.6 413.4,616.1 415.5,615.9 417.5,616.6 419.6,615.6 421.6,616.4 423.7,615.6 425.7,616.4 427.8,616.6 429.8,616.3 431.9,616.6 433.9,615.9 436,616.5 438,616.2 440.1,615.9 442.1,615.7 444.1,615.7 446.2,616.2 448.2,615.4 450.3,616.1 452.3,616.6 454.4,616.4 456.4,615.5 458.5,617 460.5,616.9 462.6,616 464.6,616.3 466.7,617.2 468.7,616.5 470.8,616.4 472.8,616.7 474.9,617.4 476.9,617.1 478.9,617.2 481,616.3 483,617.2 485.1,617.9 487.1,617.1 489.2,617.1 491.2,616.4 493.3,618 495.3,617.5 497.4,616.8 499.4,617.1 501.5,617 503.5,617.5 505.6,616.5 507.6,617.6 509.7,617.4 511.7,617.4 513.7,617.4 515.8,617.1 517.8,617.4 519.9,617.4 521.9,617.2 524,617.3 526,617 528.1,617.8 530.1,616.8 532.2,618.2 534.2,618.6 536.3,618.3 538.3,618.4 540.4,617.6 542.4,620.4 544.5,653.8 546.5,715.7 548.5,765.2 550.6,808.5 552.6,839.4 554.7,814.7 556.7,780.6 558.8,845.6 560.8,820.8 562.9,799.5 564.9,849.4 567,892.3 569,921.5 571.1,927.9 573.1,957.3 575.2,962.4 577.2,968.8 579.3,965.8 581.3,971.4 583.3,975.2 585.4,977.4 587.4,975.4 589.5,978.3 591.5,974.8 593.6,975.1 595.6,976.8 597.7,976.1 599.7,976.5 601.8,974.2 603.8,978.1 605.9,979.8 607.9,976.1 610,972.9 612,973.2 614.1,976.6 616.1,967.3 618.1,971.1 620.2,972.4 622.2,977.6 624.3,975.1 626.3,973.4 628.4,979.1 630.4,979.8 632.5,980.3 634.5,984.2 636.6,980.4 638.6,983.7 640.7,981.3 642.7,978.5 644.8,974.8 646.8,969.3 648.9,963.1 650.9,944.5 653,914.2 655,938.4 657,952.1 659.1,965.5 661.1,969.1 663.2,963 665.2,963.1 667.3,970.9 669.3,978 671.4,977.3 673.4,951.9 675.5,954.2 677.5,953.3 679.6,965.7 681.6,951.9 683.7,962.4 685.7,968 687.8,972.2 689.8,975.9 691.8,977 693.9,976.6 695.9,977.1 698,983.4 700,983.4 702.1,977.9 704.1,977.4 706.2,981.8 708.2,984.2 710.3,981.8 712.3,982.4 714.4,983.2 716.4,983.1 718.5,969.3 720.5,974.9 722.6,973.9 724.6,977.8 726.6,980.6 728.7,977 730.7,978.3 732.8,980.1 734.8,978.9 736.9,981.5 738.9,983.6 741,983.9 743,984 745.1,983.5 747.1,978.7 749.2,978.1 751.2,979.4 753.3,982.5 755.3,983.3 757.4,963.1 759.4,965 761.4,969.3 763.5,971.6 765.5,978.4 767.6,960 769.6,947.6 771.7,960 773.7,968.7 775.8,976.8 777.8,962.1 779.9,967.4 781.9,974.2 784,978.9 786,978.2 788.1,977.4 790.1,978.9 792.2,980.2 794.2,984.8 796.2,982.4 798.3,972 800.3,973.6 802.4,979 804.4,978.3 806.5,981.4 808.5,981.4 810.6,982.9 812.6,979.7 814.7,977.4 816.7,974.8 818.8,979.3 820.8,982.6 822.9,982 824.9,981.7 827,981.8 829,983.7 831,982.3 833.1,981.2 835.1,982.6 837.2,984 839.2,983.2 841.3,938.4 843.3,786.8 845.4,888.9 847.4,932.2 849.5,950.7 851.5,966.6 853.6,967.1 855.6,975.3 857.7,961.9 859.7,963.1 861.8,971.9 863.8,950.7 865.8,947.6 867.9,949.2 869.9,964.8 872,973.2 874,974.9 876.1,978.8 878.1,981.6 880.2,938.4 882.2,783.7 884.3,876.5 886.3,926 888.4,950.7 890.4,963.1 892.5,969.7 894.5,975.8 896.6,979.3 898.6,974.2 900.6,978.5 902.7,978.9 904.7,982.6 906.8,981.7 908.8,978.4 910.9,982.6 912.9,986.1 915,984.5 917,973.6 919.1,959 921.1,971.2 923.2,979 925.2,979.9 927.3,981.9 929.3,980 931.4,981.3 933.4,979.3 935.5,982.4 937.5,979.4 939.5,982.6 941.6,984.5 943.6,965.8 945.7,972.1 947.7,978.9 949.8,978.1 951.8,979.9 953.9,983 955.9,981.4 958,970.8 960,977.5 962.1,982 964.1,979.6 966.2,981.5 968.2,985.5 970.3,986.6 972.3,984.2 974.3,981.9 976.4,985.1 978.4,981.6 980.5,983.9 982.5,980.5 984.6,985.4 986.6,984.7 988.7,980.8 990.7,980.8 992.8,985 994.8,983.6 996.9,985.8 998.9,980.9 1001,972.4 1003,938.4 1005.1,954.5 1007.1,967.1 1009.1,970.7 1011.2,977.4 1013.2,979.6 1015.3,985.2 1017.3,983 1019.4,982.7 1021.4,977.2 1023.5,972.3 1025.5,978.6 1027.6,980.9 1029.6,984 1031.7,986 1033.7,983.6 1035.8,981.4 1037.8,983.2 1039.9,981.4 1041.9,983.8 1043.9,982.3 1046,985.6 1048,986.4 1050.1,956.9 1052.1,968.1 1054.2,972.8 1056.2,978.2 1058.3,982.2 1060.3,981.4 1062.4,983.4 1064.4,981.4 1066.5,981.4 1068.5,979.9 1070.6,967.1 1072.6,973.4 1074.7,975.9 1076.7,977.9 1078.7,972.9 1080.8,977.7 1082.8,978.5 1084.9,980.5 1086.9,981.5 1089,985.6 1091,985.2 1093.1,985.1 1095.1,983.1 1097.2,985.5 1099.2,985 1101.3,983 1103.3,985.4 1105.4,983.3 1107.4,985 1109.5,969.3 1111.5,938.4 1113.5,955.7 1115.6,966.8 1117.6,972.6 1119.7,982.8 1121.7,979.3 1123.8,977.1 1125.8,981.7 1127.9,983.5 1129.9,974.5 1132,979.8 1134,980.5 1136.1,978.9 1138.1,982.3 1140.2,985.1 1142.2,988.9 1144.3,987.9 1146.3,981.6 1148.3,981.5 1150.4,984.7 1152.4,985.7 1154.5,985.1 1156.5,985.1 1158.6,986.6 1160.6,985.2 1162.7,982.8 1164.7,981.9 1166.8,983.2 1168.8,982.9 1170.9,979.9 1172.9,984.6 1175,982.7 1177,982.6 1179.1,975.5 1181.1,505.4 1183.1,505.4 1185.2,505.4 1187.2,505.4 1189.3,505.4 1191.3,505.4 1193.4,505.4 1195.4,505.4 1197.5,582.7 1199.5,726.5 1201.6,814.7 1203.6,887.6 1205.7,922.9 1207.7,947.6 1209.8,960 1211.8,969.3 1213.9,972.4 1215.9,975.5"/>
<polyline stroke="#cc3311" points="194.4,579.6 196.4,604.4 198.5,609 200.5,613.9 202.6,615 204.6,614.9 206.7,614.8 208.7,615.9 210.8,615.8 212.8,614.2 214.9,615.7 216.9,615.7 219,615.4 221,616.5 223.1,615.8 225.1,615.1 227.2,615.5 229.2,616.1 231.2,615.7 233.3,616.1 235.3,615.7 237.4,615.7 239.4,615.7 241.5,616.2 243.5,615.2 245.6,615.5 247.6,615.4 249.7,615.6 251.7,615.9 253.8,615.7 255.8,615.8 257.9,615.7 259.9,615.8 262,616.1 264,616 266,615.9 268.1,615.6 270.1,616.3 272.2,615.7 274.2,617.2 276.3,617 278.3,616.5 280.4,616.7 282.4,616.2 284.5,617.4 286.5,617.4 288.6,617.6 290.6,616.8 292.7,615.9 294.7,617 296.8,617 298.8,617.3 300.8,616.5 302.9,616.4 304.9,616.3 307,617.1 309,617 311.1,617.2 313.1,617.3 315.2,617.2 317.2,616.8 319.3,617.8 321.3,616.5 323.4,616.8 325.4,616 327.5,616.1 329.5,616.7 331.6,616.8 333.6,616.6 335.6,617.5 337.7,616.8 339.7,617.1 341.8,617.1 343.8,617.6 345.9,617.5 347.9,617.8 350,618 352,617.5 354.1,617.1 356.1,617.3 358.2,618.2 360.2,617.9 362.3,618 364.3,617.9 366.4,618.1 368.4,618.1 370.5,617.7 372.5,617.9 374.5,617.9 376.6,618.1 378.6,618.4 380.7,618.3 382.7,618.8 384.8,618.1 386.8,618.1 388.9,618.1 390.9,617.6 393,618.5 395,617.7 397.1,617.7 399.1,617.9 401.2,618.6 403.2,618.2 405.3,618.4 407.3,618.7 409.3,618.3 411.4,618.1 413.4,618.6 415.5,618.4 417.5,616.5 419.6,618.2 421.6,618 423.7,618.3 425.7,618.6 427.8,618.1 429.8,618.9 431.9,619.3 433.9,618.6 436,618.2 438,618.4 440.1,617.8 442.1,618.3 444.1,618.1 446.2,618.9 448.2,617.7 450.3,618.3 452.3,618.3 454.4,618 456.4,618.5 458.5,617.6 460.5,617.1 462.6,616 464.6,616.4 466.7,615.9 468.7,615.6 470.8,615.6 472.8,615.6 474.9,614.7 476.9,615.2 478.9,615.1 481,614.2 483,613.6 485.1,613.5 487.1,613.1 489.2,613 491.2,611.8 493.3,611.3 495.3,609.8 497.4,615.6 499.4,625.9 501.5,644.3 503.5,670.2 505.6,697 507.6,718.9 509.7,738 511.7,757.6 513.7,776.6 515.8,791.9 517.8,809.1 519.9,825.1 521.9,849.7 524,868.5 526,891.6 528.1,884.5 530.1,903.5 532.2,915.3 534.2,926.6 536.3,907.4 538.3,890.7 540.4,916.7 542.4,920.9 544.5,939.6 546.5,945.1 548.5,939.7 550.6,947.6 552.6,955.2 554.7,957.7 556.7,958.4 558.8,961.1 560.8,967.9 562.9,962.7 564.9,964.1 567,966.4 569,968.7 571.1,972.6 573.1,967.8 575.2,974.3 577.2,975.7 579.3,977 581.3,973.6 583.3,974.6 585.4,978.5 587.4,977.5 589.5,978.7 591.5,975.2 593.6,975.1 595.6,972.6 597.7,973.1 599.7,975.1 601.8,974.9 603.8,953.2 605.9,963.6 607.9,957.2 610,946.4 612,961.1 614.1,966.7 616.1,969.4 618.1,970.7 620.2,976.8 622.2,977.1 624.3,972.2 626.3,975 628.4,977.2 630.4,975.4 632.5,978.8 634.5,977.1 636.6,976.8 638.6,981.1 640.7,981.4 642.7,982.1 644.8,979.7 646.8,980.5 648.9,981.3 650.9,975.2 653,975.9 655,974.7 657,979.8 659.1,979.7 661.1,980.6 663.2,971.1 665.2,977.3 667.3,979.1 669.3,980.5 671.4,980.9 673.4,982.2 675.5,983.8 677.5,979.4 679.6,986 681.6,986 683.7,980.7 685.7,981.4 687.8,983.1 689.8,984.3 691.8,979.5 693.9,981.7 695.9,984.1 698,982.7 700,979.8 702.1,981.9 704.1,982.8 706.2,983 708.2,982.5 710.3,984.7 712.3,984 714.4,982.7 716.4,979.1 718.5,985.3 720.5,984.4 722.6,986.1 724.6,979.4 726.6,985.2 728.7,986.1 730.7,983.2 732.8,982.4 734.8,985.1 736.9,979.1 738.9,981 741,981.7 743,983.6 745.1,986.7 747.1,980.3 749.2,985.2 751.2,985.2 753.3,985.6 755.3,983.3 757.4,985.5 759.4,986.1 761.4,984.2 763.5,983.8 765.5,984.7 767.6,984.6 769.6,983.8 771.7,984.7 773.7,986 775.8,985.4 777.8,983 779.9,982.8 781.9,982.6 784,982.9 786,984.8 788.1,984.9 790.1,984.8 792.2,983.7 794.2,985.7 796.2,983 798.3,983.1 800.3,984.4 802.4,984.1 804.4,983 806.5,984.4 808.5,985.7 810.6,986.6 812.6,987.7 814.7,986.1 816.7,986.6 818.8,985.1 820.8,986.9 822.9,986.4 824.9,988.5 827,981 829,985.4 831,986.4 833.1,984.9 835.1,987.4 837.2,984.7 839.2,982.5 841.3,988.1 843.3,986.4 845.4,983.9 847.4,984.4 849.5,988.2 851.5,988 853.6,986.7 855.6,986 857.7,983.4 859.7,983.2 861.8,982.6 863.8,984.6 865.8,983.5 867.9,985.2 869.9,984.3 872,983.8 874,984.5 876.1,987.6 878.1,987.5 880.2,986.1 882.2,988.8 884.3,987.2 886.3,987.2 888.4,987.1 890.4,985.9 892.5,987.3 894.5,984.3 896.6,984.3 898.6,985.7 900.6,986.1 902.7,985.6 904.7,988 906.8,985.4 908.8,985.9 910.9,985.4 912.9,984.7 915,988.9 917,985.7 919.1,984.4 921.1,985.9 923.2,986.8 925.2,987.5 927.3,985.3 929.3,989.6 931.4,989.2 933.4,988.7 935.5,983.6 937.5,988.7 939.5,984.4 941.6,982.7 943.6,983.6 945.7,984.1 947.7,976.2 949.8,984.2 951.8,985.5 953.9,986 955.9,986 958,979.8 960,971.4 962.1,977.6 964.1,980.3 966.2,986 968.2,984.5 970.3,983 972.3,985 974.3,985.1 976.4,990.3 978.4,986.2 980.5,986.9 982.5,986.9 984.6,984.1 986.6,987 988.7,983.1 990.7,988.2 992.8,986.7 994.8,986.9 996.9,986.6 998.9,985.6 1001,986.8 1003,986.6 1005.1,982.7 1007.1,983 1009.1,984.7 1011.2,980.1 1013.2,981.7 1015.3,984.8 1017.3,980.9 1019.4,979.1 1021.4,982.4 1023.5,984.7 1025.5,987.5 1027.6,988.4 1029.6,985.5 1031.7,988.6 1033.7,985.2 1035.8,986.7 1037.8,987.6 1039.9,987.1 1041.9,988.7 1043.9,989.3 1046,987.9 1048,990.1 1050.1,986.5 1052.1,987.5 1054.2,981.8 1056.2,983.4 1058.3,984.8 1060.3,986.1 1062.4,984 1064.4,976.7 1066.5,980.5 1068.5,983.9 1070.6,986.4 1072.6,986.6 1074.7,987.4 1076.7,989.4 1078.7,989.1 1080.8,990 1082.8,990.3 1084.9,989.2 1086.9,989.5 1089,988.6 1091,989.6 1093.1,987.5 1095.1,988.5 1097.2,987.9 1099.2,988.9 1101.3,988 1103.3,990 1105.4,987.3 1107.4,987 1109.5,987.2 1111.5,987.9 1113.5,988.4 1115.6,988.9 1117.6,990.7 1119.7,988.3 1121.7,988.1 1123.8,986.3 1125.8,985.7 1127.9,988.7 1129.9,987.7 1132,985.8 1134,986.3 1136.1,989.5 1138.1,989.2 1140.2,987.7 1142.2,989.1 1144.3,976.4 1146.3,962.2 1148.3,966.7 1150.4,971.7 1152.4,976.1 1154.5,981.8 1156.5,986.4 1158.6,986.3 1160.6,988.1 1162.7,979.8 1164.7,966 1166.8,972.6 1168.8,979 1170.9,983.1 1172.9,985.2 1175,988.6 1177,988.7 1179.1,988.9 1181.1,989.2 1183.1,990.3 1185.2,985.9 1187.2,980.7 1189.3,983.2 1191.3,985 1193.4,983.4 1195.4,987.4 1197.5,988.6 1199.5,989.6 1201.6,989.5 1203.6,987.3 1205.7,988.9 1207.7,987.1 1209.8,988.2 1211.8,988.3 1213.9,989.6 1215.9,989.1"/>
<polyline stroke="#cc3311" points="194.4,585.8 196.4,605.9 198.5,609.9 200.5,613.6 202.6,614.5 204.6,613 206.7,612.9 208.7,614.2 210.8,614.3 212.8,615.5 214.9,614.2 216.9,614.6 219,614.7 221,614 223.1,615.1 225.1,614.7 227.2,615.4 229.2,615.2 231.2,614.4 233.3,616 235.3,615.8 237.4,614.6 239.4,614.6 241.5,615.3 243.5,614.8 245.6,614.7 247.6,615 249.7,615.8 251.7,615.2 253.8,614.6 255.8,615.6 257.9,614.6 259.9,614.9 262,614.8 264,616.3 266,614.9 268.1,614.8 270.1,614.6 272.2,615.8 274.2,615.5 276.3,615.5 278.3,615.2 280.4,614 282.4,616.1 284.5,615.4 286.5,616 288.6,615.9 290.6,615.4 292.7,616.1 294.7,616.4 296.8,616 298.8,616.1 300.8,616.2 302.9,615.9 304.9,616.1 307,616.1 309,616.2 311.1,615.9 313.1,615.7 315.2,616.5 317.2,616.8 319.3,616.9 321.3,616.4 323.4,616 325.4,616.5 327.5,616.8 329.5,616.9 331.6,617.1 333.6,617 335.6,617.3 337.7,616.8 339.7,616.7 341.8,616.7 343.8,617.5 345.9,616.3 347.9,616.3 350,616.9 352,616.7 354.1,616.6 356.1,617 358.2,618.1 360.2,617.9 362.3,617.7 364.3,616.9 366.4,616.6 368.4,616.8 370.5,617.4 372.5,617 374.5,617.5 376.6,616.7 378.6,617.1 380.7,617.5 382.7,617.8 384.8,617.7 386.8,617.7 388.9,618.8 390.9,617.6 393,617.3 395,617.9 397.1,617.4 399.1,618.2 401.2,618.3 403.2,618.3 405.3,618.4 407.3,618.6 409.3,618.2 411.4,618.3 413.4,618 415.5,618.2 417.5,617.9 419.6,618.3 421.6,618.5 423.7,619.1 425.7,617.9 427.8,617.7 429.8,617.5 431.9,618.4 433.9,618.6 436,618.2 438,618.6 440.1,617.6 442.1,618.3 444.1,617.6 446.2,617.7 448.2,619.1 450.3,618.5 452.3,618.4 454.4,618.9 456.4,618.7 458.5,619 460.5,618.9 462.6,618.2 464.6,618.3 466.7,618.2 468.7,618.7 470.8,618.4 472.8,618.8 474.9,618.1 476.9,618.4 478.9,618.7 481,618.7 483,618.5 485.1,617.6 487.1,618.2 489.2,618.5 491.2,619.1 493.3,618.2 495.3,618.2 497.4,618.6 499.4,618 501.5,618.7 503.5,618.1 505.6,618.9 507.6,619.1 509.7,618.9 511.7,619.1 513.7,618.2 515.8,619.2 517.8,618.8 519.9,618.8 521.9,619 524,619 526,618.2 528.1,619.6 530.1,619.4 532.2,619.5 534.2,618.8 536.3,619.4 538.3,619.4 540.4,619.6 542.4,621.4 544.5,650.7 546.5,712.6 548.5,762.1 550.6,803.8 552.6,842.5 554.7,870.3 556.7,871.9 558.8,866.6 560.8,876.5 562.9,889.3 564.9,909.5 567,928.3 569,949.5 571.1,950.8 573.1,958.9 575.2,962.3 577.2,970.2 579.3,971.3 581.3,976 583.3,972.6 585.4,965.7 587.4,966.5 589.5,973.5 591.5,972.3 593.6,975.9 595.6,979 597.7,969.3 599.7,970.3 601.8,973.2 603.8,977.1 605.9,982.2 607.9,980 610,977.6 612,982.9 614.1,969.6 616.1,972.4 618.1,970.5 620.2,974 622.2,978.1 624.3,976.9 626.3,976.4 628.4,963.1 630.4,960 632.5,972.4 634.5,976.5 636.6,974.7 638.6,981.4 640.7,979.9 642.7,981.1 644.8,982.1 646.8,979.2 648.9,979.2 650.9,982 653,979.1 655,978.1 657,980 659.1,976.8 661.1,975.5 663.2,938.4 665.2,870.9 667.3,885.8 669.3,904.3 671.4,929.1 673.4,953.8 675.5,969.3 677.5,978.6 679.6,983.7 681.6,987.1 683.7,981.4 685.7,980.2 687.8,975.5 689.8,972.4 691.8,973 693.9,980.3 695.9,978.3 698,977.9 700,974.1 702.1,978.7 704.1,981.9 706.2,980.8 708.2,980.2 710.3,984.7 712.3,982.8 714.4,981.9 716.4,974.6 718.5,963.1 720.5,972.4 722.6,977.1 724.6,980.2 726.6,980.6 728.7,985.7 730.7,981.2 732.8,982.3 734.8,975.5 736.9,972.4 738.9,977.1 741,981.9 743,978 745.1,965.5 747.1,946.1 749.2,961.8 751.2,971.2 753.3,971.9 755.3,969.3 757.4,953.8 759.4,941.4 761.4,938.4 763.5,938.4 765.5,943 767.6,941.4 769.6,936.8 771.7,936.2 773.7,941.4 775.8,944.5 777.8,949.2 779.9,953.8 781.9,966.3 784,961.5 786,969.2 788.1,967.7 790.1,975.5 792.2,972.4 794.2,974.5 796.2,975.5 798.3,978.9 800.3,981.3 802.4,963.1 804.4,957.8 806.5,969.3 808.5,977.3 810.6,976.1 812.6,976 814.7,978.4 816.7,979.4 818.8,976.9 820.8,976.2 822.9,980.4 824.9,985 827,988 829,985.2 831,988 833.1,982.4 835.1,986.3 837.2,984.8 839.2,986.5 841.3,953.8 843.3,914.2 845.4,912.1 847.4,932.2 849.5,907.4 851.5,880.5 853.6,901.2 855.6,907.4 857.7,897.5 859.7,902.8 861.8,907.4 863.8,913.6 865.8,916.7 867.9,929.1 869.9,941.4 872,950.7 874,956.9 876.1,960 878.1,964.6 880.2,969.3 882.2,963.1 884.3,953.8 886.3,960 888.4,964.6 890.4,967.7 892.5,973.1 894.5,978.8 896.6,981.8 898.6,982 900.6,986.5 902.7,950.7 904.7,950.7 906.8,963.1 908.8,962.4 910.9,973.6 912.9,975.4 915,979.7 917,966.2 919.1,976.6 921.1,977.7 923.2,980.6 925.2,979.8 927.3,969.3 929.3,973.9 931.4,975.6 933.4,985.4 935.5,960 937.5,970.2 939.5,976.8 941.6,972 943.6,963.1 945.7,972.5 947.7,975.7 949.8,947.6 951.8,953.8 953.9,967.7 955.9,972.9 958,972.8 960,965.9 962.1,969.1 964.1,964 966.2,974.2 968.2,976.5 970.3,979.9 972.3,983.4 974.3,982.9 976.4,984.8 978.4,985.4 980.5,988 982.5,972.4 984.6,978.5 986.6,980.6 988.7,982.9 990.7,976.4 992.8,980.2 994.8,982.6 996.9,986.1 998.9,982.3 1001,985.1 1003,982.8 1005.1,980.6 1007.1,984.2 1009.1,963.1 1011.2,952.3 1013.2,947.6 1015.3,947.6 1017.3,960 1019.4,969.4 1021.4,976.1 1023.5,976.9 1025.5,979.7 1027.6,982.9 1029.6,981.8 1031.7,980.5 1033.7,985.5 1035.8,984.3 1037.8,969.3 1039.9,975.8 1041.9,976.5 1043.9,976.3 1046,960 1048,907.4 1050.1,823.3 1052.1,888.9 1054.2,919.8 1056.2,944.5 1058.3,960 1060.3,972.4 1062.4,972.6 1064.4,952.3 1066.5,961.5 1068.5,975.1 1070.6,977.9 1072.6,963.2 1074.7,969.4 1076.7,980.2 1078.7,969.9 1080.8,972.4 1082.8,973.3 1084.9,980.9 1086.9,980.9 1089,982.1 1091,983.1 1093.1,985.6 1095.1,982.5 1097.2,983.6 1099.2,981.5 1101.3,982.6 1103.3,978.9 1105.4,981.6 1107.4,981.1 1109.5,963.1 1111.5,938.4 1113.5,922.9 1115.6,921.3 1117.6,922.9 1119.7,919.8 1121.7,926 1123.8,935.3 1125.8,947.6 1127.9,960 1129.9,969.3 1132,969.3 1134,973.1 1136.1,977.6 1138.1,978.2 1140.2,982.8 1142.2,960 1144.3,950.7 1146.3,944.5 1148.3,953.8 1150.4,969.3 1152.4,978.4 1154.5,982.8 1156.5,985.4 1158.6,982.7 1160.6,982.4 1162.7,976.9 1164.7,982.1 1166.8,981 1168.8,980.7 1170.9,983.3 1172.9,983.1 1175,975.5 1177,979.6 1179.1,969.3 1181.1,876.5 1183.1,734.2 1185.2,845.6 1187.2,922.9 1189.3,947.6 1191.3,950.7 1193.4,932.2 1195.4,921.7 1197.5,932.2 1199.5,941.4 1201.6,938.4 1203.6,935.9 1205.7,947.6 1207.7,963.1 1209.8,972.4 1211.8,975.5 1213.9,972.4 1215.9,963.1"/>
<polyline stroke="#0077bb" points="194.4,588.9 196.4,605.9 198.5,609.8 200.5,613.6 202.6,614 204.6,614.4 206.7,615.5 208.7,615.6 210.8,614 212.8,615.5 214.9,615.2 216.9,615.3 219,615 221,614.7 223.1,615.2 225.1,615.8 227.2,614.8 229.2,613.8 231.2,614.8 233.3,615.7 235.3,612.3 237.4,615.3 239.4,614.5 241.5,615.1 243.5,614.1 245.6,614.4 247.6,615.7 249.7,613.7 251.7,614.2 253.8,615.9 255.8,615.6 257.9,615.8 259.9,613.7 262,614.6 264,614.7 266,613.9 268.1,613.5 270.1,614.8 272.2,614.6 274.2,615.1 276.3,615.1 278.3,615.1 280.4,615.3 282.4,614.5 284.5,614 286.5,616.2 288.6,614.5 290.6,615.4 292.7,615.3 294.7,616.5 296.8,617.1 298.8,615.2 300.8,615.6 302.9,615.6 304.9,615.3 307,616.2 309,614.8 311.1,613.9 313.1,614.2 315.2,614.9 317.2,615.3 319.3,615.2 321.3,615.5 323.4,615.6 325.4,615.9 327.5,616.2 329.5,610.4 331.6,612.6 333.6,613.5 335.6,614.1 337.7,615.5 339.7,615 341.8,616.2 343.8,615.4 345.9,616.3 347.9,615.8 350,614.9 352,613.4 354.1,614.1 356.1,614.9 358.2,616.6 360.2,614.4 362.3,612.2 364.3,612.3 366.4,612.7 368.4,612.4 370.5,612.3 372.5,613.8 374.5,613.4 376.6,612.3 378.6,612.5 380.7,612.3 382.7,610.9 384.8,612.7 386.8,609.4 388.9,610.8 390.9,611.4 393,609.4 395,610 397.1,610.9 399.1,610 401.2,612.1 403.2,609.9 405.3,607 407.3,609.2 409.3,609.5 411.4,609.6 413.4,607.7 415.5,606.7 417.5,607.6 419.6,609 421.6,607.7 423.7,607.3 425.7,608.2 427.8,603.4 429.8,604.4 431.9,601.5 433.9,604.8 436,602.2 438,603.3 440.1,603.2 442.1,605.2 444.1,610.3 446.2,610.3 448.2,608.4 450.3,607.7 452.3,604 454.4,604.5 456.4,605.5 458.5,607 460.5,620.4 462.6,660 464.6,721.9 466.7,762.1 468.7,805.4 470.8,845.6 472.8,876.5 474.9,881.1 476.9,904.3 478.9,912.8 481,921.3 483,927.5 485.1,933.7 487.1,936.8 489.2,940.9 491.2,942.6 493.3,948.1 495.3,951.7 497.4,958.2 499.4,961 501.5,965.7 503.5,967.6 505.6,968.8 507.6,972.4 509.7,974 511.7,972.6 513.7,972.5 515.8,972.4 517.8,971.5 519.9,970 521.9,970.7 524,966.8 526,963.8 528.1,958.4 530.1,954.9 532.2,959 534.2,961.4 536.3,960.8 538.3,961 540.4,959.4 542.4,957.9 544.5,952.8 546.5,956.8 548.5,960.6 550.6,959.3 552.6,956.9 554.7,952.4 556.7,948.9 558.8,957.7 560.8,965.2 562.9,969.1 564.9,968 567,970.2 569,968.5 571.1,965.1 573.1,965 575.2,962 577.2,955.1 579.3,953.3 581.3,954.5 583.3,949.7 585.4,944.6 587.4,939.3 589.5,947.9 591.5,952.1 593.6,948.8 595.6,944.4 597.7,942.3 599.7,939.2 601.8,943 603.8,947.3 605.9,944.6 607.9,944.4 610,947 612,951.3 614.1,951.6 616.1,951 618.1,948 620.2,943.4 622.2,945.5 624.3,944.4 626.3,944.2 628.4,940.4 630.4,948.2 632.5,954 634.5,958.7 636.6,965 638.6,968.8 640.7,970.7 642.7,971.1 644.8,971.9 646.8,970.8 648.9,970 650.9,969 653,967.4 655,963.2 657,958.7 659.1,959.8 661.1,963.2 663.2,965.8 665.2,967.5 667.3,968.5 669.3,948.2 671.4,931.4 673.4,917.4 675.5,908.2 677.5,899 679.6,891 681.6,904.5 683.7,913.5 685.7,928.5 687.8,929 689.8,926.1 691.8,918.6 693.9,926.4 695.9,935.8 698,942.3 700,949.1 702.1,950 704.1,934.8 706.2,926.8 708.2,931.4 710.3,943 712.3,949.9 714.4,959.6 716.4,963.7 718.5,967.9 720.5,966.5 722.6,961.9 724.6,960.1 726.6,954.2 728.7,951.8 730.7,943.2 732.8,930.1 734.8,924.6 736.9,922.3 738.9,912.6 741,903.9 743,913.3 745.1,927.6 747.1,928.6 749.2,932 751.2,931.6 753.3,924.3 755.3,937.2 757.4,943.7 759.4,952 761.4,949.7 763.5,950.1 765.5,948 767.6,940.5 769.6,940.5 771.7,936 773.7,938.2 775.8,945 777.8,948.7 779.9,957.1 781.9,964.8 784,968.8 786,967.2 788.1,969.6 790.1,969.3 792.2,968.2 794.2,963.4 796.2,960.4 798.3,952 800.3,945.6 802.4,937 804.4,948.6 806.5,962.2 808.5,965.8 810.6,969 812.6,971.2 814.7,970.5 816.7,971.8 818.8,971.8 820.8,968.5 822.9,967.8 824.9,964.2 827,962.1 829,959.5 831,956.5 833.1,954.3 835.1,952.6 837.2,951.6 839.2,953.7 841.3,952.1 843.3,954.1 845.4,957.4 847.4,955.2 849.5,953 851.5,947.8 853.6,946.6 855.6,938.8 857.7,941.3 859.7,945.6 861.8,944.5 863.8,949.4 865.8,954.6 867.9,958.8 869.9,962.3 872,966.6 874,968 876.1,966.7 878.1,967.2 880.2,967.7 882.2,965.8 884.3,961.7 886.3,955.3 888.4,947.2 890.4,941.3 892.5,957.8 894.5,970.9 896.6,971 898.6,971 900.6,969.7 902.7,966.2 904.7,966 906.8,967.6 908.8,969.2 910.9,972.3 912.9,970.8 915,966.7 917,965.9 919.1,962.9 921.1,959.9 923.2,955.7 925.2,951 927.3,953.7 929.3,960.3 931.4,963 933.4,961.7 935.5,958.9 937.5,956.8 939.5,952.6 941.6,949.7 943.6,945.5 945.7,937.2 947.7,929.8 949.8,919.2 951.8,917.2 953.9,907.5 955.9,893.6 958,909.6 960,924.8 962.1,939.7 964.1,950.5 966.2,944.2 968.2,942.6 970.3,949 972.3,952.7 974.3,961 976.4,963.1 978.4,965 980.5,967.5 982.5,965.1 984.6,962.9 986.6,961.9 988.7,959.3 990.7,956.3 992.8,951.1 994.8,948 996.9,947.3 998.9,938.9 1001,935.5 1003,924.4 1005.1,905.3 1007.1,886.5 1009.1,858.9 1011.2,827.1 1013.2,809.4 1015.3,797.7 1017.3,785 1019.4,826.3 1021.4,851.4 1023.5,866.1 1025.5,880.5 1027.6,890.1 1029.6,889.9 1031.7,909.4 1033.7,926.3 1035.8,934.2 1037.8,937.4 1039.9,944.7 1041.9,939.3 1043.9,939.6 1046,934.4 1048,935.2 1050.1,945.8 1052.1,954.1 1054.2,953.9 1056.2,959 1058.3,963.3 1060.3,967.6 1062.4,965.8 1064.4,966.1 1066.5,964.6 1068.5,963.3 1070.6,958.9 1072.6,956.7 1074.7,953.1 1076.7,950.1 1078.7,956.5 1080.8,960.7 1082.8,967.8 1084.9,969 1086.9,972.3 1089,973.8 1091,975.9 1093.1,975.8 1095.1,977.3 1097.2,977.6 1099.2,978.7 1101.3,980.4 1103.3,979.1 1105.4,980.2 1107.4,980.4 1109.5,978.7 1111.5,979.6 1113.5,979.4 1115.6,978.1 1117.6,980 1119.7,979.9 1121.7,981 1123.8,981.6 1125.8,982.1 1127.9,980.3 1129.9,980.5 1132,978.4 1134,977.1 1136.1,977.3 1138.1,976.7 1140.2,975.1 1142.2,972.6 1144.3,973.3 1146.3,971.5 1148.3,972.6 1150.4,971.9 1152.4,970 1154.5,968.4 1156.5,966.9 1158.6,968.3 1160.6,965.6 1162.7,964.5 1164.7,960 1166.8,957.3 1168.8,954.8 1170.9,956.3 1172.9,949.9 1175,958.2 1177,961.9 1179.1,966.7 1181.1,966.6 1183.1,967.9 1185.2,970.2 1187.2,971.5 1189.3,972.3 1191.3,971.3 1193.4,971.9 1195.4,972.6 1197.5,975.2 1199.5,975.6 1201.6,977.8 1203.6,979.1 1205.7,981.1 1207.7,982.2 1209.8,984.2 1211.8,986.7 1213.9,989.1 1215.9,991.5"/>
<polyline stroke="#0077bb" points="194.4,592 196.4,604.2 198.5,609.8 200.5,611.5 202.6,612.5 204.6,613.2 206.7,613.1 208.7,613.3 210.8,613.5 212.8,613.9 214.9,613.8 216.9,613.7 219,613.8 221,613.3 223.1,613.8 225.1,613 227.2,614.6 229.2,613.8 231.2,614 233.3,614 235.3,614.3 237.4,614.3 239.4,613.6 241.5,613.3 243.5,613.3 245.6,613.7 247.6,614.6 249.7,614.4 251.7,613.5 253.8,614.1 255.8,613.6 257.9,613.9 259.9,614.1 262,613.4 264,613.9 266,614.3 268.1,614.3 270.1,614.7 272.2,614.3 274.2,613.9 276.3,614.7 278.3,614.4 280.4,614.5 282.4,614.1 284.5,614.6 286.5,614.9 288.6,615 290.6,614.6 292.7,614.8 294.7,615.1 296.8,614.9 298.8,615 300.8,614.6 302.9,615.2 304.9,614.3 307,615.1 309,615 311.1,615.2 313.1,615.1 315.2,615.7 317.2,614.9 319.3,615.5 321.3,615.9 323.4,614.6 325.4,614.8 327.5,615.2 329.5,615 331.6,614.9 333.6,615.5 335.6,615.7 337.7,616.1 339.7,616.1 341.8,615.7 343.8,615.9 345.9,615.4 347.9,615.2 350,615.6 352,616.4 354.1,616 356.1,616.3 358.2,615.3 360.2,615.6 362.3,615.9 364.3,616.1 366.4,615.4 368.4,615.5 370.5,616.1 372.5,616.4 374.5,616.3 376.6,615.8 378.6,615.7 380.7,616.1 382.7,616.2 384.8,616.2 386.8,617.5 388.9,616.9 390.9,616 393,616 395,616.7 397.1,616.9 399.1,617.2 401.2,617.5 403.2,617 405.3,616.3 407.3,617 409.3,617.2 411.4,616.8 413.4,616.4 415.5,616.9 417.5,617.5 419.6,617.3 421.6,616.8 423.7,616.6 425.7,616.3 427.8,616.8 429.8,617.4 431.9,617.4 433.9,617.4 436,617 438,616.6 440.1,617.5 442.1,617 444.1,616.8 446.2,617 448.2,617.7 450.3,617.5 452.3,617.8 454.4,617.9 456.4,617.8 458.5,617.5 460.5,617.2 462.6,618 464.6,617.5 466.7,618 468.7,617.8 470.8,618.5 472.8,617.1 474.9,617.4 476.9,618.2 478.9,618.1 481,618.3 483,617.9 485.1,618 487.1,618.6 489.2,618.8 491.2,618.1 493.3,618.5 495.3,618.6 497.4,620.4 499.4,629.1 501.5,650.7 503.5,678.6 505.6,704.9 507.6,725 509.7,743.5 511.7,763.6 513.7,782.2 515.8,796.1 517.8,814 519.9,827.3 521.9,848.2 524,873.1 526,882.3 528.1,908.3 530.1,929.6 532.2,922.1 534.2,930.5 536.3,930.8 538.3,938.7 540.4,941.5 542.4,942.8 544.5,947.2 546.5,960 548.5,955.7 550.6,952 552.6,961.9 554.7,961 556.7,961.3 558.8,956.7 560.8,963.1 562.9,957 564.9,932.7 567,953.3 569,964 571.1,961.3 573.1,967.2 575.2,960.2 577.2,969.7 579.3,966.8 581.3,970.5 583.3,976.9 585.4,982 587.4,974.2 589.5,978 591.5,974.5 593.6,978.7 595.6,977.9 597.7,977.3 599.7,981.9 601.8,976.7 603.8,977.6 605.9,981.4 607.9,979.8 610,945.4 612,961.1 614.1,963.8 616.1,969 618.1,966.7 620.2,970.2 622.2,976.5 624.3,978.3 626.3,979.9 628.4,983.5 630.4,980.1 632.5,979.5 634.5,979.3 636.6,985.1 638.6,981.5 640.7,984.1 642.7,983.5 644.8,983.7 646.8,982.4 648.9,978.4 650.9,982.2 653,975.7 655,978.7 657,981.4 659.1,983.1 661.1,976 663.2,974.6 665.2,977.6 667.3,976.5 669.3,978.3 671.4,973.5 673.4,977.6 675.5,978.9 677.5,981.6 679.6,980.9 681.6,952.6 683.7,965.8 685.7,965.9 687.8,975.8 689.8,975.7 691.8,980.2 693.9,982.7 695.9,981.5 698,982.3 700,984.1 702.1,982.9 704.1,984.8 706.2,983.2 708.2,984.8 710.3,985.3 712.3,985 714.4,980.3 716.4,985.7 718.5,984.8 720.5,981.4 722.6,981.7 724.6,986.7 726.6,981.5 728.7,981.6 730.7,984.8 732.8,984.1 734.8,981 736.9,982.9 738.9,985.4 741,984.5 743,984.4 745.1,985.9 747.1,984.8 749.2,983 751.2,982.3 753.3,981.8 755.3,982.8 757.4,984.4 759.4,983.1 761.4,984.7 763.5,985.1 765.5,986 767.6,983.8 769.6,988 771.7,985 773.7,979.4 775.8,980.7 777.8,983.8 779.9,983.3 781.9,986.3 784,984.7 786,985.5 788.1,972.1 790.1,979.4 792.2,980.5 794.2,981.4 796.2,984.4 798.3,984.9 800.3,989.3 802.4,987.5 804.4,983.9 806.5,966.5 808.5,969.1 810.6,977.9 812.6,979.2 814.7,984 816.7,966.8 818.8,970.9 820.8,976.6 822.9,979 824.9,982.8 827,985.7 829,984.3 831,986.1 833.1,988 835.1,985.7 837.2,986 839.2,989 841.3,987.2 843.3,972.6 845.4,979 847.4,986.2 849.5,986.9 851.5,986 853.6,984.8 855.6,967.6 857.7,975.2 859.7,981.8 861.8,980.2 863.8,983 865.8,984.7 867.9,985.4 869.9,983.8 872,987.3 874,987.5 876.1,986.9 878.1,987.9 880.2,986.4 882.2,988.5 884.3,985.5 886.3,987.4 888.4,989 890.4,985.4 892.5,987.1 894.5,987.7 896.6,990.2 898.6,988.5 900.6,976.7 902.7,980.9 904.7,983.7 906.8,986.2 908.8,985.5 910.9,986.4 912.9,985.6 915,982.7 917,989.4 919.1,985.1 921.1,987.7 923.2,989.9 925.2,986.2 927.3,989.8 929.3,990.9 931.4,987.8 933.4,988.1 935.5,987.8 937.5,987.2 939.5,987.6 941.6,988.6 943.6,987.3 945.7,987.2 947.7,987.2 949.8,988.6 951.8,989.1 953.9,987.7 955.9,987.7 958,990.3 960,987.3 962.1,983.8 964.1,972.1 966.2,980 968.2,982.5 970.3,985.2 972.3,982.6 974.3,986.2 976.4,987.5 978.4,982.2 980.5,967.6 982.5,977.1 984.6,980.1 986.6,983.1 988.7,985.3 990.7,988.1 992.8,988.3 994.8,989 996.9,988.7 998.9,991.7 1001,991.8 1003,988.3 1005.1,987.7 1007.1,990 1009.1,988.5 1011.2,990 1013.2,990.7 1015.3,989.5 1017.3,970.1 1019.4,974.9 1021.4,981.4 1023.5,985.8 1025.5,987.1 1027.6,986.4 1029.6,987.3 1031.7,986.1 1033.7,986.3 1035.8,987.9 1037.8,989.6 1039.9,988.5 1041.9,989.2 1043.9,989.2 1046,987.1 1048,984.4 1050.1,985.8 1052.1,987.8 1054.2,986.7 1056.2,990.3 1058.3,987.8 1060.3,990.3 1062.4,978.8 1064.4,981.6 1066.5,986.8 1068.5,988.6 1070.6,986.6 1072.6,989.1 1074.7,989 1076.7,987.7 1078.7,964.5 1080.8,974.9 1082.8,980.3 1084.9,984.9 1086.9,987.2 1089,986.4 1091,988.5 1093.1,988.3 1095.1,990.6 1097.2,989 1099.2,990.8 1101.3,984.7 1103.3,987.8 1105.4,987.7 1107.4,987.3 1109.5,985.5 1111.5,990.5 1113.5,989.8 1115.6,969.3 1117.6,932.2 1119.7,904.3 1121.7,932.2 1123.8,953.8 1125.8,967.8 1127.9,974.7 1129.9,983.3 1132,986.8 1134,977 1136.1,983.7 1138.1,986.4 1140.2,989.3 1142.2,984.6 1144.3,988.8 1146.3,977.8 1148.3,982 1150.4,985.8 1152.4,986.2 1154.5,991.3 1156.5,989.6 1158.6,991.8 1160.6,989.7 1162.7,991 1164.7,988.6 1166.8,990.6 1168.8,992.5 1170.9,973.5 1172.9,970 1175,978.2 1177,982.2 1179.1,985.8 1181.1,985.4 1183.1,989.9 1185.2,991.8 1187.2,990.5 1189.3,990.1 1191.3,987.8 1193.4,983.2 1195.4,985 1197.5,981.5 1199.5,958.4 1201.6,966.2 1203.6,974.8 1205.7,977.3 1207.7,981.3 1209.8,986.7 1211.8,987.6 1213.9,984.9 1215.9,988"/>
<polyline stroke="#ff7043" points="194.4,579.6 196.4,599.5 198.5,608.6 200.5,614.1 202.6,615.2 204.6,615.9 206.7,616.3 208.7,616.3 210.8,617.5 212.8,617.5 214.9,617.2 216.9,616.7 219,616.7 221,616.3 223.1,617.2 225.1,616.3 227.2,616.9 229.2,617.2 231.2,617.7 233.3,617.3 235.3,617.4 237.4,618.4 239.4,618.2 241.5,617.7 243.5,617.7 245.6,618.1 247.6,617.8 249.7,617.3 251.7,616.8 253.8,617.4 255.8,617.3 257.9,617.5 259.9,618.2 262,618.4 264,618.5 266,618.5 268.1,617.7 270.1,619 272.2,617.8 274.2,618 276.3,618.2 278.3,617.9 280.4,618.3 282.4,618.1 284.5,617.4 286.5,618.3 288.6,618.2 290.6,617.5 292.7,618.1 294.7,618.5 296.8,618.1 298.8,619 300.8,619.7 302.9,618.6 304.9,618.4 307,618.4 309,618.6 311.1,619.3 313.1,618.1 315.2,618.5 317.2,619 319.3,619 321.3,618.2 323.4,617.9 325.4,618.1 327.5,619 329.5,618.8 331.6,618.2 333.6,619 335.6,619.4 337.7,619 339.7,619.3 341.8,618.5 343.8,619.4 345.9,619 347.9,618.9 350,619 352,619.5 354.1,618.4 356.1,619.6 358.2,619.5 360.2,618.6 362.3,619 364.3,618.7 366.4,618.9 368.4,618.5 370.5,618.5 372.5,618.3 374.5,619.4 376.6,619.2 378.6,619.1 380.7,619.4 382.7,619.2 384.8,619.4 386.8,618.9 388.9,619.6 390.9,619.5 393,619.6 395,620.7 397.1,619.8 399.1,620.3 401.2,619.9 403.2,620 405.3,620.2 407.3,619.8 409.3,619.4 411.4,619.6 413.4,620.4 415.5,620.3 417.5,619.6 419.6,619.9 421.6,620.4 423.7,620 425.7,619.7 427.8,620.3 429.8,620.1 431.9,620.1 433.9,619.4 436,620 438,619.9 440.1,619.9 442.1,620.5 444.1,619.7 446.2,620.6 448.2,621.1 450.3,620.7 452.3,620.2 454.4,620.5 456.4,622.1 458.5,621.4 460.5,620.6 462.6,648.4 464.6,703.3 466.7,750 468.7,792.4 470.8,833.5 472.8,865.1 474.9,886.4 476.9,901.7 478.9,913.5 481,913.1 483,923.3 485.1,924.4 487.1,943.8 489.2,957.5 491.2,956.9 493.3,960.3 495.3,962.5 497.4,972.2 499.4,967.2 501.5,967.9 503.5,970.7 505.6,972.7 507.6,971.3 509.7,968.4 511.7,973.8 513.7,977.4 515.8,979.5 517.8,980.5 519.9,975.1 521.9,982.8 524,980.9 526,979.3 528.1,983.6 530.1,981.5 532.2,981.2 534.2,981.5 536.3,983.7 538.3,981.9 540.4,982.1 542.4,982.1 544.5,977.8 546.5,979.2 548.5,979.7 550.6,979.7 552.6,979.1 554.7,983.1 556.7,984 558.8,982.4 560.8,984.6 562.9,984.6 564.9,985.4 567,984.5 569,985.7 571.1,986.6 573.1,988.4 575.2,987.6 577.2,978.8 579.3,979.3 581.3,986.2 583.3,978.5 585.4,981 587.4,985.3 589.5,985.2 591.5,983.8 593.6,985 595.6,986.9 597.7,987.3 599.7,985.1 601.8,986.8 603.8,988.6 605.9,987.2 607.9,987.4 610,988 612,974.1 614.1,973.3 616.1,980.8 618.1,983 620.2,983.7 622.2,984.4 624.3,988 626.3,988.3 628.4,988.4 630.4,982 632.5,986.7 634.5,969.5 636.6,976.5 638.6,978.2 640.7,985.7 642.7,984.9 644.8,986.9 646.8,988.6 648.9,988 650.9,989.1 653,989.3 655,987.8 657,992.2 659.1,989.3 661.1,988.4 663.2,987.9 665.2,988.8 667.3,989.2 669.3,989 671.4,988 673.4,990.9 675.5,987.9 677.5,991.9 679.6,990.2 681.6,989.3 683.7,989.2 685.7,989.9 687.8,994 689.8,989.9 691.8,989.5 693.9,990.9 695.9,992.8 698,991 700,976.5 702.1,975 704.1,983.1 706.2,986.2 708.2,981.9 710.3,984.9 712.3,987.4 714.4,988 716.4,987.7 718.5,991.8 720.5,991.4 722.6,989.9 724.6,992.2 726.6,989.8 728.7,987.8 730.7,979.3 732.8,983.3 734.8,982.1 736.9,977.7 738.9,982.9 741,986.7 743,988.2 745.1,987 747.1,988.8 749.2,991.1 751.2,990.9 753.3,989 755.3,989.7 757.4,990.8 759.4,989.4 761.4,990.8 763.5,991.6 765.5,987.3 767.6,988.2 769.6,986.7 771.7,989 773.7,989.2 775.8,989.5 777.8,992.4 779.9,989.9 781.9,988.4 784,991.8 786,992.4 788.1,992.2 790.1,992 792.2,990.8 794.2,991.4 796.2,991.5 798.3,994.6 800.3,991.5 802.4,991.9 804.4,992.8 806.5,992.5 808.5,984.5 810.6,981.2 812.6,985.1 814.7,988.7 816.7,988.9 818.8,991.5 820.8,990.3 822.9,991.6 824.9,991.8 827,988.8 829,988.5 831,989.8 833.1,990.3 835.1,993.4 837.2,993.3 839.2,980.4 841.3,985.2 843.3,988.7 845.4,990.4 847.4,991.4 849.5,993.4 851.5,986.9 853.6,989.2 855.6,990.2 857.7,991.1 859.7,990.3 861.8,990.9 863.8,992.5 865.8,992.8 867.9,994 869.9,991.8 872,993.2 874,992.8 876.1,984 878.1,987 880.2,990.1 882.2,991.7 884.3,992.1 886.3,992.5 888.4,989.2 890.4,988.4 892.5,991.7 894.5,991.6 896.6,993.4 898.6,993.4 900.6,992.8 902.7,993.1 904.7,992.6 906.8,977.6 908.8,983.8 910.9,988.4 912.9,991.1 915,991.3 917,992.4 919.1,992.3 921.1,993.2 923.2,994.6 925.2,993.6 927.3,990.9 929.3,989.5 931.4,992.1 933.4,991.8 935.5,993.1 937.5,993.2 939.5,993.9 941.6,993.3 943.6,995.6 945.7,993.9 947.7,992.4 949.8,992.9 951.8,995.1 953.9,985.6 955.9,980.1 958,985.7 960,988 962.1,991.6 964.1,991.7 966.2,992.8 968.2,986.9 970.3,989.2 972.3,991.5 974.3,992 976.4,993.8 978.4,994.8 980.5,994 982.5,993.6 984.6,993.4 986.6,992.9 988.7,989.7 990.7,992.5 992.8,993.1 994.8,993.8 996.9,994.3 998.9,996 1001,994.5 1003,994.3 1005.1,993.9 1007.1,993.9 1009.1,995.2 1011.2,988.2 1013.2,990.6 1015.3,992.2 1017.3,994 1019.4,993.1 1021.4,994.5 1023.5,995.2 1025.5,984.7 1027.6,988.6 1029.6,990.8 1031.7,991.6 1033.7,989.5 1035.8,990.6 1037.8,991.4 1039.9,993.1 1041.9,988.8 1043.9,982.5 1046,987.5 1048,975.7 1050.1,976.1 1052.1,983 1054.2,989.3 1056.2,991.4 1058.3,993.1 1060.3,993.4 1062.4,994 1064.4,995 1066.5,995 1068.5,995.7 1070.6,994.4 1072.6,994.6 1074.7,994.8 1076.7,994.7 1078.7,995 1080.8,996.1 1082.8,995 1084.9,995.5 1086.9,995.1 1089,993.8 1091,995.1 1093.1,995 1095.1,995.2 1097.2,994.9 1099.2,995.6 1101.3,996.7 1103.3,995.2 1105.4,995.9 1107.4,995.6 1109.5,994.7 1111.5,995.5 1113.5,995.1 1115.6,994.2 1117.6,995.3 1119.7,980 1121.7,986.1 1123.8,990 1125.8,990.2 1127.9,989.5 1129.9,992.7 1132,968.1 1134,973.7 1136.1,982.1 1138.1,987.1 1140.2,991.1 1142.2,992.5 1144.3,993.8 1146.3,989.2 1148.3,992 1150.4,993.6 1152.4,995 1154.5,995.9 1156.5,995.9 1158.6,996 1160.6,987.4 1162.7,990.7 1164.7,994 1166.8,989.4 1168.8,986.2 1170.9,989.2 1172.9,991.4 1175,993.4 1177,994 1179.1,993.6 1181.1,993.3 1183.1,993.9 1185.2,987.6 1187.2,990.9 1189.3,993.3 1191.3,994 1193.4,996.4 1195.4,995.2 1197.5,996.1 1199.5,996 1201.6,996.5 1203.6,996.6 1205.7,996.5 1207.7,996.8 1209.8,996.6 1211.8,996.1 1213.9,996.8 1215.9,996.4"/>
<polyline stroke="#ff7043" points="194.4,573.4 196.4,596.6 198.5,607.1 200.5,613.7 202.6,615.9 204.6,616.4 206.7,616.3 208.7,616.7 210.8,616.4 212.8,617 214.9,616.8 216.9,616.8 219,616.7 221,617.4 223.1,616.4 225.1,616.9 227.2,616.8 229.2,616.7 231.2,617.5 233.3,617.8 235.3,617.3 237.4,617.5 239.4,617.7 241.5,617.7 243.5,617.4 245.6,617.6 247.6,618.5 249.7,618 251.7,617.7 253.8,617.9 255.8,617.2 257.9,618.2 259.9,618.3 262,617.4 264,617.7 266,617.7 268.1,617.7 270.1,617.6 272.2,617.7 274.2,618.4 276.3,617.3 278.3,618 280.4,618 282.4,617.7 284.5,617.6 286.5,617.9 288.6,618.7 290.6,618.8 292.7,618 294.7,618 296.8,617.7 298.8,617.8 300.8,618.5 302.9,618.5 304.9,617.6 307,618.5 309,619.1 311.1,618 313.1,618.7 315.2,618.2 317.2,619.3 319.3,619.4 321.3,618.9 323.4,618.9 325.4,618.7 327.5,618.6 329.5,618.7 331.6,619.6 333.6,618.7 335.6,618.6 337.7,619 339.7,619.1 341.8,620.1 343.8,619.4 345.9,619 347.9,619.5 350,619.3 352,619.7 354.1,618.9 356.1,618.4 358.2,619.3 360.2,619.7 362.3,620 364.3,619.1 366.4,619.2 368.4,619.5 370.5,619.5 372.5,620 374.5,620.3 376.6,619.7 378.6,620.2 380.7,619.9 382.7,619.9 384.8,619.2 386.8,619.7 388.9,621 390.9,620.1 393,620 395,618.6 397.1,629.1 399.1,666.2 401.2,709.5 403.2,752.8 405.3,794.5 407.3,833.2 409.3,867.2 411.4,896.6 413.4,918.2 415.5,935.3 417.5,947 419.6,955.4 421.6,961.1 423.7,965.4 425.7,971.3 427.8,972.8 429.8,976.4 431.9,979 433.9,977.1 436,980.3 438,978.3 440.1,975.8 442.1,977.8 444.1,973 446.2,976.7 448.2,980.3 450.3,979.5 452.3,979.8 454.4,980.6 456.4,979.1 458.5,981.6 460.5,979.9 462.6,980.7 464.6,981.4 466.7,982.2 468.7,983.3 470.8,983 472.8,981.6 474.9,980.7 476.9,975.7 478.9,977.8 481,977.7 483,978.1 485.1,979.9 487.1,980.5 489.2,981.3 491.2,983.3 493.3,981.8 495.3,978.6 497.4,981.5 499.4,978.8 501.5,977.5 503.5,977.7 505.6,975.2 507.6,976.1 509.7,977.5 511.7,979.5 513.7,980.2 515.8,981.7 517.8,982.4 519.9,982.4 521.9,984.9 524,983.4 526,979.3 528.1,983.3 530.1,980.6 532.2,982.3 534.2,969.7 536.3,971.4 538.3,976.6 540.4,978.7 542.4,979.3 544.5,978.9 546.5,978.6 548.5,983 550.6,977.7 552.6,978.8 554.7,976.2 556.7,980.6 558.8,979.3 560.8,979.7 562.9,980.2 564.9,978.7 567,978.7 569,977.5 571.1,975.1 573.1,971.9 575.2,972.4 577.2,971.6 579.3,974.1 581.3,973.6 583.3,969.2 585.4,958.2 587.4,947.9 589.5,946.1 591.5,950.3 593.6,958.9 595.6,959.8 597.7,960.1 599.7,961.9 601.8,967.4 603.8,969.9 605.9,972.7 607.9,973.2 610,974 612,975.7 614.1,976.5 616.1,976.4 618.1,972.8 620.2,977.4 622.2,977.2 624.3,978.3 626.3,976.7 628.4,975.8 630.4,969.2 632.5,974.9 634.5,977.3 636.6,980.8 638.6,978.9 640.7,978.1 642.7,977.3 644.8,974.4 646.8,969.5 648.9,958.8 650.9,953 653,940 655,928.7 657,906.8 659.1,940.1 661.1,954.3 663.2,972.7 665.2,974.5 667.3,975.8 669.3,979.5 671.4,979.4 673.4,978.8 675.5,980.5 677.5,980.3 679.6,979.6 681.6,980.5 683.7,979.6 685.7,978.3 687.8,976.1 689.8,973.5 691.8,972 693.9,963.1 695.9,952.2 698,956.4 700,954.7 702.1,958.6 704.1,959.7 706.2,960.5 708.2,965.3 710.3,974.7 712.3,976.7 714.4,974.9 716.4,974.4 718.5,974.4 720.5,972.2 722.6,975.5 724.6,977.2 726.6,978.2 728.7,975.5 730.7,973.5 732.8,974.5 734.8,972.5 736.9,973.1 738.9,972.6 741,974.8 743,975.8 745.1,976 747.1,972.2 749.2,970.3 751.2,971.1 753.3,967.3 755.3,961.3 757.4,955.5 759.4,951.1 761.4,959.1 763.5,968.5 765.5,959.9 767.6,955.5 769.6,948.2 771.7,943.6 773.7,943.2 775.8,938.4 777.8,930.5 779.9,923.5 781.9,914.5 784,910.4 786,897.6 788.1,924 790.1,906.7 792.2,890 794.2,901.6 796.2,921.8 798.3,932.6 800.3,941.2 802.4,926 804.4,909.8 806.5,858.6 808.5,900.6 810.6,918.5 812.6,936.1 814.7,945.5 816.7,953.7 818.8,954.3 820.8,959.3 822.9,957.8 824.9,959.1 827,953.7 829,950.7 831,943.2 833.1,941.1 835.1,934.1 837.2,940.7 839.2,940.3 841.3,945.2 843.3,946.2 845.4,947.7 847.4,953.3 849.5,953 851.5,958.6 853.6,959 855.6,966.6 857.7,962.2 859.7,955.8 861.8,955.5 863.8,953.8 865.8,947.9 867.9,945.8 869.9,773.2 872,827.1 874,882.4 876.1,907.1 878.1,917.6 880.2,924.8 882.2,938.1 884.3,941.5 886.3,942.3 888.4,938.5 890.4,937 892.5,929.9 894.5,919 896.6,906 898.6,892.5 900.6,900.7 902.7,894.3 904.7,894.9 906.8,908 908.8,921.2 910.9,910.1 912.9,902.3 915,888.9 917,894 919.1,881.4 921.1,888 923.2,883.7 925.2,870.7 927.3,864.7 929.3,862.6 931.4,871.7 933.4,849.6 935.5,825.5 937.5,868.8 939.5,875.8 941.6,856.4 943.6,836.7 945.7,855.3 947.7,884.1 949.8,891.2 951.8,897.5 953.9,907.3 955.9,888.9 958,876.2 960,867.2 962.1,895.5 964.1,909.4 966.2,912.7 968.2,922.8 970.3,916 972.3,902.5 974.3,897.3 976.4,876.9 978.4,845.1 980.5,842.7 982.5,814.2 984.6,799.8 986.6,781.9 988.7,799.9 990.7,818.5 992.8,780.1 994.8,766 996.9,792.7 998.9,786.6 1001,785 1003,764.9 1005.1,754.9 1007.1,747.2 1009.1,772.1 1011.2,819.5 1013.2,863.7 1015.3,888.2 1017.3,901.4 1019.4,877.3 1021.4,874.1 1023.5,862.2 1025.5,833 1027.6,843.8 1029.6,836.8 1031.7,832 1033.7,861.1 1035.8,864.6 1037.8,852.5 1039.9,843.6 1041.9,835.5 1043.9,812.9 1046,765.9 1048,786.2 1050.1,798.8 1052.1,757 1054.2,781.9 1056.2,819.4 1058.3,861.1 1060.3,905.7 1062.4,864.5 1064.4,848 1066.5,836.5 1068.5,811.7 1070.6,800.8 1072.6,789.6 1074.7,787.4 1076.7,780.4 1078.7,806.1 1080.8,799.3 1082.8,789.6 1084.9,780.2 1086.9,782.8 1089,781.7 1091,767.8 1093.1,776.1 1095.1,747.4 1097.2,716 1099.2,687.8 1101.3,674 1103.3,728.6 1105.4,762.4 1107.4,786.2 1109.5,777.3 1111.5,764.3 1113.5,824.7 1115.6,846.1 1117.6,804.9 1119.7,749.5 1121.7,797.1 1123.8,786.7 1125.8,787 1127.9,818.7 1129.9,847.9 1132,810.4 1134,804.7 1136.1,842 1138.1,861.3 1140.2,835.6 1142.2,843.1 1144.3,822.6 1146.3,808.1 1148.3,811.5 1150.4,823.7 1152.4,843.4 1154.5,746.6 1156.5,660 1158.6,616.7 1160.6,595.7 1162.7,601.3 1164.7,618 1166.8,635.3 1168.8,658.2 1170.9,678.6 1172.9,703.3 1175,726.5 1177,752.8 1179.1,774.8 1181.1,728.1 1183.1,644.6 1185.2,746.6 1187.2,796.1 1189.3,805.4 1191.3,814.7 1193.4,823.2 1195.4,831.7 1197.5,839.5 1199.5,847.4 1201.6,854.2 1203.6,861 1205.7,866.3 1207.7,871.6 1209.8,874.8 1211.8,878 1213.9,880.1 1215.9,882.1"/>
</g>
</g>
<rect x="211.5" y="626.5" width="25.5" height="6" fill="#fff"/><rect x="270.7" y="626.5" width="7.3" height="6" fill="#fff"/>
<circle cx="224.1" cy="641.8" r="12.8" fill="#d27217"/>
<circle cx="224.1" cy="679.3" r="12.8" fill="#428fc9"/>
<text class="lg" x="245.7" y="650.1">Train</text>
<text class="lg" style="letter-spacing:.42px" x="245.7" y="690.1">Validation</text>
<text class="ti" style="font-size:29px" transform="translate(31.8,827.2) rotate(-90) scale(1,1.065)">Loos</text>
<text class="ti" x="709.2" y="1117.6">Epochs</text>
</svg></body></html>
